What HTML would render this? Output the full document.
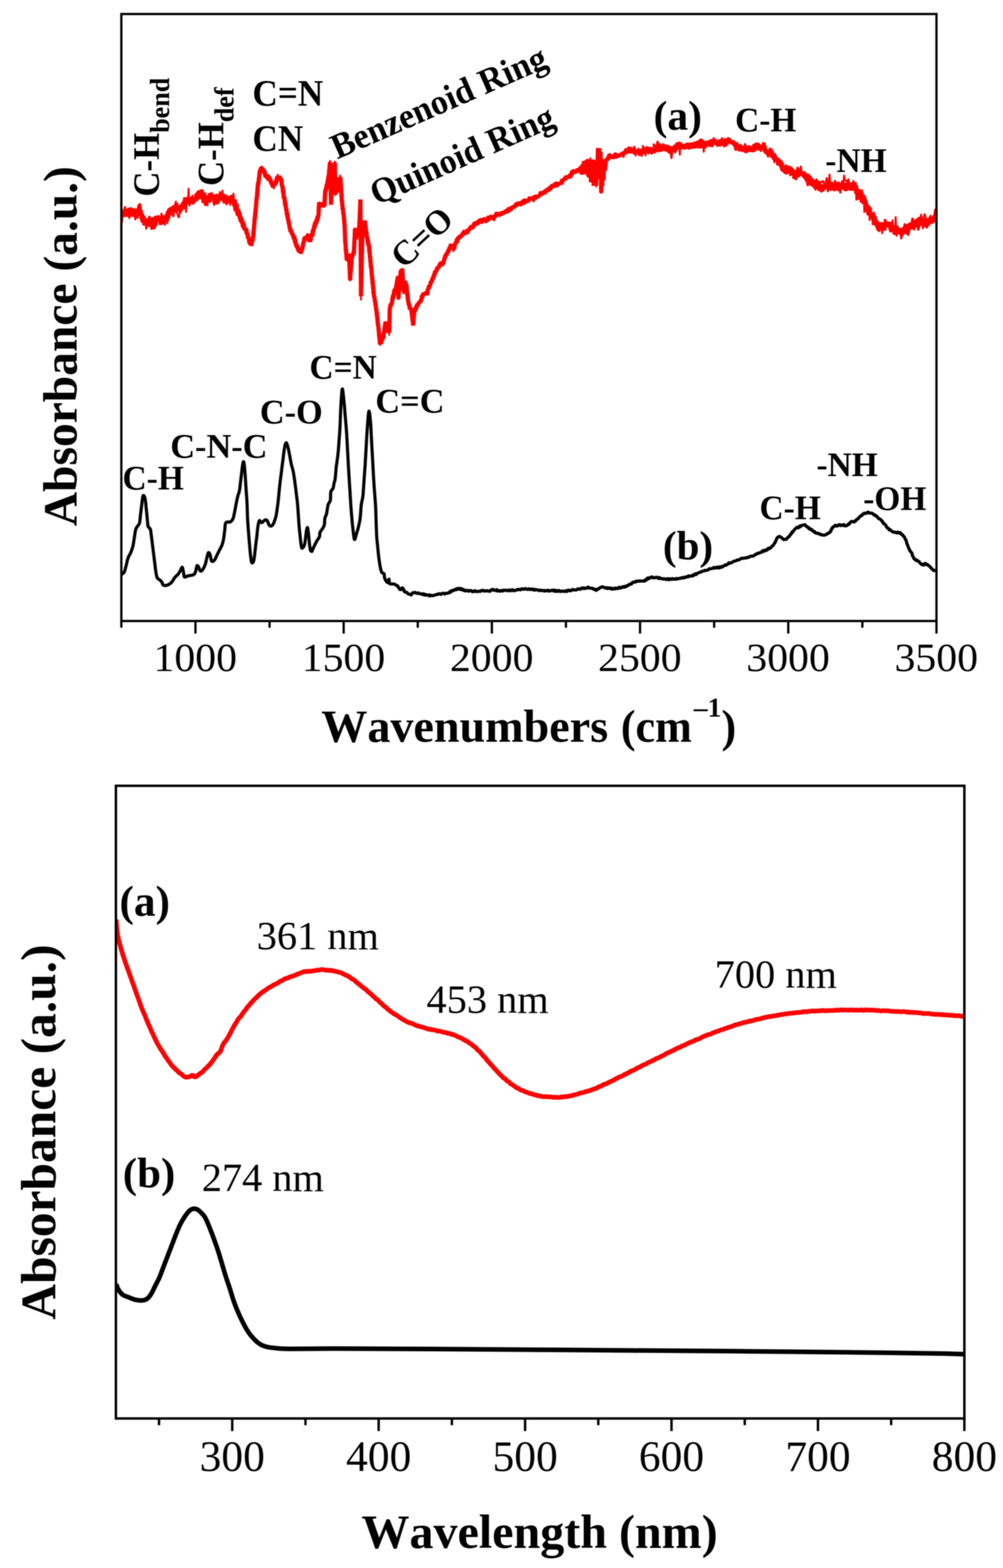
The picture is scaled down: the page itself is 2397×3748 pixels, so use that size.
<!DOCTYPE html>
<html lang="en">
<head>
<meta charset="utf-8">
<title>FTIR and UV-Vis absorbance spectra</title>
<style>
html,body{margin:0;padding:0;background:#fff;}
body{width:2397px;height:3748px;overflow:hidden;}
svg{display:block;filter:blur(0.9px);}
text{font-family:'Liberation Serif', 'Times New Roman', serif;fill:#000;font-kerning:none;}
.b{font-weight:bold;}
.ax{stroke:#000;fill:none;}
.red{stroke:#ff0000;fill:none;stroke-linejoin:bevel;stroke-linecap:butt;}
.blk{stroke:#000;fill:none;stroke-linejoin:round;stroke-linecap:butt;}
</style>
</head>
<body>
<svg width="2397" height="3748" viewBox="0 0 2397 3748">
<rect x="0" y="0" width="2397" height="3748" fill="#ffffff"/>

<g id="ftir">
<clipPath id="c1"><rect x="290.0" y="33.5" width="1951.0" height="1450.9"/></clipPath>
<g clip-path="url(#c1)">
<path class="red" stroke-width="10" d="M289.9,514.3 L291.0,514.8 L292.1,504.0 L293.1,515.5 L294.2,502.9 L295.3,515.5 L296.4,516.3 L297.5,510.5 L298.6,500.7 L299.7,510.0 L300.8,507.2 L301.9,517.9 L303.1,499.6 L304.2,513.4 L305.4,515.1 L306.6,508.2 L307.7,510.0 L308.9,496.9 L310.0,513.4 L311.2,503.1 L312.3,514.2 L313.4,513.8 L314.5,498.7 L315.6,512.2 L316.7,515.8 L317.8,498.2 L319.0,504.5 L320.3,512.7 L321.6,499.8 L322.9,514.9 L324.2,501.5 L325.5,513.3 L326.8,499.8 L328.1,507.8 L328.9,516.0 L329.8,500.6 L330.6,500.1 L331.5,503.5 L332.4,498.0 L333.2,490.5 L333.7,494.2 L334.1,495.4 L334.5,513.3 L334.9,509.6 L335.3,515.8 L335.7,502.3 L336.1,516.0 L336.5,502.8 L336.9,512.2 L337.3,515.2 L337.7,510.2 L338.1,522.2 L338.5,516.8 L338.9,518.6 L339.3,526.1 L339.7,511.1 L340.6,531.1 L341.5,524.9 L342.3,521.4 L343.2,531.2 L344.1,521.5 L344.9,538.1 L345.8,531.0 L346.7,528.0 L347.5,537.9 L348.8,532.0 L350.1,525.9 L351.4,537.2 L352.7,522.2 L354.0,537.8 L355.3,525.5 L356.6,534.0 L357.9,541.6 L359.2,533.4 L360.5,535.1 L361.8,528.0 L363.1,522.0 L364.4,523.1 L365.7,526.0 L367.0,536.2 L368.3,532.9 L369.0,533.8 L369.7,541.1 L370.4,524.6 L371.1,525.9 L371.9,534.0 L372.6,519.4 L373.3,517.5 L374.0,523.3 L374.7,516.7 L375.4,520.4 L376.1,516.3 L377.2,524.3 L378.3,525.0 L379.4,517.5 L380.6,526.7 L381.7,525.1 L382.8,519.5 L383.9,537.5 L385.2,523.8 L386.5,522.6 L387.8,520.3 L389.1,530.5 L390.4,534.2 L391.7,531.3 L393.0,522.3 L394.3,520.4 L394.9,515.0 L395.6,528.1 L396.2,526.2 L396.9,521.7 L397.5,526.1 L398.2,520.1 L398.8,528.6 L399.5,522.6 L400.1,510.8 L400.8,523.1 L401.4,504.1 L402.1,512.9 L402.9,509.2 L403.8,504.5 L404.7,499.8 L405.5,513.7 L406.4,496.9 L407.3,507.0 L408.1,514.1 L409.0,496.8 L409.9,497.2 L410.7,504.9 L411.6,502.1 L412.5,504.1 L413.4,507.5 L414.4,494.1 L415.4,496.6 L416.4,496.2 L417.3,490.8 L418.3,506.6 L419.3,502.9 L420.3,499.9 L421.2,485.3 L422.2,502.7 L423.2,501.9 L424.2,497.4 L425.1,504.4 L426.1,499.7 L427.1,496.3 L428.1,494.7 L428.8,496.4 L429.5,491.4 L430.2,496.5 L430.9,504.1 L431.6,501.6 L432.3,503.3 L433.0,499.1 L433.7,488.6 L434.4,493.1 L435.1,489.8 L435.8,496.3 L436.8,490.1 L437.7,484.0 L438.7,491.0 L439.6,496.2 L440.6,479.2 L441.5,491.4 L442.5,472.0 L443.4,475.6 L444.3,474.1 L445.3,483.6 L446.2,486.8 L447.5,482.4 L448.8,473.5 L450.1,484.7 L451.4,473.2 L452.7,471.2 L454.0,484.8 L455.3,478.9 L456.6,480.5 L457.9,480.1 L459.2,486.8 L460.5,476.6 L461.8,484.4 L463.0,480.5 L464.1,482.7 L465.3,473.1 L466.4,478.0 L467.6,473.8 L468.7,467.5 L469.9,464.7 L471.1,472.3 L472.2,460.2 L473.3,476.5 L474.4,460.3 L475.5,457.5 L476.7,458.7 L477.8,475.1 L478.9,462.7 L480.0,457.7 L481.1,455.9 L482.2,456.8 L483.3,470.7 L484.5,470.1 L485.6,472.0 L486.7,473.3 L487.8,460.2 L488.4,471.9 L488.9,468.2 L489.5,479.2 L490.1,481.0 L490.7,484.2 L491.3,469.1 L491.8,487.2 L492.4,489.2 L493.0,490.9 L493.9,472.8 L494.9,473.9 L495.8,471.0 L496.8,468.1 L497.7,483.3 L498.7,481.3 L499.6,476.3 L500.5,478.8 L501.5,474.4 L502.4,466.9 L503.4,462.7 L504.5,463.7 L505.7,478.3 L506.8,467.7 L508.0,470.7 L509.1,473.5 L510.3,465.9 L511.5,471.4 L512.6,473.1 L513.8,483.0 L515.1,475.9 L516.4,474.9 L517.7,488.0 L519.0,478.0 L520.3,484.5 L521.6,479.2 L522.7,466.4 L523.9,473.5 L525.0,472.9 L526.2,478.6 L527.3,468.8 L528.5,475.1 L529.6,470.6 L530.8,464.2 L531.9,477.6 L532.7,463.8 L533.5,480.5 L534.3,469.1 L535.1,465.7 L535.8,469.8 L536.6,481.2 L537.4,485.7 L538.2,465.9 L539.0,477.2 L539.7,478.6 L540.9,484.5 L542.0,471.9 L543.2,477.9 L544.4,474.8 L545.5,484.4 L546.7,472.6 L547.8,486.3 L549.0,472.7 L550.1,470.1 L551.2,479.8 L552.4,475.5 L553.5,467.5 L554.6,478.0 L555.7,467.7 L556.8,483.0 L557.9,482.1 L558.3,485.5 L558.7,483.9 L559.0,479.1 L559.4,480.7 L559.8,481.2 L560.1,492.0 L560.5,476.4 L560.9,494.5 L561.3,479.2 L561.6,484.7 L562.0,487.8 L562.4,502.2 L562.7,495.7 L563.1,494.7 L564.0,505.3 L564.8,493.9 L565.7,499.1 L566.6,501.1 L567.4,505.7 L568.3,506.3 L568.7,505.4 L569.0,501.2 L569.4,502.3 L569.7,500.9 L570.0,514.3 L570.4,512.6 L570.7,515.5 L571.1,506.4 L571.4,511.6 L571.8,517.9 L572.1,515.3 L572.5,508.5 L572.8,515.7 L573.2,524.1 L573.5,515.2 L574.0,516.0 L574.5,519.4 L575.1,526.8 L575.6,530.1 L576.1,520.6 L576.6,521.7 L577.1,524.3 L577.7,526.7 L578.2,530.8 L578.7,526.7 L579.2,530.4 L579.7,529.6 L580.3,541.9 L580.8,539.5 L581.3,531.9 L581.9,544.8 L582.5,534.3 L583.1,539.6 L583.7,549.0 L584.3,547.9 L584.9,548.5 L585.5,546.2 L586.1,544.5 L586.7,551.2 L587.3,546.0 L587.9,548.5 L588.5,552.0 L589.1,548.8 L589.4,553.9 L589.8,559.2 L590.1,559.0 L590.5,557.8 L590.8,560.6 L591.2,560.0 L591.5,557.7 L591.9,564.2 L592.2,563.4 L592.6,567.9 L592.9,570.6 L593.2,566.1 L593.6,568.6 L593.9,571.3 L594.3,569.3 L594.8,568.8 L595.2,575.8 L595.7,579.2 L596.2,579.6 L596.7,580.0 L597.1,582.8 L597.6,582.0 L598.1,582.8 L598.6,581.8 L599.0,581.7 L599.5,586.6 L600.0,582.1 L600.4,584.6 L600.7,587.5 L601.1,585.4 L601.4,583.0 L601.8,577.4 L602.2,577.9 L602.5,576.9 L602.9,577.1 L603.2,573.1 L603.6,574.4 L604.0,575.6 L604.3,565.7 L604.7,569.7 L604.8,569.8 L604.9,564.3 L605.0,564.1 L605.2,568.2 L605.3,556.8 L605.4,561.3 L605.5,555.9 L605.6,561.6 L605.8,562.3 L605.9,555.9 L606.0,549.6 L606.1,553.1 L606.3,551.0 L606.4,551.3 L606.5,548.0 L606.6,548.4 L606.7,549.4 L606.9,545.0 L607.0,542.8 L607.1,547.2 L607.2,537.6 L607.4,541.4 L607.5,536.7 L607.6,539.2 L607.7,530.9 L607.8,539.0 L608.0,530.8 L608.1,526.2 L608.2,527.2 L608.3,527.3 L608.4,521.7 L608.6,524.8 L608.7,523.5 L608.8,525.2 L608.9,520.6 L609.1,518.8 L609.2,517.5 L609.3,522.3 L609.4,523.6 L609.5,517.4 L609.7,512.3 L609.8,517.0 L609.9,510.8 L610.0,507.1 L610.2,505.0 L610.3,510.8 L610.4,510.0 L610.5,506.8 L610.6,503.8 L610.8,503.6 L610.9,498.7 L611.0,505.6 L611.1,497.7 L611.2,499.6 L611.4,500.6 L611.5,499.6 L611.6,494.8 L611.7,491.9 L611.9,493.6 L612.0,487.2 L612.1,493.2 L612.2,486.1 L612.3,489.8 L612.5,481.6 L612.6,481.7 L612.7,479.3 L612.8,480.1 L613.0,476.4 L613.1,473.4 L613.2,480.0 L613.3,473.9 L613.4,472.3 L613.6,471.7 L613.7,472.4 L613.8,470.8 L613.9,471.9 L614.1,471.1 L614.2,466.8 L614.3,471.8 L614.4,469.7 L614.5,459.7 L614.7,466.7 L614.8,466.2 L614.9,463.6 L615.0,455.3 L615.1,461.5 L615.3,458.1 L615.4,450.1 L615.5,448.8 L615.6,457.4 L615.8,452.5 L615.9,446.4 L616.0,443.1 L616.1,441.9 L616.2,441.7 L616.4,446.4 L616.5,440.5 L616.7,437.2 L616.9,444.1 L617.1,441.6 L617.2,433.5 L617.4,440.0 L617.6,435.6 L617.8,436.1 L618.0,433.9 L618.1,435.4 L618.3,433.3 L618.5,432.8 L618.7,424.9 L618.8,429.0 L619.0,426.0 L619.2,427.1 L619.4,422.5 L619.6,426.1 L619.7,420.7 L619.9,415.8 L620.1,413.7 L620.3,410.8 L620.7,413.0 L621.2,407.1 L621.7,410.4 L622.1,405.7 L622.6,408.3 L623.1,407.2 L623.6,406.5 L624.0,408.9 L624.5,398.5 L625.0,406.3 L625.5,401.2 L626.2,403.3 L626.9,405.5 L627.7,408.5 L628.4,404.6 L629.2,406.2 L629.9,413.3 L630.6,405.1 L631.2,412.4 L631.8,413.7 L632.4,408.5 L633.0,415.9 L633.5,417.9 L634.1,421.8 L634.7,416.6 L635.3,424.8 L635.8,420.7 L637.0,421.0 L638.1,425.9 L639.2,417.3 L640.3,425.1 L641.4,424.7 L642.5,422.2 L643.6,428.3 L644.2,424.2 L644.7,426.4 L645.2,428.4 L645.7,432.4 L646.2,428.0 L646.8,431.8 L647.3,433.1 L647.8,435.7 L648.3,439.7 L648.8,435.3 L649.4,442.1 L649.9,438.9 L650.4,441.2 L650.9,440.1 L651.4,443.9 L652.4,447.9 L653.4,443.8 L654.4,444.4 L655.3,438.9 L656.3,438.0 L657.3,437.1 L658.2,439.3 L659.2,438.7 L659.6,438.9 L660.0,429.8 L660.4,435.5 L660.8,435.8 L661.2,431.0 L661.6,424.6 L662.0,425.9 L662.4,421.6 L662.8,422.2 L663.2,428.5 L663.6,424.2 L664.0,423.6 L664.4,423.8 L665.7,425.7 L667.0,423.3 L668.3,424.1 L669.6,424.9 L669.9,426.9 L670.3,427.2 L670.6,429.0 L670.9,425.2 L671.2,430.7 L671.6,429.5 L671.9,433.6 L672.2,428.7 L672.5,431.3 L672.9,431.6 L673.2,440.9 L673.5,444.1 L673.8,442.7 L674.2,441.0 L674.5,446.8 L674.8,447.7 L675.0,446.6 L675.1,444.8 L675.3,446.6 L675.5,449.1 L675.6,449.4 L675.8,451.8 L676.0,455.2 L676.2,459.4 L676.3,451.7 L676.5,458.1 L676.7,454.0 L676.8,455.8 L677.0,463.8 L677.2,462.4 L677.3,466.9 L677.5,463.2 L677.7,460.1 L677.8,465.1 L678.0,468.5 L678.2,473.2 L678.4,474.9 L678.7,471.0 L678.9,471.5 L679.1,469.5 L679.4,476.1 L679.6,472.8 L679.8,473.8 L680.1,474.1 L680.3,475.6 L680.5,484.0 L680.8,480.0 L681.0,489.4 L681.3,481.6 L681.5,490.4 L681.7,483.9 L682.0,483.8 L682.2,492.1 L682.4,488.6 L682.7,494.9 L682.9,490.7 L683.1,490.6 L683.4,499.2 L683.6,500.0 L683.8,502.8 L684.1,502.9 L684.3,497.9 L684.6,504.6 L684.8,506.7 L685.0,505.4 L685.3,511.4 L685.5,505.9 L685.7,514.4 L686.0,513.4 L686.2,507.7 L686.4,509.1 L686.7,516.9 L686.9,519.7 L687.2,513.5 L687.4,516.9 L687.6,522.2 L687.9,517.7 L688.1,525.9 L688.3,523.5 L688.6,520.5 L688.9,524.8 L689.1,528.2 L689.4,528.2 L689.7,531.9 L690.0,528.0 L690.3,535.9 L690.6,533.0 L690.9,537.0 L691.2,538.2 L691.5,537.3 L691.7,538.3 L692.0,543.5 L692.3,546.5 L692.6,546.4 L692.9,545.7 L693.2,544.4 L693.5,543.6 L693.8,553.7 L694.5,552.0 L695.3,554.1 L696.0,550.2 L696.7,553.8 L697.5,559.0 L698.2,559.2 L699.0,558.5 L699.4,557.3 L699.8,560.1 L700.2,565.7 L700.6,561.7 L701.0,565.8 L701.4,566.1 L701.8,570.0 L702.2,570.1 L702.6,565.9 L703.0,564.1 L703.4,567.5 L703.8,570.0 L704.2,572.9 L704.6,576.4 L705.0,578.4 L705.4,571.4 L705.8,580.3 L706.2,581.4 L706.6,583.2 L707.0,581.5 L707.4,579.9 L707.8,586.8 L708.2,587.6 L708.6,587.6 L709.0,591.0 L709.4,586.7 L709.9,585.3 L710.5,590.9 L711.1,594.3 L711.7,589.5 L712.2,595.9 L712.8,598.7 L713.4,593.4 L714.0,598.6 L714.5,600.9 L715.5,599.8 L716.5,598.4 L717.5,599.6 L718.4,605.1 L718.9,604.4 L719.4,600.1 L719.9,595.4 L720.3,600.9 L720.8,599.1 L721.3,592.4 L721.7,594.3 L722.2,595.9 L722.7,594.6 L723.2,589.9 L723.6,588.3 L724.0,588.1 L724.3,582.9 L724.6,581.4 L724.9,579.8 L725.3,583.3 L725.6,578.5 L725.9,579.0 L726.2,576.1 L726.6,575.9 L726.9,571.1 L727.2,568.8 L727.5,576.7 L728.5,569.8 L729.5,566.4 L730.5,570.6 L731.4,571.3 L732.4,564.4 L733.4,567.6 L734.4,564.2 L735.3,564.8 L735.9,561.1 L736.5,562.4 L737.1,573.0 L737.6,573.3 L738.2,571.1 L738.8,573.4 L739.4,571.9 L739.9,577.7 L740.5,575.0 L741.0,578.5 L741.5,575.2 L741.9,574.2 L742.4,574.3 L742.9,566.2 L743.4,562.9 L743.8,563.2 L744.3,561.8 L744.8,560.2 L745.2,559.2 L745.7,563.4 L746.0,565.6 L746.4,560.8 L746.7,564.0 L747.0,562.1 L747.3,552.5 L747.7,556.1 L748.0,552.6 L748.3,548.4 L748.6,555.0 L749.0,546.7 L749.3,548.2 L749.6,547.4 L749.9,549.3 L750.3,545.5 L750.6,541.8 L750.9,541.2 L751.4,537.5 L751.9,543.7 L752.3,542.5 L752.8,533.7 L753.3,530.5 L753.7,531.1 L754.2,531.1 L754.7,535.5 L755.2,534.6 L755.6,533.0 L756.1,524.6 L756.5,530.7 L756.9,529.0 L757.3,527.4 L757.7,529.7 L758.1,519.9 L758.5,519.5 L758.9,524.0 L759.3,524.5 L759.7,520.8 L760.1,515.9 L760.5,517.4 L760.9,517.7 L761.3,510.2 L761.4,510.9 L761.4,508.9 L761.5,506.1 L761.5,507.9 L761.6,503.4 L761.7,502.6 L761.7,500.1 L761.8,504.0 L761.8,496.4 L761.9,501.8 L761.9,495.6 L762.0,492.9 L762.1,500.0 L762.1,491.8 L762.2,497.2 L762.2,495.2 L762.3,494.0 L762.4,485.9 L762.4,487.8 L762.5,483.5 L762.5,490.5 L762.6,488.7 L763.4,487.5 L764.2,486.6 L765.0,486.4 L765.8,491.9 L766.7,489.4 L767.5,492.0 L768.3,488.5 L769.1,490.3 L770.4,488.4 L771.7,494.2 L773.0,491.9 L774.3,487.3 L775.6,493.4 L775.6,486.1 L775.7,486.0 L775.7,482.2 L775.8,481.9 L775.9,486.0 L775.9,479.8 L776.0,476.9 L776.0,479.0 L776.1,476.4 L776.1,480.9 L776.2,472.5 L776.2,479.6 L776.3,469.7 L776.3,476.4 L776.4,473.1 L776.5,467.6 L776.5,468.9 L776.6,465.7 L776.6,464.1 L776.7,462.2 L776.7,462.3 L776.8,466.9 L776.8,465.6 L776.9,463.6 L777.2,454.6 L777.6,455.1 L777.9,459.6 L778.3,450.5 L778.6,455.6 L779.0,450.3 L779.3,455.6 L779.7,445.3 L780.0,451.5 L780.3,445.9 L780.7,442.7 L781.0,440.2 L781.4,446.7 L781.7,442.4 L782.1,437.7 L782.3,438.4 L782.6,441.3 L782.8,433.2 L783.1,435.4 L783.3,430.2 L783.5,429.5 L783.8,433.9 L784.0,432.2 L784.3,425.9 L784.5,423.4 L784.8,422.1 L785.0,425.7 L785.2,423.2 L785.5,419.6 L785.7,417.5 L786.0,419.9 L786.1,419.3 L786.2,418.8 L786.3,415.4 L786.4,410.5 L786.5,407.9 L786.6,412.9 L786.7,408.5 L786.8,410.3 L786.9,402.9 L787.1,408.8 L787.2,403.2 L787.3,406.8 L787.4,405.7 L787.5,400.9 L787.6,395.1 L787.7,402.2 L787.8,396.8 L787.9,399.4 L788.0,392.7 L788.1,390.9 L788.2,395.9 L788.4,390.4 L788.5,387.4 L788.6,388.2 L788.6,391.7 L788.6,387.6 L788.7,393.9 L788.7,394.2 L788.7,395.9 L788.8,393.2 L788.8,399.8 L788.9,401.8 L788.9,403.8 L788.9,400.3 L789.0,405.5 L789.0,404.0 L789.0,409.0 L789.1,403.8 L789.1,412.8 L789.1,414.9 L789.2,411.9 L789.2,413.4 L789.2,414.8 L789.3,416.2 L789.3,412.6 L789.3,422.8 L789.4,417.1 L789.4,417.7 L789.4,417.9 L789.5,420.3 L789.5,426.6 L789.6,420.2 L789.6,422.0 L789.6,428.9 L789.7,425.4 L789.7,424.9 L789.7,431.6 L789.8,432.7 L789.8,433.5 L789.8,436.5 L789.9,432.2 L789.9,440.7 L789.9,440.5 L790.0,435.5 L790.0,437.5 L790.0,442.3 L790.1,443.6 L790.1,442.8 L790.2,442.7 L790.2,446.6 L790.2,445.4 L790.3,451.0 L790.3,455.0 L790.3,449.9 L790.4,455.4 L790.4,458.5 L790.4,454.6 L790.5,462.2 L790.5,464.7 L790.5,461.0 L790.6,462.8 L790.6,468.2 L790.6,466.5 L790.7,466.5 L790.7,472.9 L790.7,472.6 L790.8,469.8 L790.8,470.0 L790.9,472.0 L790.9,474.0 L790.9,480.2 L791.0,479.7 L791.0,482.1 L791.0,482.6 L791.1,484.3 L791.1,478.2 L791.1,483.9 L791.2,489.5 L791.2,488.0 L791.3,480.4 L791.4,480.8 L791.4,481.5 L791.5,477.3 L791.6,477.2 L791.7,471.2 L791.7,472.9 L791.8,471.9 L791.9,466.4 L791.9,466.5 L792.0,473.3 L792.1,470.5 L792.1,471.0 L792.2,467.0 L792.3,467.5 L792.4,467.0 L792.4,465.9 L792.5,456.7 L792.6,461.1 L792.6,456.2 L792.7,458.7 L792.8,453.5 L792.8,454.7 L792.9,456.9 L793.0,452.8 L793.0,448.0 L793.1,449.2 L793.2,447.1 L793.3,450.5 L793.3,442.8 L793.4,441.5 L793.5,443.3 L793.5,436.9 L793.6,439.9 L793.7,441.8 L793.7,436.2 L793.8,432.5 L793.9,432.9 L794.0,432.5 L794.0,427.9 L794.1,426.7 L794.2,425.8 L794.2,426.4 L794.3,425.9 L794.4,423.2 L794.4,421.3 L794.5,418.3 L794.6,421.0 L794.6,422.7 L794.7,419.5 L794.8,418.1 L794.9,417.8 L794.9,412.6 L795.0,416.1 L795.1,412.6 L795.4,412.2 L795.6,411.6 L795.9,409.0 L796.2,405.9 L796.5,403.7 L796.8,401.9 L797.1,403.0 L797.4,400.2 L797.7,400.8 L798.0,394.1 L798.2,396.0 L798.5,399.5 L798.8,392.4 L799.1,394.3 L799.4,392.7 L799.7,389.8 L800.0,395.3 L800.3,387.9 L800.3,393.5 L800.3,388.9 L800.3,389.3 L800.3,397.9 L800.4,395.1 L800.4,392.6 L800.4,396.6 L800.4,398.1 L800.5,401.9 L800.5,397.0 L800.5,399.4 L800.5,407.5 L800.6,406.7 L800.6,402.6 L800.6,405.5 L800.6,407.0 L800.6,411.3 L800.7,412.1 L800.7,415.6 L800.7,416.6 L800.7,415.5 L800.8,419.2 L800.8,421.0 L800.8,422.8 L800.8,421.9 L800.8,426.0 L800.9,426.6 L800.9,429.7 L800.9,423.6 L800.9,431.8 L801.0,424.7 L801.0,432.7 L801.0,432.0 L801.0,432.1 L801.0,437.4 L801.1,435.4 L801.1,435.6 L801.1,440.7 L801.1,443.2 L801.2,442.4 L801.2,441.6 L801.2,443.7 L801.2,445.1 L801.2,449.0 L801.3,446.4 L801.3,448.4 L801.3,451.1 L801.3,450.6 L801.4,451.1 L801.4,456.6 L801.4,458.3 L801.4,456.2 L801.4,456.8 L801.5,455.5 L801.5,457.8 L801.5,457.7 L801.5,463.1 L801.6,464.6 L801.6,458.8 L801.7,465.3 L801.8,458.3 L801.9,461.6 L802.0,460.0 L802.1,459.6 L802.2,451.1 L802.3,451.8 L802.3,454.9 L802.4,445.2 L802.5,444.2 L802.6,447.6 L802.7,446.2 L802.8,449.4 L802.9,447.2 L802.9,444.2 L803.0,447.7 L803.1,441.8 L803.2,440.3 L803.3,440.4 L803.4,436.2 L803.5,434.4 L803.5,435.2 L803.6,431.6 L803.7,435.8 L803.8,431.9 L803.9,429.1 L804.0,424.1 L804.1,425.6 L804.2,424.7 L804.4,427.7 L804.6,429.4 L804.8,433.3 L805.0,435.1 L805.2,431.7 L805.4,432.3 L805.6,435.0 L805.8,440.0 L806.0,435.5 L806.2,438.7 L806.4,442.9 L806.6,438.4 L806.8,441.1 L807.0,448.5 L807.2,448.4 L807.4,446.7 L807.6,444.3 L807.8,452.5 L808.0,451.6 L808.2,453.8 L808.4,456.3 L808.6,456.3 L808.8,453.3 L809.0,452.2 L809.2,454.7 L809.4,458.1 L809.5,456.8 L809.7,452.6 L809.8,451.2 L810.0,454.1 L810.1,452.6 L810.2,449.0 L810.4,453.6 L810.5,449.0 L810.7,442.1 L810.8,444.2 L811.0,446.4 L811.1,440.8 L811.3,443.3 L811.4,435.8 L811.6,437.5 L811.7,441.3 L811.9,437.5 L812.0,436.8 L812.2,430.9 L812.3,432.2 L812.5,431.3 L812.6,427.4 L812.8,429.7 L812.9,427.4 L813.1,430.5 L813.2,425.4 L813.3,425.0 L813.4,423.5 L813.5,425.0 L813.6,431.7 L813.7,426.8 L813.8,428.5 L813.9,430.8 L813.9,435.8 L814.0,440.3 L814.1,440.1 L814.2,442.9 L814.3,437.0 L814.4,437.5 L814.5,445.5 L814.5,442.4 L814.6,447.4 L814.7,445.4 L814.8,445.0 L814.9,447.3 L815.0,447.1 L815.1,455.9 L815.2,454.3 L815.2,453.5 L815.3,455.8 L815.4,456.6 L815.5,455.0 L815.6,464.2 L815.7,462.8 L815.8,467.8 L815.8,464.4 L816.0,467.1 L816.1,464.7 L816.2,463.9 L816.3,473.1 L816.4,473.5 L816.5,470.0 L816.6,477.0 L816.7,477.8 L816.8,474.6 L816.9,478.9 L817.0,483.3 L817.1,480.1 L817.3,485.4 L817.4,479.9 L817.5,482.4 L817.6,486.7 L817.7,483.4 L817.8,485.6 L817.9,492.1 L818.0,489.8 L818.1,494.0 L818.2,490.2 L818.3,490.8 L818.4,493.8 L818.6,493.5 L818.8,501.8 L818.9,496.6 L819.1,500.1 L819.3,497.0 L819.4,501.9 L819.6,502.1 L819.7,503.7 L819.9,502.1 L820.1,504.2 L820.2,512.2 L820.4,509.0 L820.6,509.2 L820.7,509.8 L820.9,511.8 L821.0,512.6 L821.2,511.9 L821.4,518.9 L821.5,517.2 L821.7,516.6 L821.9,522.9 L822.0,519.0 L822.2,522.3 L822.3,529.3 L822.5,524.4 L822.6,529.0 L822.7,533.5 L822.8,534.2 L822.9,529.1 L823.0,531.9 L823.2,536.2 L823.3,534.4 L823.4,541.2 L823.5,535.7 L823.6,543.9 L823.7,541.3 L823.7,540.1 L823.8,543.7 L823.8,542.1 L823.9,548.9 L823.9,546.2 L823.9,553.3 L824.0,551.6 L824.0,550.8 L824.1,550.9 L824.1,555.4 L824.2,553.0 L824.2,560.2 L824.2,554.5 L824.3,559.3 L824.3,560.7 L824.4,559.6 L824.4,565.6 L824.5,563.5 L824.5,567.4 L824.5,567.9 L824.6,566.9 L824.6,568.9 L824.7,567.5 L824.7,569.6 L824.8,577.1 L824.8,573.7 L824.8,578.3 L824.9,574.6 L824.9,580.2 L825.1,579.7 L825.2,582.0 L825.3,581.0 L825.4,579.8 L825.5,583.0 L825.7,583.2 L825.8,583.8 L825.9,590.8 L826.0,588.3 L826.2,591.0 L826.3,597.2 L826.4,597.1 L826.5,599.2 L826.6,600.1 L826.8,594.6 L826.9,597.0 L827.0,596.1 L827.1,603.4 L827.2,604.5 L827.4,603.0 L827.5,604.8 L827.6,608.7 L827.7,610.6 L827.9,608.0 L828.0,615.1 L828.1,612.1 L828.2,615.8 L828.3,612.8 L828.5,613.4 L828.6,621.9 L828.7,621.4 L828.8,622.5 L829.3,615.2 L829.8,614.0 L830.2,614.0 L830.7,613.2 L831.2,613.1 L831.7,612.7 L832.1,608.5 L832.6,609.9 L833.1,611.8 L833.6,606.5 L834.0,611.5 L834.1,610.4 L834.1,613.1 L834.2,610.3 L834.3,613.0 L834.3,616.3 L834.4,614.3 L834.4,612.1 L834.5,620.8 L834.5,621.7 L834.6,618.6 L834.6,617.7 L834.7,626.6 L834.8,625.7 L834.8,621.8 L834.9,624.9 L834.9,624.9 L835.0,632.4 L835.0,628.3 L835.1,636.0 L835.2,635.8 L835.2,631.0 L835.3,637.9 L835.3,636.5 L835.4,641.1 L835.4,643.2 L835.5,639.6 L835.6,639.2 L835.6,648.5 L835.7,644.9 L835.7,650.7 L835.8,649.7 L835.8,651.3 L835.9,653.3 L835.9,652.8 L836.0,652.5 L836.1,650.2 L836.1,657.4 L836.2,656.3 L836.2,658.3 L836.3,663.4 L836.3,657.4 L836.4,664.4 L836.5,659.1 L836.5,666.7 L836.6,669.2 L836.6,665.8 L836.7,667.3 L836.8,670.1 L836.9,665.7 L837.0,663.4 L837.1,659.3 L837.2,656.1 L837.3,657.4 L837.4,656.7 L837.5,653.6 L837.6,653.4 L837.8,650.6 L837.9,654.6 L838.0,653.0 L838.1,647.7 L838.2,646.5 L838.3,647.8 L838.4,645.8 L838.5,648.7 L838.6,641.7 L838.7,639.5 L838.8,643.2 L838.9,634.8 L839.0,637.5 L839.1,634.3 L839.2,637.5 L839.3,633.9 L839.4,634.7 L839.5,628.2 L839.6,631.7 L839.7,630.0 L839.8,627.6 L839.9,629.3 L840.0,628.5 L840.1,620.6 L840.2,620.9 L840.3,620.2 L840.4,617.4 L840.5,614.4 L841.0,614.9 L841.5,612.6 L841.9,615.6 L842.4,611.8 L842.9,607.5 L843.4,608.3 L843.8,608.4 L844.3,606.2 L844.8,603.3 L845.2,601.4 L845.7,599.8 L845.8,607.6 L845.8,604.3 L845.9,597.1 L846.0,601.4 L846.0,602.3 L846.1,597.0 L846.1,591.4 L846.2,593.3 L846.3,591.6 L846.3,588.2 L846.4,590.2 L846.5,584.1 L846.5,591.2 L846.6,587.3 L846.6,585.8 L846.7,587.2 L846.8,583.2 L846.8,578.2 L846.9,577.1 L847.0,575.2 L847.0,573.2 L847.1,579.0 L847.1,578.6 L847.2,572.4 L847.3,570.2 L847.3,573.0 L847.4,573.7 L847.4,573.2 L847.5,565.0 L847.6,569.4 L847.6,568.6 L847.7,566.6 L847.8,561.5 L847.8,558.6 L847.9,562.7 L847.9,556.4 L848.0,555.2 L848.1,555.2 L848.1,552.5 L848.2,555.7 L848.2,549.3 L848.3,546.5 L848.7,552.8 L849.1,554.5 L849.5,557.4 L849.9,557.5 L850.3,560.5 L850.7,562.0 L851.1,558.9 L851.5,559.9 L851.9,557.7 L852.3,559.9 L852.7,563.4 L853.1,560.4 L853.5,567.5 L853.8,561.8 L854.0,563.5 L854.3,567.3 L854.5,558.1 L854.8,556.4 L855.1,558.8 L855.3,555.2 L855.6,558.8 L855.8,550.6 L856.1,556.5 L856.4,555.0 L856.6,552.7 L856.9,547.7 L857.1,545.5 L857.4,548.0 L857.7,545.7 L857.9,544.0 L858.2,542.3 L858.4,541.6 L858.7,542.1 L858.8,542.0 L858.8,541.1 L858.9,532.8 L858.9,532.8 L859.0,532.9 L859.0,532.7 L859.1,529.5 L859.1,526.9 L859.2,524.9 L859.3,526.0 L859.3,526.2 L859.4,529.8 L859.4,528.2 L859.5,526.5 L859.5,526.1 L859.6,524.6 L859.6,520.1 L859.7,520.5 L859.8,512.1 L859.8,516.0 L859.9,513.8 L859.9,509.3 L860.0,510.2 L860.0,512.5 L860.1,507.0 L860.1,507.4 L860.2,503.1 L860.2,502.4 L860.3,506.0 L860.4,497.0 L860.4,497.2 L860.5,500.4 L860.5,497.1 L860.6,492.4 L860.6,496.2 L860.7,492.3 L860.7,492.8 L860.8,489.9 L860.9,489.6 L860.9,488.5 L861.0,485.6 L861.0,481.7 L861.1,481.0 L861.1,486.1 L861.2,481.8 L861.2,476.7 L861.3,482.2 L861.3,478.1 L861.3,478.2 L861.3,483.6 L861.3,482.6 L861.3,486.3 L861.3,488.4 L861.4,486.3 L861.4,490.4 L861.4,487.2 L861.4,491.8 L861.4,493.4 L861.4,490.4 L861.4,494.9 L861.4,493.5 L861.4,498.3 L861.4,503.8 L861.4,502.2 L861.4,504.9 L861.4,506.5 L861.4,502.0 L861.5,511.1 L861.5,509.8 L861.5,505.3 L861.5,512.9 L861.5,510.1 L861.5,509.1 L861.5,517.7 L861.5,515.6 L861.5,519.0 L861.5,514.7 L861.5,521.9 L861.5,516.9 L861.5,520.0 L861.6,522.7 L861.6,520.9 L861.6,527.6 L861.6,525.4 L861.6,527.4 L861.6,532.3 L861.6,531.0 L861.6,536.5 L861.6,535.1 L861.6,538.5 L861.6,536.7 L861.6,541.0 L861.6,541.7 L861.6,537.1 L861.7,544.1 L861.7,542.2 L861.7,547.8 L861.7,548.8 L861.7,551.3 L861.7,546.2 L861.7,549.7 L861.7,554.1 L861.7,557.3 L861.7,556.6 L861.7,551.9 L861.7,558.3 L861.7,555.2 L861.8,560.6 L861.8,563.8 L861.8,558.4 L861.8,566.6 L861.8,565.2 L861.8,562.2 L861.8,563.1 L861.8,566.8 L861.8,571.7 L861.8,570.8 L861.8,567.9 L861.8,568.3 L861.8,570.2 L861.9,577.7 L861.9,573.3 L861.9,577.8 L861.9,577.1 L861.9,582.4 L861.9,581.3 L861.9,580.9 L861.9,589.2 L861.9,587.1 L861.9,589.6 L861.9,591.7 L861.9,594.0 L861.9,586.6 L861.9,590.8 L862.0,590.3 L862.0,594.7 L862.0,599.3 L862.0,599.8 L862.0,594.4 L862.0,597.1 L862.0,604.4 L862.0,604.6 L862.0,603.4 L862.0,605.7 L862.0,604.4 L862.0,612.2 L862.0,609.6 L862.1,615.5 L862.1,614.4 L862.1,610.8 L862.1,614.4 L862.1,614.6 L862.1,622.0 L862.1,620.3 L862.1,616.3 L862.1,618.5 L862.1,621.2 L862.1,623.2 L862.1,625.5 L862.1,625.0 L862.1,625.9 L862.2,624.0 L862.2,630.5 L862.2,629.9 L862.2,628.8 L862.2,634.5 L862.2,640.9 L862.2,634.1 L862.2,636.2 L862.2,642.0 L862.2,639.6 L862.2,640.7 L862.2,643.9 L862.2,643.1 L862.3,647.2 L862.3,648.2 L862.3,653.5 L862.3,655.2 L862.3,647.5 L862.3,653.2 L862.3,656.1 L862.3,658.0 L862.3,658.1 L862.3,658.1 L862.3,659.4 L862.3,658.3 L862.3,658.8 L862.4,664.8 L862.4,667.1 L862.4,669.3 L862.4,668.6 L862.4,666.8 L862.4,672.6 L862.4,673.6 L862.4,672.6 L862.4,675.0 L862.4,673.5 L862.4,676.5 L862.4,676.3 L862.4,674.3 L862.4,678.0 L862.5,679.0 L862.5,686.1 L862.5,683.3 L862.5,684.0 L862.5,684.6 L862.5,686.3 L862.5,689.1 L862.5,688.3 L862.5,688.3 L862.5,697.2 L862.5,694.6 L862.5,695.7 L862.5,698.2 L862.6,697.1 L862.6,697.3 L862.6,697.8 L862.6,701.3 L862.6,702.3 L862.6,707.0 L862.6,706.4 L862.6,708.2 L862.7,701.1 L862.7,705.5 L862.7,701.5 L862.7,696.1 L862.8,696.1 L862.8,698.8 L862.8,700.8 L862.9,693.4 L862.9,695.4 L862.9,690.6 L863.0,692.9 L863.0,684.7 L863.0,687.6 L863.1,690.5 L863.1,684.0 L863.1,682.9 L863.1,679.3 L863.2,679.0 L863.2,678.5 L863.2,680.9 L863.3,675.0 L863.3,675.3 L863.3,672.1 L863.4,674.4 L863.4,675.4 L863.4,672.1 L863.4,666.8 L863.5,670.5 L863.5,671.4 L863.5,666.9 L863.6,661.0 L863.6,666.5 L863.6,666.0 L863.7,660.1 L863.7,657.1 L863.7,656.5 L863.8,658.0 L863.8,659.4 L863.8,655.6 L863.8,656.5 L863.9,648.5 L863.9,648.2 L863.9,650.6 L864.0,648.3 L864.0,644.8 L864.0,645.9 L864.1,641.7 L864.1,638.1 L864.1,640.2 L864.1,635.8 L864.2,639.9 L864.2,635.8 L864.2,635.8 L864.3,635.3 L864.3,630.8 L864.3,631.2 L864.4,625.8 L864.4,632.6 L864.4,628.0 L864.5,630.5 L864.5,620.7 L864.5,624.5 L864.5,624.2 L864.6,619.3 L864.6,615.9 L864.6,615.2 L864.7,613.8 L864.7,618.0 L864.7,610.6 L864.8,615.8 L864.8,610.9 L864.8,610.7 L864.8,609.9 L864.9,608.4 L864.9,608.1 L864.9,606.4 L865.0,602.7 L865.0,605.2 L865.0,599.6 L865.1,602.4 L865.1,601.6 L865.1,600.4 L865.2,594.9 L865.2,597.8 L865.2,598.4 L865.2,592.3 L865.3,589.7 L865.3,590.8 L865.3,593.5 L865.4,585.2 L865.4,583.0 L865.4,585.7 L865.5,585.7 L865.5,585.3 L865.5,580.0 L865.5,584.1 L865.6,576.1 L865.6,579.7 L865.6,572.4 L865.7,570.7 L865.7,570.5 L865.7,568.3 L865.8,570.9 L865.8,569.9 L865.8,565.0 L865.9,570.4 L865.9,564.0 L865.9,560.9 L865.9,559.9 L866.0,563.7 L866.0,564.2 L866.0,555.9 L866.1,553.2 L866.1,558.5 L866.1,552.2 L866.2,557.4 L866.2,551.9 L866.2,551.9 L866.2,548.1 L866.3,551.0 L866.3,546.8 L866.3,544.1 L866.4,547.9 L866.4,539.4 L866.4,543.6 L866.5,536.1 L866.5,540.4 L867.1,537.5 L867.6,540.8 L868.2,532.8 L868.8,536.6 L869.4,533.9 L870.0,537.3 L870.5,536.2 L871.1,532.1 L871.7,527.3 L871.9,528.6 L872.1,529.8 L872.2,532.5 L872.4,531.8 L872.6,532.6 L872.8,539.1 L873.0,539.5 L873.2,537.8 L873.4,545.5 L873.5,540.0 L873.7,544.7 L873.9,542.5 L874.1,550.4 L874.3,552.0 L874.5,548.1 L874.7,553.3 L874.8,554.9 L875.0,550.9 L875.2,552.2 L875.4,554.4 L875.6,559.7 L875.8,554.9 L876.0,561.2 L876.1,562.1 L876.3,562.5 L876.5,564.7 L876.7,568.5 L876.9,563.6 L877.1,570.7 L877.4,567.1 L877.7,572.2 L877.9,574.3 L878.2,569.5 L878.4,577.0 L878.7,579.5 L879.0,574.7 L879.2,573.7 L879.5,576.0 L879.7,585.2 L880.0,578.0 L880.3,587.2 L880.5,581.4 L880.8,587.7 L881.0,583.1 L881.3,584.8 L881.6,590.8 L881.8,586.8 L882.1,590.4 L882.2,597.0 L882.3,596.5 L882.5,599.4 L882.6,601.6 L882.7,594.6 L882.9,597.8 L883.0,604.1 L883.1,604.7 L883.2,600.3 L883.4,605.9 L883.5,604.9 L883.6,608.1 L883.8,606.2 L883.9,606.4 L884.0,616.1 L884.2,611.0 L884.3,617.0 L884.4,611.8 L884.5,616.6 L884.7,615.0 L884.8,619.2 L884.9,618.5 L885.1,624.3 L885.2,620.7 L885.3,627.2 L885.5,626.3 L885.6,624.1 L885.7,627.5 L885.8,630.0 L886.0,635.1 L886.1,631.2 L886.2,631.3 L886.4,639.2 L886.5,639.6 L886.6,639.5 L886.8,636.5 L886.9,636.9 L887.0,638.9 L887.1,638.4 L887.3,639.5 L887.4,644.9 L887.5,645.3 L887.7,647.8 L887.8,647.2 L887.9,645.2 L888.1,652.4 L888.2,653.2 L888.3,653.6 L888.4,655.0 L888.6,657.6 L888.7,661.5 L888.8,661.9 L889.0,661.7 L889.1,660.2 L889.2,660.7 L889.4,662.9 L889.5,669.1 L889.6,665.5 L889.7,667.1 L889.9,669.0 L890.0,668.3 L890.1,677.5 L890.3,669.7 L890.4,676.1 L890.5,680.0 L890.6,675.1 L890.8,679.3 L890.9,678.5 L891.0,678.5 L891.2,679.4 L891.3,679.9 L891.4,687.7 L891.6,688.4 L891.7,690.8 L891.8,684.4 L891.9,691.4 L892.1,689.3 L892.2,693.9 L892.3,694.7 L892.5,694.3 L892.7,701.8 L892.9,694.9 L893.1,702.8 L893.2,705.1 L893.4,703.3 L893.6,705.4 L893.8,710.3 L894.0,704.7 L894.2,709.4 L894.4,711.6 L894.6,709.6 L894.8,713.7 L895.0,712.0 L895.2,714.3 L895.4,716.2 L895.6,717.8 L895.8,715.8 L896.0,719.8 L896.2,720.3 L896.4,718.7 L896.6,723.5 L896.8,721.7 L896.9,728.7 L897.1,726.2 L897.3,729.7 L897.5,729.3 L897.7,730.2 L897.9,729.3 L898.1,730.0 L898.3,738.3 L898.5,736.2 L898.7,737.5 L898.9,738.7 L899.1,742.4 L899.3,738.4 L899.5,739.0 L899.7,745.9 L899.9,744.1 L900.1,747.2 L900.3,750.3 L900.4,752.3 L900.5,753.5 L900.7,747.4 L900.8,751.6 L901.0,756.8 L901.1,757.9 L901.3,752.9 L901.4,754.9 L901.6,757.4 L901.7,757.7 L901.8,761.6 L902.0,767.2 L902.1,766.0 L902.3,766.7 L902.4,764.8 L902.6,768.8 L902.7,775.5 L902.9,773.9 L903.0,772.8 L903.1,774.1 L903.3,778.0 L903.4,778.8 L903.6,774.5 L903.7,780.4 L903.9,778.7 L904.0,781.2 L904.2,779.9 L904.3,782.7 L904.4,784.1 L904.6,786.1 L904.7,784.6 L904.9,787.9 L905.0,792.1 L905.2,788.6 L905.3,790.6 L905.5,796.3 L905.6,793.4 L905.7,795.1 L905.8,795.7 L905.9,802.3 L906.1,797.0 L906.2,803.2 L906.3,806.3 L906.4,801.6 L906.6,804.7 L906.7,809.0 L906.8,808.6 L906.9,807.9 L907.1,806.5 L907.2,811.5 L907.3,812.4 L907.4,816.9 L907.6,814.6 L907.7,816.9 L907.8,820.4 L907.9,823.2 L908.1,820.5 L908.7,819.7 L909.3,820.3 L909.9,822.2 L910.4,814.7 L911.0,820.5 L911.6,816.9 L912.2,812.7 L912.8,814.0 L913.4,809.8 L914.0,806.3 L914.6,811.4 L915.2,807.1 L915.8,807.5 L916.0,806.1 L916.2,808.5 L916.4,805.7 L916.6,797.7 L916.8,801.1 L917.0,798.4 L917.2,796.9 L917.4,799.0 L917.6,794.1 L917.8,793.5 L918.0,796.0 L918.2,790.8 L918.4,789.9 L918.6,788.7 L918.8,790.0 L919.0,787.3 L919.2,786.5 L919.4,782.4 L919.6,778.1 L919.8,782.6 L920.0,780.3 L920.2,781.1 L920.4,779.6 L920.6,772.4 L920.8,771.8 L921.0,769.1 L921.5,776.6 L922.0,771.5 L922.5,772.5 L922.9,779.5 L923.4,779.0 L923.9,775.8 L924.3,782.6 L924.8,784.1 L925.3,783.5 L925.8,781.0 L926.2,787.9 L926.8,786.6 L927.3,789.2 L927.9,793.8 L928.5,793.3 L929.0,794.9 L929.6,789.8 L930.1,792.8 L930.2,793.3 L930.2,787.7 L930.2,795.1 L930.2,787.6 L930.3,786.1 L930.3,785.3 L930.3,783.4 L930.4,787.4 L930.4,783.5 L930.4,781.9 L930.5,780.0 L930.5,775.6 L930.5,776.6 L930.5,780.1 L930.6,778.2 L930.6,777.4 L930.6,770.8 L930.7,769.0 L930.7,766.4 L930.7,769.3 L930.7,766.7 L930.8,766.2 L930.8,765.1 L930.8,764.7 L930.9,761.6 L930.9,764.2 L930.9,757.7 L931.0,762.8 L931.0,758.1 L931.0,752.1 L931.0,752.9 L931.1,753.2 L931.1,750.6 L931.1,750.6 L931.2,747.2 L931.2,745.4 L931.2,748.7 L931.3,742.9 L931.3,745.6 L931.3,745.5 L931.3,742.7 L931.4,740.5 L931.4,743.7 L931.4,737.7 L931.8,739.9 L932.2,731.1 L932.6,732.8 L933.0,732.9 L933.4,726.9 L933.8,733.1 L934.2,725.3 L934.6,728.9 L935.0,724.4 L935.4,729.6 L935.8,725.2 L936.2,726.1 L936.6,722.2 L936.9,722.4 L937.2,720.8 L937.5,715.9 L937.8,713.6 L938.1,717.4 L938.4,709.8 L938.6,715.6 L938.9,708.5 L939.2,706.7 L939.5,705.8 L939.8,710.8 L940.1,711.0 L940.4,705.1 L940.7,705.9 L941.0,701.2 L941.2,705.5 L941.5,702.2 L941.8,696.2 L942.3,694.0 L942.8,698.2 L943.2,691.2 L943.7,697.0 L944.2,691.2 L944.7,689.5 L945.1,691.4 L945.6,688.0 L946.1,689.0 L946.5,684.3 L947.0,689.7 L947.2,683.4 L947.4,686.6 L947.7,679.0 L947.9,683.0 L948.1,682.9 L948.3,676.2 L948.5,671.4 L948.7,673.3 L949.0,674.5 L949.2,669.8 L949.4,671.4 L949.6,666.4 L949.8,668.3 L950.0,669.3 L950.3,665.4 L950.5,666.2 L950.7,660.1 L950.9,665.1 L950.9,660.5 L951.0,668.8 L951.0,670.9 L951.0,671.9 L951.1,669.6 L951.1,668.9 L951.1,670.6 L951.2,675.4 L951.2,674.5 L951.2,679.5 L951.3,673.6 L951.3,678.3 L951.3,682.9 L951.4,681.9 L951.4,682.6 L951.4,679.9 L951.5,681.5 L951.5,683.8 L951.5,690.4 L951.6,691.4 L951.6,687.5 L951.6,695.0 L951.7,688.7 L951.7,695.1 L951.7,699.4 L951.8,695.3 L951.8,701.6 L951.8,700.3 L951.9,696.3 L951.9,700.1 L951.9,702.4 L951.9,701.9 L952.0,707.5 L952.0,703.9 L952.0,710.3 L952.1,707.1 L952.1,706.2 L952.1,711.5 L952.2,708.6 L952.2,713.7 L952.3,714.3 L952.4,711.3 L952.5,708.7 L952.6,703.7 L952.7,706.5 L952.9,701.7 L953.0,705.2 L953.1,699.5 L953.2,702.1 L953.3,699.0 L953.4,698.0 L953.5,699.3 L953.6,693.8 L953.7,692.7 L953.8,697.9 L953.9,691.2 L954.0,694.2 L954.2,693.0 L954.3,688.2 L954.4,684.4 L954.5,683.0 L954.6,688.8 L954.7,681.3 L954.8,683.7 L954.9,682.6 L955.0,677.5 L955.1,679.1 L955.2,675.1 L955.3,676.8 L955.5,675.3 L955.6,672.8 L955.7,670.1 L955.8,670.6 L955.9,667.6 L956.0,665.7 L956.1,665.3 L956.2,669.5 L956.3,665.0 L956.4,667.0 L956.5,658.2 L956.6,665.0 L956.8,659.8 L956.9,661.1 L957.0,657.9 L957.1,657.6 L957.2,652.2 L957.3,655.3 L957.4,648.8 L958.1,648.6 L958.7,645.2 L959.4,647.0 L960.0,646.8 L960.6,643.5 L961.3,647.3 L961.4,642.1 L961.5,648.0 L961.6,646.8 L961.7,651.5 L961.8,654.9 L961.9,655.5 L962.0,651.2 L962.1,654.1 L962.2,658.4 L962.2,662.9 L962.3,656.0 L962.4,662.2 L962.5,664.0 L962.6,666.2 L962.7,663.3 L962.8,668.7 L962.9,667.0 L963.0,672.2 L963.1,665.7 L963.2,675.0 L963.3,671.9 L963.4,673.2 L963.5,671.8 L963.6,674.5 L963.7,680.1 L963.8,680.6 L963.9,677.1 L964.0,679.7 L964.1,679.0 L964.1,680.5 L964.2,682.3 L964.3,684.9 L964.4,692.1 L964.5,693.9 L964.6,693.7 L964.7,692.1 L964.8,693.3 L964.9,696.8 L965.0,699.0 L965.1,698.7 L965.2,698.9 L965.3,693.8 L965.4,696.0 L965.5,696.6 L965.7,694.7 L965.8,687.5 L965.9,691.7 L966.0,687.3 L966.1,684.5 L966.3,690.2 L966.4,686.6 L966.5,686.1 L966.6,679.8 L966.7,684.7 L966.8,684.6 L967.0,682.7 L967.1,679.8 L967.2,679.0 L967.3,677.2 L967.4,673.8 L967.6,671.5 L967.7,673.8 L967.8,672.4 L968.1,674.7 L968.4,671.3 L968.8,678.4 L969.1,676.2 L969.4,681.1 L969.7,675.4 L970.1,684.1 L970.4,683.6 L970.7,680.1 L971.0,686.2 L971.4,682.1 L971.7,682.9 L971.8,686.3 L972.0,685.7 L972.1,689.1 L972.2,693.9 L972.4,693.2 L972.5,694.8 L972.7,693.4 L972.8,698.1 L972.9,699.5 L973.1,699.9 L973.2,703.6 L973.4,704.0 L973.5,701.8 L973.6,700.5 L973.8,706.7 L973.9,709.6 L974.1,706.7 L974.2,710.2 L974.3,713.6 L974.5,714.6 L974.6,709.1 L974.7,714.4 L974.9,711.6 L975.0,713.7 L975.2,720.9 L975.3,718.8 L975.4,721.7 L975.6,721.8 L975.9,722.1 L976.2,722.3 L976.6,724.5 L976.9,729.7 L977.2,728.8 L977.5,727.1 L977.9,726.4 L978.2,729.3 L978.5,734.3 L978.8,733.4 L979.2,736.6 L979.5,739.2 L980.3,734.4 L981.0,740.3 L981.8,735.9 L982.6,743.6 L983.4,739.3 L983.5,741.6 L983.7,749.0 L983.8,745.4 L984.0,745.8 L984.1,753.0 L984.3,751.7 L984.4,755.2 L984.6,752.0 L984.7,754.0 L984.9,759.0 L985.0,756.6 L985.2,762.1 L985.3,756.8 L985.5,763.6 L985.6,759.4 L985.8,763.5 L985.9,760.1 L986.1,762.6 L986.2,770.1 L986.4,767.0 L986.5,771.3 L986.7,767.9 L986.8,770.1 L987.0,769.3 L987.1,774.4 L987.3,778.5 L987.4,774.3 L987.5,772.0 L987.6,775.4 L987.7,773.9 L987.8,770.9 L987.9,764.8 L988.0,768.3 L988.1,765.7 L988.2,769.0 L988.4,762.6 L988.5,763.9 L988.6,762.3 L988.7,758.9 L988.8,758.8 L988.9,758.8 L989.0,759.5 L989.1,754.7 L989.2,752.3 L989.3,756.1 L989.4,746.9 L989.5,752.0 L989.7,749.2 L989.8,746.7 L989.9,744.2 L990.4,745.7 L991.0,745.8 L991.5,743.4 L992.0,742.5 L992.6,735.4 L993.1,736.6 L993.7,733.8 L994.2,739.5 L994.7,737.7 L995.3,730.2 L995.8,732.8 L996.4,731.5 L997.1,726.0 L997.9,727.8 L998.7,729.8 L999.5,727.7 L1000.3,723.5 L1001.0,726.3 L1001.8,721.1 L1002.6,722.1 L1003.4,720.3 L1004.2,724.4 L1004.6,720.8 L1005.1,721.2 L1005.6,719.3 L1006.1,715.3 L1006.6,718.6 L1007.1,714.9 L1007.6,713.2 L1008.1,708.2 L1008.5,706.4 L1009.0,709.0 L1009.5,710.3 L1010.0,709.1 L1010.5,704.6 L1011.0,701.6 L1011.5,703.5 L1011.9,705.3 L1013.2,699.7 L1014.5,704.9 L1015.8,700.2 L1017.1,701.4 L1018.4,699.2 L1019.7,701.2 L1020.1,700.3 L1020.4,704.2 L1020.8,703.1 L1021.1,695.6 L1021.5,695.7 L1021.8,700.0 L1022.2,692.7 L1022.5,692.7 L1022.9,692.6 L1023.2,688.8 L1023.5,689.1 L1023.9,689.0 L1024.2,687.8 L1024.6,691.5 L1024.9,684.6 L1025.5,682.9 L1026.1,687.3 L1026.7,682.1 L1027.3,683.9 L1027.9,680.7 L1028.5,680.5 L1029.1,675.3 L1029.7,672.7 L1030.3,676.4 L1030.9,672.8 L1031.5,672.2 L1032.1,671.9 L1032.7,671.4 L1033.2,666.2 L1033.7,665.6 L1034.1,669.0 L1034.6,665.0 L1035.0,662.1 L1035.5,664.1 L1036.0,660.1 L1036.4,663.5 L1036.9,655.9 L1037.4,660.9 L1037.8,657.2 L1038.3,653.8 L1038.8,657.2 L1039.2,650.5 L1039.9,649.3 L1040.5,646.9 L1041.2,649.9 L1041.8,650.6 L1042.5,648.6 L1043.1,645.0 L1043.8,646.9 L1044.4,639.8 L1045.1,640.0 L1045.7,641.8 L1046.4,643.5 L1047.0,639.8 L1047.7,639.3 L1048.3,639.0 L1049.0,634.8 L1049.6,638.4 L1050.3,635.8 L1050.9,631.5 L1051.6,631.0 L1052.2,632.8 L1053.5,628.9 L1054.8,627.4 L1056.1,633.0 L1057.4,630.0 L1058.7,630.5 L1059.0,630.9 L1059.4,631.9 L1059.7,624.6 L1060.0,625.5 L1060.3,621.8 L1060.6,623.3 L1061.0,622.7 L1061.3,624.3 L1061.6,621.4 L1061.9,619.6 L1062.3,617.1 L1062.6,617.5 L1062.9,613.9 L1063.2,617.6 L1063.6,615.9 L1063.9,615.0 L1064.5,608.1 L1065.2,611.3 L1065.8,610.8 L1066.5,607.4 L1067.1,609.4 L1067.8,608.1 L1068.4,605.5 L1069.1,604.8 L1069.7,602.6 L1070.4,603.7 L1071.0,596.8 L1071.7,600.8 L1072.3,600.0 L1073.0,598.0 L1073.6,593.9 L1074.3,590.9 L1074.9,594.0 L1075.6,594.6 L1076.2,588.7 L1076.9,586.9 L1077.5,585.7 L1078.2,583.4 L1078.8,586.9 L1079.5,588.3 L1079.9,588.1 L1080.3,585.7 L1080.6,589.8 L1081.0,585.9 L1081.4,593.8 L1081.8,591.1 L1082.2,590.0 L1082.6,596.7 L1083.0,594.1 L1083.4,596.5 L1083.8,593.5 L1084.2,595.5 L1084.6,595.1 L1085.0,596.0 L1085.4,588.4 L1085.8,593.6 L1086.2,586.4 L1086.6,586.0 L1087.0,588.1 L1087.4,584.4 L1087.8,583.0 L1088.2,583.7 L1088.7,579.5 L1089.1,583.0 L1089.5,577.0 L1089.9,581.1 L1090.5,579.9 L1091.2,576.6 L1091.8,571.5 L1092.5,576.5 L1093.1,569.3 L1093.8,572.1 L1094.4,570.3 L1095.1,566.3 L1095.7,570.1 L1096.4,570.1 L1097.0,568.1 L1097.7,565.7 L1098.6,566.0 L1099.6,565.5 L1100.5,561.2 L1101.4,565.3 L1102.4,565.1 L1103.3,562.3 L1104.3,563.2 L1105.2,557.5 L1106.2,562.4 L1107.1,554.4 L1108.1,557.3 L1109.2,554.1 L1110.4,556.3 L1111.5,557.8 L1112.7,557.6 L1113.8,555.1 L1115.0,553.4 L1116.1,551.4 L1117.3,552.4 L1118.4,550.6 L1119.2,548.5 L1119.9,552.2 L1120.7,549.6 L1121.4,548.3 L1122.2,545.6 L1122.9,549.0 L1123.6,543.6 L1124.6,543.2 L1125.5,544.7 L1126.5,545.0 L1127.4,546.3 L1128.4,543.7 L1129.3,544.6 L1130.2,543.6 L1131.2,541.3 L1132.1,540.5 L1133.1,534.0 L1134.0,534.1 L1135.2,531.6 L1136.3,537.7 L1137.5,535.7 L1138.6,534.4 L1139.8,530.9 L1141.0,531.1 L1142.1,529.0 L1143.3,532.3 L1144.4,534.6 L1145.6,528.1 L1146.8,525.1 L1148.0,525.8 L1149.2,527.0 L1150.4,531.3 L1151.6,530.5 L1152.8,527.6 L1154.0,524.6 L1155.2,524.6 L1156.5,524.5 L1157.7,529.0 L1158.9,526.0 L1160.1,529.7 L1161.3,528.5 L1162.5,527.1 L1163.7,524.0 L1164.9,526.4 L1166.1,520.1 L1167.4,519.3 L1168.6,522.6 L1169.8,521.6 L1171.0,518.7 L1172.2,518.6 L1173.4,516.2 L1174.6,522.8 L1175.8,520.6 L1177.1,521.9 L1178.3,521.6 L1179.5,516.6 L1180.7,518.4 L1181.9,515.0 L1183.1,517.8 L1184.3,517.5 L1185.6,511.2 L1186.8,509.8 L1188.0,511.0 L1189.2,513.5 L1190.5,511.4 L1191.7,508.0 L1192.9,514.5 L1194.1,514.1 L1195.3,511.3 L1196.6,507.8 L1197.8,514.5 L1199.0,510.9 L1200.2,506.5 L1201.5,507.8 L1202.7,509.5 L1203.9,510.9 L1205.1,507.4 L1206.3,508.3 L1207.5,504.5 L1208.7,504.5 L1209.9,509.6 L1211.1,504.5 L1212.3,501.3 L1213.5,504.3 L1214.7,499.6 L1215.9,499.3 L1217.1,500.8 L1218.3,501.2 L1219.5,501.1 L1220.5,500.9 L1221.6,497.9 L1222.6,494.3 L1223.6,498.9 L1224.7,492.8 L1225.7,495.5 L1226.8,494.3 L1227.8,495.6 L1228.8,495.0 L1229.9,490.2 L1230.9,492.6 L1231.9,492.0 L1233.0,489.5 L1234.0,486.2 L1235.1,491.7 L1236.3,488.8 L1237.5,484.1 L1238.7,485.3 L1240.0,491.1 L1241.2,484.9 L1242.4,486.0 L1243.6,489.0 L1244.8,488.8 L1246.1,486.8 L1247.3,487.1 L1248.5,481.0 L1249.7,481.0 L1251.0,487.5 L1252.2,485.7 L1253.4,479.0 L1254.6,478.6 L1255.8,479.7 L1257.0,484.5 L1258.2,478.1 L1259.4,481.1 L1260.6,482.5 L1261.8,479.4 L1263.0,481.2 L1264.2,475.5 L1265.4,474.2 L1266.6,472.6 L1267.8,478.0 L1269.0,472.2 L1270.2,478.6 L1271.4,475.9 L1272.6,471.3 L1273.9,475.8 L1275.1,470.1 L1276.3,472.3 L1277.5,468.4 L1278.7,473.2 L1279.9,473.4 L1281.1,473.3 L1282.3,465.7 L1283.5,472.1 L1284.8,469.4 L1286.0,471.1 L1287.2,467.8 L1288.4,468.0 L1289.6,467.1 L1290.7,467.7 L1291.8,460.9 L1292.9,460.3 L1294.1,463.7 L1295.2,461.3 L1296.3,461.7 L1297.4,458.2 L1298.5,463.2 L1299.6,456.6 L1300.7,462.1 L1301.9,461.1 L1303.0,457.4 L1304.1,454.1 L1305.2,457.7 L1306.2,453.6 L1307.3,454.7 L1308.3,451.5 L1309.4,457.5 L1310.4,453.3 L1311.4,450.9 L1312.5,448.1 L1313.5,452.3 L1314.5,452.3 L1315.6,451.3 L1316.6,444.5 L1317.7,445.6 L1318.7,444.2 L1319.7,446.9 L1320.8,441.2 L1322.1,444.3 L1323.4,446.8 L1324.7,444.6 L1326.0,438.6 L1327.3,439.1 L1328.6,439.5 L1329.9,444.0 L1331.2,443.3 L1332.5,441.9 L1333.8,440.7 L1334.8,439.0 L1335.8,439.4 L1336.8,438.4 L1337.8,439.8 L1338.8,437.6 L1339.8,437.3 L1340.8,437.5 L1341.8,436.2 L1342.8,434.3 L1343.8,427.9 L1344.8,432.1 L1345.8,432.4 L1346.8,428.2 L1347.9,431.1 L1349.1,425.0 L1350.3,430.4 L1351.5,425.8 L1352.7,427.3 L1353.8,423.4 L1355.0,423.3 L1356.2,423.3 L1357.4,422.7 L1358.6,420.5 L1359.7,422.8 L1360.5,426.1 L1361.3,422.7 L1362.1,423.9 L1362.9,421.7 L1363.7,421.0 L1364.5,420.9 L1365.3,417.7 L1366.1,412.6 L1366.9,411.1 L1367.7,411.6 L1368.5,407.7 L1369.3,408.5 L1370.1,412.8 L1371.4,412.9 L1372.7,407.8 L1374.0,410.8 L1375.3,410.4 L1376.6,410.8 L1377.9,409.6 L1379.2,407.3 L1380.5,403.8 L1381.8,409.2 L1383.1,405.1 L1384.4,407.0 L1385.7,404.4 L1386.0,406.9 L1386.4,411.5 L1386.7,406.4 L1387.0,410.5 L1387.3,412.6 L1387.5,410.3 L1387.7,412.1 L1387.8,406.6 L1388.0,409.2 L1388.2,406.2 L1388.3,407.2 L1388.5,399.1 L1388.7,398.8 L1388.9,398.1 L1389.0,404.2 L1389.1,398.5 L1389.3,401.7 L1389.4,406.5 L1389.5,409.9 L1389.7,405.1 L1389.8,408.7 L1389.9,412.2 L1390.1,413.8 L1390.2,415.8 L1390.3,416.9 L1390.5,414.1 L1390.6,412.7 L1390.7,409.4 L1390.8,413.1 L1390.9,407.9 L1391.0,406.9 L1391.1,411.0 L1391.2,407.1 L1391.3,405.3 L1391.4,404.8 L1391.5,403.4 L1391.6,403.1 L1391.7,399.1 L1391.8,396.2 L1391.9,395.0 L1392.0,393.4 L1392.2,397.4 L1392.3,397.1 L1392.4,398.2 L1392.5,402.3 L1392.6,407.1 L1392.8,405.9 L1392.9,403.8 L1393.0,408.8 L1393.1,405.3 L1393.2,405.9 L1393.4,408.7 L1393.5,410.7 L1393.6,414.1 L1393.7,413.5 L1393.8,417.1 L1393.9,410.9 L1394.0,416.1 L1394.0,410.3 L1394.1,412.8 L1394.2,405.2 L1394.2,410.1 L1394.3,404.1 L1394.4,407.7 L1394.4,406.1 L1394.5,403.9 L1394.6,399.7 L1394.6,396.4 L1394.7,396.7 L1394.8,400.9 L1394.8,393.6 L1394.9,396.2 L1395.0,394.2 L1395.0,393.4 L1395.1,388.4 L1395.2,386.9 L1395.2,385.4 L1395.3,393.6 L1395.5,390.4 L1395.6,393.8 L1395.7,394.5 L1395.8,393.1 L1395.9,393.2 L1396.0,394.1 L1396.1,402.1 L1396.2,397.9 L1396.4,405.9 L1396.5,402.7 L1396.6,406.9 L1396.7,403.8 L1396.8,410.3 L1396.9,407.6 L1397.0,410.0 L1397.1,410.0 L1397.2,405.4 L1397.3,405.1 L1397.4,408.0 L1397.5,402.6 L1397.6,402.0 L1397.7,403.5 L1397.8,397.8 L1397.9,396.1 L1398.0,394.8 L1398.1,394.6 L1398.2,393.2 L1398.4,396.6 L1398.5,396.5 L1398.7,400.9 L1398.8,395.7 L1399.0,401.8 L1399.1,404.5 L1399.3,401.1 L1399.4,400.8 L1399.6,405.3 L1399.7,404.0 L1399.9,407.8 L1400.0,411.0 L1400.2,407.4 L1400.2,406.2 L1400.3,407.7 L1400.4,404.0 L1400.5,403.1 L1400.6,403.4 L1400.7,399.6 L1400.8,397.8 L1400.9,398.6 L1400.9,398.0 L1401.0,400.3 L1401.1,395.9 L1401.2,390.9 L1401.3,390.9 L1401.4,393.7 L1401.5,391.1 L1401.5,392.3 L1401.6,392.0 L1401.7,390.2 L1401.8,383.4 L1401.9,391.5 L1401.9,389.8 L1402.0,388.6 L1402.0,389.0 L1402.1,395.3 L1402.2,391.2 L1402.2,391.1 L1402.3,394.0 L1402.3,400.6 L1402.4,398.5 L1402.5,402.1 L1402.5,398.5 L1402.6,402.8 L1402.6,403.1 L1402.7,403.6 L1402.8,408.6 L1402.8,407.6 L1402.9,407.1 L1402.9,415.3 L1403.0,412.8 L1403.0,409.2 L1403.1,406.7 L1403.2,410.1 L1403.2,407.5 L1403.3,402.0 L1403.3,403.9 L1403.4,404.4 L1403.5,401.6 L1403.5,397.9 L1403.6,398.7 L1403.6,398.2 L1403.7,397.3 L1403.7,392.1 L1403.8,395.9 L1403.9,395.7 L1403.9,392.7 L1404.0,392.3 L1404.0,387.3 L1404.1,390.2 L1404.1,383.4 L1404.2,382.5 L1404.3,386.7 L1404.3,390.4 L1404.4,385.4 L1404.4,387.8 L1404.5,387.7 L1404.5,392.2 L1404.6,391.4 L1404.6,393.3 L1404.7,399.2 L1404.7,399.4 L1404.8,403.7 L1404.8,400.8 L1404.9,404.2 L1404.9,400.3 L1405.0,408.8 L1405.0,404.5 L1405.1,407.7 L1405.1,409.3 L1405.2,414.0 L1405.2,411.8 L1405.3,417.0 L1405.4,415.1 L1405.4,412.8 L1405.5,418.6 L1405.5,414.6 L1405.6,421.7 L1405.6,416.2 L1405.7,413.1 L1405.7,417.5 L1405.8,411.3 L1405.9,410.6 L1405.9,409.1 L1406.0,410.7 L1406.0,404.6 L1406.1,406.4 L1406.1,403.7 L1406.2,407.7 L1406.3,400.0 L1406.3,403.5 L1406.4,399.6 L1406.4,399.9 L1406.5,399.2 L1406.6,398.9 L1406.6,393.0 L1406.7,392.3 L1406.7,389.8 L1406.8,395.1 L1406.9,387.6 L1406.9,386.2 L1407.0,388.0 L1407.0,387.2 L1407.1,388.0 L1407.2,382.5 L1407.2,384.9 L1407.3,385.4 L1407.4,389.7 L1407.4,390.1 L1407.5,391.2 L1407.5,396.4 L1407.6,396.1 L1407.7,399.1 L1407.7,401.4 L1407.8,397.5 L1407.9,404.3 L1407.9,401.7 L1408.0,400.4 L1408.1,408.3 L1408.1,403.3 L1408.2,403.9 L1408.3,407.2 L1408.3,408.4 L1408.4,415.0 L1408.5,415.5 L1408.5,413.3 L1408.6,415.5 L1408.7,419.2 L1408.7,420.2 L1408.8,420.4 L1408.9,420.6 L1408.9,418.9 L1409.0,418.6 L1409.0,420.2 L1409.1,418.1 L1409.1,418.1 L1409.2,417.3 L1409.2,416.2 L1409.3,408.8 L1409.3,406.6 L1409.4,411.6 L1409.5,407.7 L1409.5,403.4 L1409.6,406.0 L1409.6,401.4 L1409.7,400.0 L1409.7,399.7 L1409.8,399.7 L1409.8,399.7 L1409.9,393.9 L1409.9,398.0 L1410.0,395.9 L1410.0,393.6 L1410.1,394.0 L1410.2,393.7 L1410.2,386.4 L1410.3,388.8 L1410.3,389.2 L1410.4,388.2 L1410.4,386.6 L1410.5,381.8 L1410.5,386.6 L1410.6,384.1 L1410.6,381.0 L1410.7,383.8 L1410.7,389.1 L1410.8,384.4 L1410.8,387.2 L1410.8,392.7 L1410.9,393.5 L1410.9,389.6 L1411.0,394.8 L1411.0,393.1 L1411.0,396.8 L1411.1,399.0 L1411.1,395.4 L1411.2,397.5 L1411.2,398.8 L1411.3,400.3 L1411.3,399.7 L1411.3,401.6 L1411.4,404.9 L1411.4,406.2 L1411.5,404.8 L1411.5,410.1 L1411.6,414.2 L1411.6,412.7 L1411.6,412.3 L1411.7,416.1 L1411.7,415.1 L1411.8,414.1 L1411.8,417.6 L1411.8,415.1 L1411.9,421.8 L1411.9,419.4 L1412.0,422.7 L1412.0,428.9 L1412.1,429.0 L1412.1,430.6 L1412.1,430.1 L1412.2,431.1 L1412.2,432.7 L1412.3,435.8 L1412.3,428.9 L1412.4,432.3 L1412.4,427.7 L1412.4,426.4 L1412.5,429.8 L1412.5,426.7 L1412.6,427.2 L1412.6,426.0 L1412.7,422.4 L1412.7,418.0 L1412.7,415.1 L1412.8,417.7 L1412.8,417.7 L1412.9,412.8 L1412.9,409.8 L1413.0,407.9 L1413.0,407.9 L1413.0,410.6 L1413.1,403.8 L1413.1,404.2 L1413.2,403.3 L1413.2,405.5 L1413.3,406.4 L1413.3,397.7 L1413.4,397.2 L1413.4,402.5 L1413.4,401.6 L1413.5,394.1 L1413.5,394.5 L1413.6,394.8 L1413.6,392.0 L1413.7,391.5 L1413.7,393.3 L1413.8,392.9 L1413.8,392.6 L1413.9,393.8 L1414.0,395.5 L1414.0,395.9 L1414.1,401.1 L1414.2,402.7 L1414.2,400.6 L1414.3,405.9 L1414.3,406.7 L1414.4,404.9 L1414.5,407.4 L1414.5,406.5 L1414.6,413.7 L1414.7,412.3 L1414.7,409.9 L1414.8,412.1 L1414.8,417.6 L1414.9,416.5 L1415.0,420.4 L1415.0,417.9 L1415.1,423.7 L1415.2,424.9 L1415.2,420.6 L1415.3,425.6 L1415.3,423.7 L1415.4,428.9 L1415.5,430.9 L1415.5,432.0 L1415.6,428.8 L1415.6,426.4 L1415.7,429.4 L1415.7,427.5 L1415.8,423.1 L1415.8,422.4 L1415.9,424.3 L1415.9,419.4 L1416.0,421.9 L1416.0,417.3 L1416.1,415.9 L1416.1,415.6 L1416.2,414.9 L1416.2,415.2 L1416.3,408.7 L1416.3,412.9 L1416.3,407.8 L1416.4,407.1 L1416.4,408.6 L1416.5,407.8 L1416.5,406.0 L1416.6,406.9 L1416.6,400.3 L1416.7,400.0 L1416.7,401.7 L1416.8,397.5 L1416.8,395.6 L1416.9,395.1 L1416.9,397.8 L1416.9,396.8 L1417.0,394.5 L1417.0,395.0 L1417.1,392.2 L1417.1,387.3 L1417.2,386.1 L1417.2,388.1 L1417.3,381.7 L1417.3,384.8 L1417.3,381.9 L1417.4,382.7 L1417.4,387.4 L1417.4,385.7 L1417.5,392.9 L1417.5,393.7 L1417.5,391.6 L1417.6,390.8 L1417.6,391.4 L1417.6,395.6 L1417.6,397.0 L1417.7,397.1 L1417.7,401.1 L1417.7,401.0 L1417.8,404.2 L1417.8,400.6 L1417.8,401.9 L1417.9,406.0 L1417.9,408.4 L1417.9,408.2 L1417.9,412.6 L1418.0,410.3 L1418.0,412.3 L1418.0,414.7 L1418.1,417.7 L1418.1,419.3 L1418.1,417.3 L1418.2,419.0 L1418.2,423.9 L1418.2,425.0 L1418.2,423.8 L1418.3,421.0 L1418.3,424.8 L1418.3,427.4 L1418.4,425.8 L1418.4,425.5 L1418.4,434.3 L1418.5,435.2 L1418.5,430.7 L1418.5,434.8 L1418.5,437.4 L1418.6,436.3 L1418.6,435.9 L1418.6,442.5 L1418.7,444.1 L1418.7,440.1 L1418.7,435.9 L1418.8,436.9 L1418.8,433.1 L1418.8,438.5 L1418.9,430.0 L1418.9,430.5 L1418.9,432.8 L1419.0,426.5 L1419.0,424.9 L1419.1,423.5 L1419.1,423.1 L1419.1,424.8 L1419.2,426.0 L1419.2,419.7 L1419.2,418.6 L1419.3,422.0 L1419.3,418.1 L1419.3,416.3 L1419.4,413.4 L1419.4,412.7 L1419.4,416.7 L1419.5,408.5 L1419.5,408.0 L1419.5,410.1 L1419.6,409.9 L1419.6,408.6 L1419.6,403.8 L1419.7,406.2 L1419.7,402.1 L1419.8,398.4 L1419.8,398.6 L1419.8,399.4 L1419.9,398.4 L1419.9,392.5 L1420.0,394.3 L1420.0,401.6 L1420.1,396.4 L1420.1,403.2 L1420.2,400.9 L1420.3,401.6 L1420.3,403.1 L1420.4,406.2 L1420.5,411.6 L1420.5,406.5 L1420.6,413.1 L1420.7,410.1 L1420.7,410.0 L1420.8,415.5 L1420.9,413.5 L1420.9,413.9 L1421.0,417.3 L1421.0,422.0 L1421.1,423.9 L1421.2,423.2 L1421.2,420.1 L1421.3,427.2 L1421.4,427.3 L1421.4,428.3 L1421.5,427.3 L1421.6,421.1 L1421.7,423.7 L1421.7,422.1 L1421.8,416.4 L1421.9,415.8 L1421.9,414.5 L1422.0,412.9 L1422.1,411.6 L1422.1,408.1 L1422.2,407.6 L1422.3,412.0 L1422.4,407.1 L1422.4,407.9 L1422.5,408.9 L1422.6,406.9 L1422.6,401.4 L1422.7,405.0 L1422.8,402.6 L1422.8,402.4 L1422.9,401.4 L1422.9,403.1 L1423.0,405.1 L1423.1,402.2 L1423.1,406.8 L1423.2,406.2 L1423.2,410.8 L1423.3,406.4 L1423.3,410.5 L1423.4,410.0 L1423.4,414.7 L1423.5,412.3 L1423.5,417.5 L1423.6,418.8 L1423.6,420.3 L1423.7,415.8 L1423.8,423.6 L1423.8,423.6 L1423.9,424.6 L1423.9,425.9 L1424.0,422.7 L1424.0,430.2 L1424.1,428.8 L1424.1,429.1 L1424.2,429.3 L1424.2,433.8 L1424.3,435.4 L1424.3,437.6 L1424.4,434.1 L1424.5,436.7 L1424.5,437.5 L1424.6,437.5 L1424.6,440.3 L1424.7,439.0 L1424.7,443.5 L1424.7,437.6 L1424.8,435.0 L1424.8,433.5 L1424.8,437.3 L1424.9,431.7 L1424.9,432.3 L1424.9,430.6 L1424.9,432.4 L1425.0,432.3 L1425.0,426.0 L1425.0,427.2 L1425.1,428.1 L1425.1,423.6 L1425.1,425.7 L1425.2,423.2 L1425.2,418.7 L1425.2,421.9 L1425.2,418.4 L1425.3,413.6 L1425.3,416.1 L1425.3,416.8 L1425.4,413.2 L1425.4,411.8 L1425.4,410.1 L1425.5,412.5 L1425.5,409.7 L1425.5,404.5 L1425.5,404.1 L1425.6,402.4 L1425.6,405.4 L1425.6,401.7 L1425.7,396.1 L1425.7,401.0 L1425.7,393.1 L1425.8,396.2 L1425.8,393.8 L1425.8,394.6 L1425.9,391.0 L1425.9,387.0 L1425.9,389.0 L1425.9,389.9 L1426.0,388.7 L1426.0,384.4 L1426.1,385.0 L1426.1,390.7 L1426.2,392.8 L1426.3,389.2 L1426.3,395.3 L1426.4,397.1 L1426.5,393.7 L1426.5,394.3 L1426.6,398.1 L1426.7,401.0 L1426.7,396.7 L1426.8,398.7 L1426.9,400.2 L1426.9,404.6 L1427.0,401.7 L1427.1,405.8 L1427.1,406.8 L1427.2,409.4 L1427.3,406.8 L1427.3,414.6 L1427.4,416.3 L1427.5,414.4 L1427.5,417.7 L1427.6,411.9 L1427.6,416.4 L1427.6,412.6 L1427.7,413.1 L1427.7,412.9 L1427.7,407.7 L1427.8,410.7 L1427.8,403.9 L1427.8,401.2 L1427.9,403.6 L1427.9,405.3 L1427.9,403.9 L1428.0,403.0 L1428.0,398.2 L1428.0,400.1 L1428.1,396.1 L1428.1,391.7 L1428.1,394.3 L1428.1,394.4 L1428.2,390.3 L1428.2,390.4 L1428.2,386.4 L1428.3,385.2 L1428.3,385.0 L1428.3,384.4 L1428.4,382.5 L1428.4,378.0 L1428.4,375.8 L1428.5,376.8 L1428.5,378.2 L1428.5,377.1 L1428.6,371.8 L1428.6,370.6 L1428.6,371.2 L1428.7,367.2 L1428.7,369.6 L1428.7,370.9 L1428.8,364.6 L1428.8,366.6 L1428.8,366.7 L1428.9,365.5 L1428.9,363.8 L1428.9,362.4 L1429.0,357.7 L1429.0,360.7 L1429.0,359.7 L1429.0,354.0 L1429.1,361.9 L1429.1,359.0 L1429.1,357.2 L1429.2,358.7 L1429.2,365.9 L1429.2,366.6 L1429.3,364.0 L1429.3,368.1 L1429.3,370.6 L1429.4,374.6 L1429.4,370.7 L1429.4,375.2 L1429.5,372.3 L1429.5,373.3 L1429.5,374.3 L1429.5,377.5 L1429.6,380.4 L1429.6,379.3 L1429.6,379.5 L1429.7,381.2 L1429.7,381.5 L1429.7,383.6 L1429.8,385.9 L1429.8,388.6 L1429.8,387.3 L1429.9,390.9 L1429.9,391.8 L1429.9,397.1 L1430.0,394.6 L1430.0,399.4 L1430.0,397.0 L1430.0,396.1 L1430.1,400.4 L1430.1,398.4 L1430.1,400.0 L1430.2,400.7 L1430.2,407.0 L1430.2,410.4 L1430.3,407.4 L1430.3,408.4 L1430.3,410.3 L1430.4,411.1 L1430.4,415.0 L1430.4,414.3 L1430.5,414.0 L1430.5,421.1 L1430.5,420.4 L1430.6,417.6 L1430.6,425.1 L1430.6,425.1 L1430.6,423.1 L1430.7,426.2 L1430.7,426.8 L1430.7,421.8 L1430.8,421.2 L1430.8,419.2 L1430.8,420.2 L1430.8,420.1 L1430.9,419.1 L1430.9,419.1 L1430.9,411.2 L1430.9,411.3 L1431.0,413.4 L1431.0,411.7 L1431.0,408.9 L1431.0,408.4 L1431.1,404.5 L1431.1,408.0 L1431.1,403.8 L1431.1,401.6 L1431.2,398.8 L1431.2,397.2 L1431.2,402.1 L1431.2,400.1 L1431.3,392.8 L1431.3,393.8 L1431.3,393.7 L1431.4,392.5 L1431.4,390.1 L1431.4,392.7 L1431.4,387.0 L1431.5,386.9 L1431.5,388.5 L1431.5,384.8 L1431.5,382.1 L1431.6,379.5 L1431.6,378.5 L1431.6,378.7 L1431.6,379.0 L1431.7,373.8 L1431.7,373.5 L1431.7,372.6 L1431.7,371.3 L1431.8,374.2 L1431.8,369.9 L1431.8,366.5 L1431.8,365.6 L1431.9,368.1 L1431.9,361.9 L1431.9,364.9 L1432.0,358.7 L1432.0,359.0 L1432.0,356.9 L1432.0,361.0 L1432.1,354.3 L1432.1,355.9 L1432.1,355.6 L1432.1,358.2 L1432.2,363.2 L1432.2,364.4 L1432.2,367.3 L1432.2,368.9 L1432.3,367.2 L1432.3,371.6 L1432.3,366.7 L1432.4,374.7 L1432.4,372.4 L1432.4,372.1 L1432.4,377.3 L1432.5,379.1 L1432.5,376.3 L1432.5,375.0 L1432.5,381.9 L1432.6,382.4 L1432.6,382.7 L1432.6,387.1 L1432.6,381.3 L1432.7,382.9 L1432.7,384.9 L1432.7,385.6 L1432.8,392.4 L1432.8,393.2 L1432.8,390.7 L1432.8,392.4 L1432.9,393.8 L1432.9,398.4 L1432.9,400.1 L1432.9,403.7 L1433.0,400.0 L1433.0,405.7 L1433.0,402.5 L1433.1,403.1 L1433.1,403.0 L1433.1,404.2 L1433.1,411.2 L1433.2,412.6 L1433.2,411.7 L1433.2,408.9 L1433.2,410.2 L1433.3,411.3 L1433.3,414.2 L1433.3,418.4 L1433.3,414.5 L1433.4,419.8 L1433.4,422.7 L1433.4,419.3 L1433.5,424.1 L1433.5,428.5 L1433.5,425.3 L1433.6,422.7 L1433.6,424.5 L1433.6,420.7 L1433.7,417.1 L1433.7,416.5 L1433.7,419.6 L1433.8,417.9 L1433.8,417.2 L1433.9,413.4 L1433.9,409.0 L1433.9,408.0 L1434.0,408.4 L1434.0,409.5 L1434.0,403.0 L1434.1,407.6 L1434.1,406.0 L1434.2,402.3 L1434.2,396.8 L1434.2,401.4 L1434.3,397.1 L1434.3,397.8 L1434.3,395.7 L1434.4,395.6 L1434.4,391.8 L1434.5,395.1 L1434.5,394.0 L1434.5,392.8 L1434.6,389.4 L1434.6,386.1 L1434.6,385.1 L1434.7,382.9 L1434.7,386.3 L1434.8,384.0 L1434.8,382.5 L1434.8,381.3 L1434.9,381.2 L1434.9,377.4 L1434.9,373.1 L1435.0,375.1 L1435.0,370.1 L1435.1,371.7 L1435.1,367.1 L1435.1,371.5 L1435.2,367.5 L1435.2,364.4 L1435.2,367.9 L1435.3,362.6 L1435.3,370.2 L1435.3,370.0 L1435.3,366.6 L1435.3,372.6 L1435.4,372.4 L1435.4,376.3 L1435.4,375.1 L1435.4,375.0 L1435.4,380.1 L1435.4,374.7 L1435.5,381.2 L1435.5,377.2 L1435.5,380.2 L1435.5,380.5 L1435.5,388.0 L1435.6,386.3 L1435.6,390.1 L1435.6,387.9 L1435.6,392.9 L1435.6,393.6 L1435.7,390.7 L1435.7,395.2 L1435.7,398.1 L1435.7,395.3 L1435.7,399.9 L1435.7,398.2 L1435.8,400.1 L1435.8,405.7 L1435.8,407.3 L1435.8,409.2 L1435.8,406.2 L1435.9,408.8 L1435.9,411.5 L1435.9,412.0 L1435.9,410.5 L1435.9,414.6 L1436.0,411.9 L1436.0,417.5 L1436.0,415.2 L1436.0,413.9 L1436.0,420.1 L1436.0,416.8 L1436.1,422.4 L1436.1,418.9 L1436.1,427.6 L1436.1,425.5 L1436.1,428.5 L1436.2,425.3 L1436.2,430.7 L1436.2,430.2 L1436.2,430.7 L1436.2,436.6 L1436.2,431.8 L1436.3,436.5 L1436.3,434.8 L1436.3,442.0 L1436.3,443.6 L1436.3,438.0 L1436.4,442.4 L1436.4,443.5 L1436.4,446.5 L1436.4,447.6 L1436.4,445.8 L1436.5,451.6 L1436.5,447.1 L1436.5,447.9 L1436.5,454.4 L1436.5,450.4 L1436.5,452.3 L1436.6,456.1 L1436.6,456.2 L1436.6,456.3 L1436.6,460.9 L1436.7,456.1 L1436.7,457.2 L1436.7,451.8 L1436.7,455.7 L1436.7,449.2 L1436.8,453.4 L1436.8,450.0 L1436.8,451.7 L1436.8,449.0 L1436.9,446.3 L1436.9,444.0 L1436.9,444.8 L1436.9,440.0 L1437.0,435.7 L1437.0,441.0 L1437.0,439.1 L1437.0,437.1 L1437.0,436.6 L1437.1,431.6 L1437.1,432.1 L1437.1,433.5 L1437.1,433.3 L1437.2,431.6 L1437.2,424.4 L1437.2,427.2 L1437.2,424.9 L1437.3,422.5 L1437.3,419.4 L1437.3,417.9 L1437.3,419.2 L1437.4,418.0 L1437.4,415.0 L1437.4,414.4 L1437.4,414.5 L1437.4,414.8 L1437.5,412.1 L1437.5,407.4 L1437.5,411.6 L1437.5,406.2 L1437.6,409.4 L1437.6,408.1 L1437.6,400.2 L1437.6,402.2 L1437.7,403.8 L1437.7,398.0 L1437.7,397.9 L1437.7,394.8 L1437.7,391.3 L1437.8,391.4 L1437.8,389.5 L1437.8,389.4 L1437.9,393.4 L1437.9,394.2 L1437.9,398.5 L1437.9,398.0 L1438.0,397.0 L1438.0,403.0 L1438.0,402.0 L1438.1,402.8 L1438.1,406.3 L1438.1,405.8 L1438.2,404.4 L1438.2,407.3 L1438.2,405.9 L1438.3,412.4 L1438.3,408.2 L1438.3,415.2 L1438.4,409.5 L1438.4,410.4 L1438.4,416.2 L1438.5,415.0 L1438.5,418.9 L1438.5,417.5 L1438.6,424.6 L1438.6,424.3 L1438.6,425.5 L1438.6,428.5 L1438.7,430.1 L1438.7,428.7 L1438.7,430.2 L1438.8,426.0 L1438.8,427.5 L1438.8,431.7 L1438.9,437.1 L1438.9,433.3 L1438.9,436.6 L1439.0,433.5 L1439.0,438.0 L1439.0,443.0 L1439.1,442.1 L1439.1,445.5 L1439.1,440.7 L1439.2,441.2 L1439.2,439.9 L1439.2,443.6 L1439.3,436.5 L1439.3,441.6 L1439.3,435.0 L1439.4,438.4 L1439.4,434.6 L1439.4,432.1 L1439.5,436.1 L1439.5,430.7 L1439.5,432.0 L1439.6,425.8 L1439.6,430.3 L1439.6,430.2 L1439.7,422.1 L1439.7,425.7 L1439.7,420.8 L1439.8,418.6 L1439.8,419.0 L1439.8,420.1 L1439.9,421.1 L1439.9,419.8 L1439.9,418.2 L1440.0,413.7 L1440.0,412.4 L1440.0,406.9 L1440.0,409.9 L1440.1,407.2 L1440.1,404.4 L1440.1,407.2 L1440.2,400.8 L1440.2,398.7 L1440.2,397.5 L1440.3,396.2 L1440.3,398.3 L1440.3,398.6 L1440.4,392.6 L1440.4,394.1 L1440.4,393.6 L1440.5,392.3 L1440.5,390.1 L1440.5,389.9 L1440.6,384.6 L1440.6,383.8 L1440.6,385.4 L1440.7,385.3 L1440.8,390.5 L1440.8,387.8 L1440.9,393.4 L1440.9,390.1 L1441.0,390.2 L1441.0,394.3 L1441.1,394.9 L1441.1,395.7 L1441.2,400.2 L1441.2,397.2 L1441.3,402.0 L1441.4,404.7 L1441.4,403.1 L1441.5,404.9 L1441.5,409.5 L1441.6,408.5 L1441.6,406.6 L1441.7,407.1 L1441.7,408.6 L1441.8,411.9 L1441.8,411.4 L1441.9,417.0 L1441.9,416.6 L1442.0,417.0 L1442.1,419.9 L1442.1,424.6 L1442.2,420.5 L1442.2,421.2 L1442.3,423.7 L1442.3,425.2 L1442.4,431.0 L1442.4,428.2 L1442.5,424.8 L1442.5,421.5 L1442.6,419.3 L1442.6,418.5 L1442.7,422.7 L1442.7,419.8 L1442.8,414.6 L1442.9,416.9 L1442.9,411.0 L1443.0,412.9 L1443.0,410.0 L1443.1,406.7 L1443.1,410.1 L1443.2,408.9 L1443.2,406.3 L1443.3,402.7 L1443.3,405.6 L1443.4,402.8 L1443.4,403.0 L1443.5,397.0 L1443.5,401.7 L1443.6,393.3 L1443.6,393.4 L1443.7,393.6 L1443.7,390.9 L1443.8,388.8 L1443.8,392.3 L1443.9,393.4 L1443.9,387.0 L1444.0,385.1 L1444.1,386.8 L1444.1,384.6 L1444.2,387.2 L1444.3,390.8 L1444.4,390.3 L1444.5,389.7 L1444.6,390.5 L1444.7,395.6 L1444.8,400.1 L1444.9,400.6 L1445.0,395.4 L1445.1,399.6 L1445.2,400.5 L1445.3,399.6 L1445.4,404.6 L1445.5,404.6 L1445.5,408.3 L1445.7,403.1 L1445.8,406.7 L1446.0,404.5 L1446.1,400.6 L1446.2,396.7 L1446.4,398.0 L1446.5,393.9 L1446.7,396.9 L1446.8,395.7 L1446.9,393.4 L1447.1,395.1 L1447.2,387.0 L1447.4,391.2 L1447.5,390.8 L1447.6,384.6 L1447.8,385.2 L1447.9,381.7 L1448.1,384.3 L1448.9,384.3 L1449.8,380.3 L1450.6,382.0 L1451.5,378.3 L1452.4,380.0 L1453.2,375.4 L1454.1,380.0 L1455.0,374.6 L1455.8,370.1 L1457.1,370.6 L1458.4,375.9 L1459.7,377.0 L1461.0,375.0 L1462.3,370.9 L1463.6,377.5 L1464.9,376.3 L1466.2,370.9 L1467.5,373.6 L1468.8,376.0 L1470.0,368.8 L1471.2,368.4 L1472.4,370.7 L1473.6,375.1 L1474.7,375.8 L1475.9,368.2 L1477.1,373.7 L1478.3,371.8 L1479.5,372.1 L1480.6,369.0 L1481.8,373.0 L1483.1,369.6 L1484.4,373.1 L1485.7,369.0 L1487.0,364.5 L1488.3,367.8 L1489.6,367.0 L1490.9,364.9 L1492.2,365.0 L1493.5,366.6 L1494.8,367.5 L1493.0,362.8 L1494.2,363.2 L1495.3,365.7 L1496.5,364.7 L1497.7,362.5 L1498.9,364.5 L1500.1,357.3 L1501.3,360.6 L1502.4,357.1 L1503.6,363.3 L1504.8,362.2 L1506.0,363.1 L1507.3,360.0 L1508.6,356.8 L1509.9,366.4 L1511.2,361.1 L1512.5,359.6 L1513.8,358.9 L1515.1,360.6 L1516.4,365.1 L1517.7,366.9 L1519.0,362.2 L1520.3,366.3 L1521.6,359.1 L1522.9,363.1 L1524.2,362.1 L1525.5,361.8 L1526.8,363.1 L1528.1,368.5 L1529.4,367.9 L1530.6,359.8 L1531.9,359.8 L1533.1,366.7 L1534.3,364.5 L1535.5,364.6 L1536.7,363.7 L1537.9,364.3 L1539.0,357.9 L1540.2,354.1 L1541.4,357.9 L1542.6,352.5 L1543.8,365.6 L1544.9,358.5 L1546.2,360.6 L1547.5,364.9 L1548.8,362.4 L1550.1,353.9 L1551.4,355.4 L1552.7,352.5 L1554.0,363.2 L1555.3,362.9 L1556.6,359.7 L1557.9,358.5 L1559.1,356.3 L1560.3,358.8 L1561.5,361.4 L1562.7,363.4 L1563.9,362.0 L1565.1,362.1 L1566.3,355.7 L1567.5,355.3 L1568.7,353.6 L1569.9,363.3 L1571.1,350.7 L1572.3,349.5 L1573.5,350.4 L1574.8,359.5 L1576.1,358.1 L1577.4,351.0 L1578.7,359.2 L1580.0,360.3 L1581.3,353.9 L1582.6,351.0 L1583.9,359.4 L1585.2,353.2 L1586.5,349.2 L1587.8,360.6 L1589.1,353.4 L1590.4,353.0 L1591.7,356.1 L1593.0,351.2 L1594.3,347.9 L1595.6,353.5 L1596.9,354.1 L1598.2,349.4 L1599.5,355.5 L1600.8,362.1 L1602.1,356.5 L1603.4,362.1 L1604.7,361.8 L1605.9,354.9 L1607.1,352.1 L1608.3,361.4 L1609.5,359.3 L1610.7,353.3 L1611.9,350.7 L1613.1,359.3 L1614.3,358.9 L1615.5,348.7 L1616.7,353.9 L1617.9,353.6 L1619.1,349.8 L1620.3,345.4 L1621.6,349.7 L1622.9,354.3 L1624.2,353.6 L1625.5,352.2 L1626.8,346.3 L1628.1,347.2 L1629.4,348.2 L1630.6,349.3 L1631.9,348.1 L1633.2,355.7 L1634.5,343.9 L1635.8,357.0 L1637.1,345.8 L1638.4,355.1 L1639.7,345.9 L1641.0,350.8 L1642.3,347.3 L1643.6,341.9 L1644.9,353.0 L1646.2,352.9 L1647.5,344.7 L1648.8,352.3 L1650.1,347.8 L1651.4,355.3 L1652.7,341.1 L1654.0,345.7 L1655.3,343.1 L1656.6,348.8 L1657.9,350.8 L1659.2,351.5 L1660.5,347.0 L1661.8,344.6 L1663.1,350.8 L1664.4,340.3 L1665.7,342.6 L1667.0,349.7 L1668.2,344.6 L1669.3,352.6 L1670.5,338.6 L1671.6,343.8 L1672.8,339.2 L1673.9,335.3 L1675.1,335.8 L1676.2,335.0 L1677.4,338.3 L1678.7,339.5 L1680.0,340.9 L1681.3,337.8 L1682.6,344.2 L1683.9,341.6 L1685.2,349.3 L1686.5,337.7 L1687.8,343.5 L1689.1,344.0 L1690.4,342.8 L1691.6,350.0 L1692.8,340.0 L1693.9,349.9 L1695.1,341.9 L1696.3,341.4 L1697.5,344.7 L1698.7,343.0 L1699.8,337.9 L1701.0,334.0 L1702.2,346.2 L1703.4,337.0 L1704.7,333.5 L1706.0,342.0 L1707.3,340.5 L1708.6,337.7 L1709.9,337.8 L1711.2,345.8 L1712.5,338.2 L1713.8,339.6 L1715.1,347.8 L1716.4,339.6 L1717.7,340.9 L1719.0,338.0 L1720.3,346.0 L1721.6,346.4 L1722.9,342.8 L1724.2,341.8 L1725.5,338.9 L1726.8,347.0 L1728.1,341.7 L1729.4,346.8 L1730.6,339.4 L1731.9,344.3 L1733.2,333.1 L1734.5,335.4 L1735.7,346.1 L1736.8,341.4 L1737.9,340.8 L1739.0,337.5 L1740.1,336.6 L1741.2,332.2 L1742.3,331.5 L1743.5,339.6 L1744.6,341.3 L1745.8,335.7 L1747.0,342.4 L1748.1,335.6 L1749.3,343.7 L1750.4,337.8 L1751.6,343.8 L1752.7,341.6 L1753.8,345.9 L1754.9,340.3 L1756.0,346.4 L1757.1,349.1 L1758.1,342.0 L1759.2,344.8 L1760.3,350.6 L1761.4,348.8 L1762.5,350.0 L1763.5,353.2 L1764.6,350.7 L1765.7,346.1 L1767.0,349.8 L1768.3,356.0 L1769.6,352.7 L1770.9,356.3 L1772.2,351.1 L1773.5,353.1 L1774.8,361.8 L1776.1,359.5 L1777.4,357.0 L1778.7,348.6 L1780.0,356.5 L1781.3,347.8 L1782.6,361.8 L1783.9,362.7 L1785.2,359.3 L1786.5,352.5 L1787.8,361.6 L1789.1,351.8 L1790.4,362.2 L1791.7,357.9 L1792.9,349.7 L1794.0,362.6 L1795.2,355.8 L1796.4,361.9 L1797.6,359.8 L1798.8,357.5 L1800.0,362.7 L1801.1,351.5 L1802.3,361.1 L1803.5,351.6 L1804.7,345.7 L1805.8,349.5 L1807.0,345.1 L1808.1,345.0 L1809.3,353.3 L1810.4,345.3 L1811.6,345.7 L1812.8,347.1 L1813.9,346.3 L1815.1,355.5 L1816.4,355.3 L1817.7,354.7 L1819.0,356.8 L1820.3,348.6 L1821.6,354.2 L1822.9,346.5 L1824.2,356.7 L1825.5,355.4 L1826.1,355.7 L1826.8,349.4 L1827.4,348.8 L1828.1,363.1 L1828.7,358.6 L1829.4,360.7 L1830.0,365.7 L1830.6,355.9 L1831.3,365.6 L1831.9,362.5 L1832.6,368.0 L1833.2,363.5 L1834.5,359.3 L1835.8,370.7 L1837.1,360.5 L1838.4,367.8 L1839.7,369.3 L1841.0,360.5 L1842.3,367.6 L1843.6,363.8 L1844.3,362.7 L1844.9,364.1 L1845.6,377.0 L1846.2,369.5 L1846.9,372.3 L1847.5,372.8 L1848.2,366.1 L1848.8,378.0 L1849.5,378.4 L1850.1,381.4 L1850.8,374.3 L1851.4,372.9 L1852.6,375.4 L1853.7,381.8 L1854.9,382.0 L1856.0,379.4 L1857.2,382.7 L1858.4,378.2 L1859.5,391.8 L1860.7,384.8 L1861.8,385.5 L1862.5,390.6 L1863.1,381.8 L1863.8,390.9 L1864.4,386.4 L1865.1,395.3 L1865.7,385.1 L1866.4,389.5 L1867.0,396.8 L1867.7,395.0 L1868.3,393.9 L1869.0,398.0 L1869.6,392.7 L1868.7,396.6 L1867.8,390.5 L1868.7,405.0 L1869.7,397.4 L1870.6,408.4 L1871.6,405.2 L1872.5,406.5 L1873.5,407.5 L1874.4,399.7 L1875.3,411.1 L1876.3,403.5 L1877.2,413.8 L1878.2,413.2 L1879.5,410.9 L1880.8,412.8 L1882.1,405.9 L1883.4,409.6 L1884.7,414.2 L1886.0,400.6 L1887.3,398.7 L1888.6,403.8 L1889.5,406.9 L1890.5,401.9 L1891.4,404.5 L1892.3,417.3 L1893.3,410.2 L1894.2,406.8 L1895.2,408.3 L1896.1,416.3 L1897.1,410.3 L1898.0,416.3 L1899.0,418.6 L1900.1,416.6 L1901.3,417.6 L1902.5,423.5 L1903.7,408.3 L1904.9,423.8 L1906.0,408.9 L1907.2,404.5 L1908.4,416.8 L1909.6,411.7 L1910.8,411.2 L1911.9,405.3 L1912.9,417.3 L1913.9,409.7 L1914.9,419.1 L1915.9,410.1 L1916.9,417.2 L1917.9,419.2 L1918.9,414.4 L1919.9,417.0 L1920.9,409.9 L1921.9,422.0 L1922.9,423.9 L1923.9,414.4 L1924.9,423.1 L1925.9,427.2 L1926.8,415.3 L1927.7,430.4 L1928.6,431.5 L1929.6,415.8 L1930.5,420.8 L1931.4,418.6 L1932.4,423.0 L1933.3,420.7 L1934.2,429.9 L1935.1,426.3 L1936.1,428.5 L1937.0,432.9 L1937.9,432.3 L1939.0,441.7 L1940.1,441.5 L1941.2,430.2 L1942.3,433.5 L1943.3,430.2 L1944.4,437.9 L1945.5,433.0 L1946.6,444.9 L1947.7,446.4 L1948.7,450.6 L1949.8,433.8 L1950.9,431.2 L1952.1,447.3 L1953.3,441.0 L1954.5,452.8 L1955.6,442.4 L1956.8,441.6 L1958.0,437.4 L1959.2,456.7 L1960.4,448.3 L1961.5,447.7 L1962.7,448.3 L1963.9,455.9 L1965.0,456.7 L1966.1,448.7 L1967.2,441.9 L1968.3,445.0 L1969.5,453.5 L1970.6,441.7 L1971.7,445.4 L1973.0,442.3 L1974.3,440.1 L1975.6,442.4 L1976.9,435.4 L1978.2,441.9 L1979.5,448.3 L1980.8,432.7 L1982.1,439.8 L1983.4,451.6 L1984.7,454.6 L1985.9,435.7 L1987.0,449.2 L1988.2,449.8 L1989.4,454.8 L1990.6,447.4 L1991.8,440.8 L1992.9,444.2 L1994.1,452.8 L1995.3,453.0 L1996.5,441.8 L1997.7,451.0 L1999.0,450.4 L2000.3,449.5 L2001.6,435.1 L2002.9,443.1 L2004.2,439.7 L2005.5,446.1 L2006.8,441.3 L2008.1,437.5 L2009.4,449.7 L2010.6,442.2 L2011.9,452.5 L2013.2,441.8 L2014.5,446.5 L2015.8,451.7 L2017.1,436.6 L2018.4,450.6 L2019.7,437.4 L2021.0,456.7 L2022.3,438.3 L2023.6,453.9 L2024.7,445.5 L2025.9,440.6 L2027.0,444.3 L2028.1,445.6 L2029.2,442.9 L2030.3,436.4 L2031.4,444.6 L2032.6,440.7 L2033.7,455.6 L2034.9,444.1 L2036.0,445.0 L2037.2,440.3 L2038.4,455.8 L2039.5,441.9 L2040.7,448.5 L2041.8,453.8 L2042.5,446.3 L2043.1,455.9 L2043.8,447.6 L2044.4,445.8 L2045.1,444.8 L2045.7,453.8 L2046.4,463.2 L2047.0,449.4 L2047.7,454.8 L2048.3,463.0 L2049.0,454.0 L2049.6,452.6 L2050.6,461.4 L2051.7,460.4 L2052.7,472.7 L2053.8,473.1 L2054.8,460.4 L2055.8,468.6 L2056.9,466.8 L2057.9,459.4 L2059.0,468.9 L2060.0,479.7 L2060.5,467.9 L2060.9,475.1 L2061.4,478.2 L2061.8,464.9 L2062.3,483.6 L2062.8,466.7 L2063.2,471.2 L2063.7,481.3 L2064.1,467.8 L2064.6,476.6 L2065.0,472.6 L2065.5,481.2 L2066.0,472.9 L2066.4,477.2 L2066.9,480.2 L2067.3,478.7 L2067.8,480.3 L2068.4,483.8 L2069.0,492.1 L2069.6,485.3 L2070.2,501.2 L2070.8,493.9 L2071.4,491.5 L2072.0,492.3 L2072.6,506.1 L2073.2,490.2 L2073.8,506.0 L2074.4,493.2 L2075.0,512.1 L2075.6,501.6 L2076.4,506.3 L2077.1,512.7 L2077.9,497.7 L2078.7,498.1 L2079.5,512.7 L2080.3,511.6 L2081.0,515.6 L2081.8,507.8 L2082.6,514.1 L2083.4,509.1 L2084.0,516.1 L2084.7,514.5 L2085.3,522.2 L2086.0,517.4 L2086.6,518.2 L2087.3,527.3 L2087.9,516.7 L2088.6,532.0 L2089.2,525.6 L2089.9,519.9 L2090.5,517.5 L2091.2,526.0 L2092.1,527.4 L2093.1,533.6 L2094.0,527.8 L2094.9,530.2 L2095.9,542.1 L2096.8,530.0 L2097.8,546.3 L2098.7,545.6 L2099.7,548.9 L2100.6,549.1 L2101.6,534.5 L2102.9,545.8 L2104.2,540.8 L2105.5,531.5 L2106.8,547.8 L2108.1,541.6 L2109.4,546.3 L2110.6,542.1 L2111.9,533.1 L2113.2,551.1 L2114.5,535.8 L2115.8,536.4 L2117.1,543.0 L2118.4,532.8 L2119.7,537.4 L2121.0,543.1 L2122.3,530.2 L2123.6,542.6 L2124.9,531.0 L2126.2,539.3 L2127.5,542.7 L2128.6,544.1 L2129.7,530.9 L2130.8,534.7 L2131.9,551.7 L2132.9,540.3 L2134.0,541.7 L2135.1,541.4 L2136.2,549.0 L2137.3,550.7 L2138.4,549.1 L2139.4,544.0 L2140.5,547.8 L2141.7,546.8 L2142.9,539.8 L2144.1,556.8 L2145.2,557.7 L2146.4,554.3 L2147.6,559.5 L2148.8,548.8 L2150.0,557.5 L2151.1,545.3 L2152.3,556.8 L2153.5,556.9 L2154.7,561.4 L2155.9,558.5 L2157.0,558.8 L2158.2,545.0 L2159.4,555.5 L2160.6,548.1 L2161.8,544.4 L2163.0,545.5 L2164.1,554.5 L2165.3,555.3 L2166.5,555.1 L2167.7,550.6 L2168.9,539.2 L2170.0,538.1 L2171.2,546.3 L2172.4,537.9 L2173.6,540.1 L2174.8,534.5 L2175.9,535.2 L2177.1,546.8 L2178.3,535.7 L2179.5,548.2 L2180.6,535.8 L2181.6,545.9 L2182.7,532.9 L2183.8,531.0 L2184.9,533.8 L2186.0,525.7 L2187.1,534.9 L2188.1,533.8 L2189.2,525.9 L2190.3,543.4 L2191.4,532.1 L2192.5,523.2 L2193.6,543.3 L2194.8,526.9 L2196.0,526.6 L2197.2,520.9 L2198.4,521.7 L2199.6,534.1 L2200.7,530.6 L2201.9,529.1 L2203.1,523.7 L2204.3,524.8 L2205.5,539.7 L2206.8,527.7 L2208.1,541.3 L2209.4,539.4 L2210.6,523.2 L2211.9,539.1 L2213.2,521.5 L2214.5,536.3 L2215.8,538.3 L2217.1,535.7 L2218.4,532.4 L2219.5,536.9 L2220.5,521.5 L2221.6,528.7 L2222.6,521.7 L2223.6,523.5 L2224.7,517.8 L2225.7,528.6 L2226.8,525.3 L2227.8,529.3 L2228.8,525.6 L2229.9,524.6 L2230.9,530.3 L2231.9,526.7 L2233.0,520.2 L2234.0,513.7 L2235.1,525.5 L2236.1,512.7 L2237.1,506.1 L2238.2,510.4 L2239.2,517.7"/>
<path class="red" stroke-width="4.2" stroke-linejoin="miter" stroke-miterlimit="6" d="M289.9,512.8 L291.7,532.7 L293.5,510.9 L295.3,504.3 L297.1,499.0 L299.0,493.3 L300.8,512.5 L302.9,510.3 L304.9,498.6 L307.0,508.8 L309.1,522.9 L311.2,510.7 L313.1,495.4 L315.1,501.9 L317.0,502.8 L319.0,518.6 L321.2,510.3 L323.5,526.3 L325.8,512.2 L328.1,516.5 L329.4,522.5 L330.6,497.0 L331.9,487.2 L333.2,495.1 L334.0,490.8 L334.7,485.7 L335.4,500.0 L336.1,506.8 L336.9,524.0 L337.6,506.3 L338.3,528.0 L339.0,513.9 L339.7,532.4 L341.3,523.1 L342.9,538.5 L344.4,533.4 L346.0,516.3 L347.5,536.4 L349.6,548.1 L351.7,533.1 L353.8,523.5 L355.8,519.7 L357.9,516.4 L360.0,539.4 L362.1,549.2 L364.2,522.4 L366.2,546.6 L368.3,547.1 L369.6,525.9 L370.9,546.5 L372.2,523.4 L373.5,537.6 L374.8,536.7 L376.1,523.7 L378.1,514.5 L380.0,529.5 L381.9,522.3 L383.9,520.1 L386.0,508.8 L388.1,529.8 L390.1,514.3 L392.2,525.3 L394.3,539.3 L395.4,522.8 L396.5,510.3 L397.6,522.5 L398.7,518.9 L399.9,535.4 L401.0,507.2 L402.1,500.5 L403.6,503.0 L405.0,521.6 L406.5,502.9 L408.0,501.6 L409.5,513.5 L411.0,511.2 L412.5,513.9 L414.4,518.3 L416.4,507.3 L418.3,501.5 L420.3,480.2 L422.2,508.8 L424.2,512.3 L426.1,518.9 L428.1,520.1 L429.4,495.9 L430.6,510.2 L431.9,507.2 L433.2,501.1 L434.5,498.9 L435.8,500.5 L437.6,481.7 L439.3,496.9 L441.0,499.2 L442.8,472.9 L444.5,508.5 L446.2,484.5 L448.5,487.3 L450.7,449.0 L452.9,493.0 L455.1,482.2 L457.4,484.3 L459.6,465.8 L461.8,489.2 L463.9,477.5 L466.0,468.1 L468.1,465.5 L470.1,475.8 L472.2,480.4 L474.2,456.7 L476.1,463.5 L478.1,457.2 L480.0,462.9 L481.9,471.2 L483.9,484.8 L485.8,483.2 L487.8,467.3 L488.8,477.3 L489.9,468.5 L490.9,477.3 L491.9,491.3 L493.0,479.5 L494.7,492.5 L496.5,472.4 L498.2,463.0 L499.9,471.7 L501.6,480.8 L503.4,482.5 L505.5,470.4 L507.5,468.3 L509.6,483.5 L511.7,491.5 L513.8,475.7 L515.7,475.1 L517.7,463.4 L519.6,470.6 L521.6,467.2 L523.6,465.9 L525.7,457.4 L527.8,475.5 L529.9,464.5 L531.9,454.0 L533.2,469.2 L534.5,470.8 L535.8,480.7 L537.1,478.6 L538.4,482.8 L539.7,485.9 L541.8,489.9 L543.9,468.5 L546.0,475.1 L548.1,474.5 L550.1,491.6 L552.1,468.8 L554.0,466.3 L556.0,490.5 L557.9,461.0 L558.6,471.1 L559.2,481.9 L559.9,496.7 L560.5,491.4 L561.2,476.1 L561.8,501.7 L562.5,491.6 L563.1,500.0 L564.8,512.7 L566.6,514.9 L568.3,486.1 L569.0,495.4 L569.6,504.6 L570.3,506.1 L570.9,501.2 L571.6,521.9 L572.2,528.4 L572.9,523.6 L573.5,529.6 L574.4,507.9 L575.2,533.1 L576.1,534.3 L577.0,523.5 L577.8,522.1 L578.7,543.3 L579.6,540.2 L580.4,532.1 L581.3,532.5 L582.3,548.3 L583.2,545.1 L584.2,538.4 L585.2,541.4 L586.2,557.7 L587.1,543.6 L588.1,546.3 L589.1,560.7 L589.7,545.7 L590.4,565.9 L591.0,559.1 L591.7,562.6 L592.3,558.4 L593.0,566.9 L593.6,564.6 L594.3,556.5 L595.1,565.8 L595.9,566.0 L596.7,576.4 L597.6,575.5 L598.4,587.5 L599.2,582.1 L600.0,578.7 L600.6,585.7 L601.2,581.9 L601.8,571.0 L602.3,574.1 L602.9,566.7 L603.5,571.2 L604.1,568.6 L604.7,563.5 L604.9,564.7 L605.1,556.7 L605.3,560.7 L605.5,554.1 L605.8,566.6 L606.0,564.0 L606.2,551.4 L606.4,550.0 L606.6,538.0 L606.8,551.0 L607.1,545.2 L607.3,533.0 L607.5,534.6 L607.7,536.8 L607.9,547.9 L608.1,537.5 L608.4,537.1 L608.6,526.2 L608.8,531.7 L609.0,531.4 L609.2,528.4 L609.4,521.0 L609.7,517.5 L609.9,519.3 L610.1,518.0 L610.3,513.5 L610.5,503.0 L610.7,500.7 L611.0,497.7 L611.2,491.9 L611.4,505.2 L611.6,489.6 L611.8,491.6 L612.0,504.2 L612.3,479.7 L612.5,476.1 L612.7,477.0 L612.9,480.3 L613.1,484.9 L613.3,474.6 L613.5,479.5 L613.8,467.8 L614.0,476.7 L614.2,463.9 L614.4,457.0 L614.6,453.6 L614.8,450.8 L615.1,474.1 L615.3,450.6 L615.5,457.0 L615.7,444.5 L615.9,456.3 L616.1,437.7 L616.4,458.2 L616.7,434.7 L617.0,444.6 L617.3,428.5 L617.6,421.9 L617.9,424.3 L618.2,423.0 L618.5,434.7 L618.8,424.2 L619.1,425.4 L619.4,422.6 L619.7,425.9 L620.0,401.9 L620.3,415.4 L621.1,422.1 L622.0,412.0 L622.9,407.4 L623.7,400.0 L624.6,408.9 L625.5,396.3 L626.8,401.6 L628.1,402.7 L629.4,401.0 L630.6,418.7 L631.7,410.6 L632.7,423.2 L633.8,411.1 L634.8,420.6 L635.8,412.2 L637.8,430.2 L639.7,429.2 L641.7,432.7 L643.6,418.8 L644.5,436.5 L645.4,423.8 L646.2,424.2 L647.1,427.4 L648.0,433.4 L648.8,431.4 L649.7,445.2 L650.6,443.8 L651.4,436.9 L653.0,441.2 L654.5,451.9 L656.1,431.9 L657.7,442.0 L659.2,440.1 L660.0,443.0 L660.7,430.1 L661.4,428.4 L662.2,430.4 L662.9,424.0 L663.7,416.0 L664.4,426.7 L666.1,429.7 L667.9,421.8 L669.6,430.6 L670.2,424.0 L670.8,421.0 L671.3,435.8 L671.9,426.7 L672.5,433.8 L673.1,445.8 L673.7,446.8 L674.2,440.5 L674.8,436.2 L675.1,450.0 L675.4,443.1 L675.7,444.7 L676.0,451.6 L676.3,462.1 L676.6,464.5 L677.0,460.9 L677.3,459.2 L677.6,460.3 L677.9,461.4 L678.2,472.5 L678.6,473.0 L679.0,478.8 L679.4,483.6 L679.8,474.7 L680.2,481.2 L680.6,484.7 L681.0,485.1 L681.4,493.1 L681.8,482.7 L682.2,497.4 L682.6,486.5 L683.0,499.6 L683.4,501.1 L683.8,501.2 L684.2,503.2 L684.6,507.1 L685.0,513.9 L685.4,516.5 L685.8,510.1 L686.2,503.0 L686.6,522.8 L687.0,524.7 L687.4,518.8 L687.8,513.4 L688.2,521.0 L688.6,523.0 L689.1,522.6 L689.6,523.6 L690.1,539.2 L690.6,539.2 L691.2,543.3 L691.7,540.3 L692.2,536.7 L692.7,542.1 L693.2,547.2 L693.8,543.7 L695.1,560.3 L696.4,547.2 L697.7,560.7 L699.0,559.7 L699.7,559.3 L700.4,556.1 L701.2,565.3 L701.9,568.5 L702.7,567.6 L703.4,574.4 L704.2,581.0 L704.9,575.0 L705.6,571.2 L706.4,576.0 L707.1,587.6 L707.9,592.7 L708.6,577.0 L709.4,592.2 L710.4,585.8 L711.4,601.2 L712.5,602.8 L713.5,597.4 L714.5,603.6 L716.5,592.8 L718.4,605.7 L719.3,597.8 L720.2,591.5 L721.0,595.0 L721.9,597.1 L722.8,597.1 L723.6,588.9 L724.2,586.4 L724.7,578.5 L725.3,580.2 L725.9,577.8 L726.4,564.5 L727.0,577.2 L727.5,578.8 L729.1,566.7 L730.6,565.9 L732.2,565.4 L733.8,560.1 L735.3,558.0 L736.4,570.6 L737.4,562.7 L738.4,566.3 L739.5,572.7 L740.5,563.9 L741.4,574.9 L742.3,573.8 L743.1,566.9 L744.0,568.5 L744.8,550.4 L745.7,569.3 L746.3,552.9 L746.9,553.0 L747.4,548.0 L748.0,555.9 L748.6,552.7 L749.2,546.9 L749.8,542.8 L750.3,538.8 L750.9,548.6 L751.8,535.8 L752.6,533.8 L753.5,533.0 L754.4,536.5 L755.2,531.5 L756.1,532.0 L756.8,519.0 L757.6,515.3 L758.3,518.2 L759.1,522.8 L759.8,519.1 L760.6,516.6 L761.3,519.3 L761.4,509.9 L761.5,506.3 L761.6,511.8 L761.7,497.1 L761.8,496.6 L761.9,497.5 L762.1,490.0 L762.2,502.1 L762.3,497.4 L762.4,486.7 L762.5,484.9 L762.6,493.1 L764.2,487.7 L765.8,496.6 L767.5,484.0 L769.1,486.5 L771.3,484.7 L773.4,481.9 L775.6,493.6 L775.7,492.0 L775.8,482.0 L775.9,489.2 L776.0,476.9 L776.0,480.9 L776.1,480.6 L776.2,482.6 L776.3,466.7 L776.4,463.3 L776.5,472.9 L776.6,470.7 L776.7,472.2 L776.8,450.0 L776.9,461.0 L777.5,459.7 L778.2,461.0 L778.8,457.5 L779.5,447.5 L780.1,449.0 L780.8,443.8 L781.4,443.2 L782.1,439.4 L782.5,432.7 L782.9,436.9 L783.4,434.6 L783.8,431.2 L784.2,433.6 L784.7,419.5 L785.1,431.7 L785.5,415.0 L786.0,411.9 L786.2,417.7 L786.3,417.0 L786.5,415.8 L786.7,403.7 L786.9,415.7 L787.1,398.7 L787.3,401.1 L787.5,400.8 L787.6,401.9 L787.8,403.4 L788.0,397.3 L788.2,385.2 L788.4,390.7 L788.6,382.8 L788.6,386.4 L788.7,387.1 L788.8,389.0 L788.8,402.3 L788.9,398.2 L788.9,400.9 L789.0,410.1 L789.1,399.3 L789.1,404.6 L789.2,411.3 L789.3,409.9 L789.3,409.2 L789.4,424.1 L789.4,419.6 L789.5,423.6 L789.6,417.2 L789.6,422.7 L789.7,437.5 L789.7,429.0 L789.8,427.3 L789.9,429.0 L789.9,443.2 L790.0,440.9 L790.1,441.8 L790.1,446.4 L790.2,453.1 L790.2,446.6 L790.3,460.9 L790.4,452.7 L790.4,453.7 L790.5,455.7 L790.6,466.8 L790.6,471.3 L790.7,462.5 L790.7,471.9 L790.8,470.7 L790.9,474.3 L790.9,468.9 L791.0,471.7 L791.0,479.4 L791.1,479.7 L791.2,481.4 L791.3,485.9 L791.4,475.4 L791.5,480.6 L791.7,479.5 L791.8,480.2 L791.9,471.1 L792.0,473.9 L792.1,462.9 L792.3,464.4 L792.4,462.0 L792.5,465.8 L792.6,460.8 L792.8,448.0 L792.9,453.5 L793.0,452.5 L793.1,445.0 L793.2,450.0 L793.4,455.4 L793.5,449.9 L793.6,436.2 L793.7,442.0 L793.8,435.6 L794.0,437.1 L794.1,428.0 L794.2,420.3 L794.3,421.9 L794.5,418.1 L794.6,423.7 L794.7,415.7 L794.8,420.0 L794.9,409.2 L795.1,405.9 L795.6,411.0 L796.1,411.9 L796.6,398.9 L797.1,409.2 L797.7,407.9 L798.2,397.4 L798.7,392.3 L799.2,389.8 L799.7,389.8 L800.3,384.5 L800.3,398.0 L800.3,389.0 L800.4,398.9 L800.4,404.6 L800.5,394.4 L800.5,406.2 L800.5,402.7 L800.6,411.9 L800.6,411.0 L800.7,406.1 L800.7,417.5 L800.7,416.3 L800.8,425.5 L800.8,413.8 L800.9,418.1 L800.9,425.2 L800.9,429.7 L801.0,431.4 L801.0,437.6 L801.0,438.1 L801.1,448.5 L801.1,439.9 L801.2,447.9 L801.2,443.6 L801.2,449.9 L801.3,450.2 L801.3,438.3 L801.4,447.1 L801.4,448.6 L801.4,460.1 L801.5,454.0 L801.5,467.8 L801.6,467.1 L801.7,467.2 L801.9,456.7 L802.0,461.9 L802.2,447.5 L802.3,457.0 L802.5,450.7 L802.6,449.6 L802.8,443.3 L802.9,444.8 L803.1,441.5 L803.2,439.6 L803.4,442.0 L803.5,441.9 L803.7,424.3 L803.9,433.8 L804.0,430.1 L804.2,428.9 L804.5,432.3 L804.8,436.4 L805.2,423.5 L805.5,431.0 L805.9,431.7 L806.2,440.9 L806.6,447.8 L806.9,442.9 L807.3,446.9 L807.6,445.5 L808.0,444.5 L808.3,455.0 L808.7,455.4 L809.0,457.6 L809.4,453.2 L809.6,453.7 L809.9,449.5 L810.1,449.2 L810.4,459.7 L810.6,442.2 L810.9,448.0 L811.2,436.9 L811.4,446.2 L811.7,445.8 L811.9,429.3 L812.2,432.9 L812.5,418.3 L812.7,429.7 L813.0,423.4 L813.2,417.8 L813.4,434.4 L813.6,435.0 L813.7,430.7 L813.9,434.9 L814.0,440.7 L814.2,438.0 L814.3,441.8 L814.5,445.5 L814.6,444.8 L814.8,453.7 L814.9,452.8 L815.1,448.4 L815.2,451.2 L815.4,453.8 L815.5,462.5 L815.7,462.7 L815.8,457.4 L816.0,465.3 L816.2,467.9 L816.4,465.7 L816.6,470.8 L816.8,469.1 L817.0,480.4 L817.1,487.9 L817.3,481.6 L817.5,479.3 L817.7,481.1 L817.9,478.7 L818.1,489.0 L818.3,487.5 L818.4,492.3 L818.7,503.4 L819.0,493.2 L819.3,513.1 L819.6,501.2 L819.8,503.2 L820.1,507.7 L820.4,514.5 L820.7,506.0 L820.9,514.4 L821.2,521.4 L821.5,517.6 L821.8,529.5 L822.1,525.8 L822.3,525.2 L822.6,528.5 L822.8,525.8 L823.0,526.3 L823.2,532.9 L823.4,533.5 L823.6,546.5 L823.7,545.2 L823.8,542.7 L823.9,538.8 L823.9,550.4 L824.0,559.4 L824.1,555.3 L824.2,557.3 L824.2,547.2 L824.3,558.1 L824.4,569.1 L824.5,572.1 L824.6,573.3 L824.6,567.6 L824.7,564.5 L824.8,567.2 L824.9,583.6 L824.9,581.4 L825.2,578.8 L825.4,580.5 L825.6,584.5 L825.8,593.5 L826.0,588.8 L826.2,592.2 L826.5,589.3 L826.7,597.9 L826.9,607.9 L827.1,602.0 L827.3,603.8 L827.5,609.9 L827.7,604.4 L828.0,604.1 L828.2,611.6 L828.4,615.6 L828.6,614.0 L828.8,621.5 L829.7,624.8 L830.6,619.7 L831.4,615.8 L832.3,616.9 L833.2,606.7 L834.0,613.1 L834.1,609.0 L834.2,610.5 L834.3,613.2 L834.4,621.1 L834.5,618.4 L834.6,628.9 L834.7,620.2 L834.8,639.6 L834.9,633.7 L835.0,627.1 L835.1,635.7 L835.2,630.6 L835.3,643.2 L835.4,640.3 L835.5,647.9 L835.6,649.0 L835.7,650.5 L835.8,641.9 L835.9,650.6 L836.0,655.8 L836.1,662.4 L836.2,665.2 L836.3,660.6 L836.4,669.4 L836.5,657.9 L836.6,672.3 L836.8,658.7 L837.0,667.9 L837.2,665.1 L837.3,656.4 L837.5,649.4 L837.7,656.9 L837.9,653.5 L838.0,644.4 L838.2,654.2 L838.4,643.5 L838.6,634.5 L838.7,635.4 L838.9,645.1 L839.1,632.5 L839.3,638.3 L839.5,633.6 L839.6,631.9 L839.8,629.6 L840.0,630.9 L840.2,616.3 L840.3,628.2 L840.5,614.5 L841.4,611.5 L842.3,616.5 L843.1,613.4 L844.0,604.9 L844.8,606.0 L845.7,605.8 L845.8,594.5 L845.9,593.5 L846.0,593.4 L846.1,588.2 L846.3,595.6 L846.4,596.0 L846.5,581.8 L846.6,589.6 L846.7,580.7 L846.8,579.5 L846.9,585.4 L847.0,579.8 L847.1,582.2 L847.2,565.5 L847.3,578.5 L847.4,560.9 L847.6,567.2 L847.7,564.9 L847.8,559.7 L847.9,558.1 L848.0,547.0 L848.1,557.1 L848.2,557.1 L848.3,543.7 L849.1,549.3 L849.8,550.2 L850.5,559.4 L851.3,562.0 L852.0,557.8 L852.8,556.3 L853.5,572.5 L853.9,568.2 L854.4,558.7 L854.8,552.9 L855.2,545.9 L855.7,550.6 L856.1,551.0 L856.5,556.3 L857.0,548.1 L857.4,545.7 L857.8,551.9 L858.3,538.6 L858.7,546.9 L858.8,531.9 L858.9,538.0 L859.0,540.8 L859.1,538.5 L859.2,531.9 L859.3,531.0 L859.4,519.2 L859.5,524.0 L859.6,523.3 L859.7,520.9 L859.8,509.1 L859.9,511.0 L860.0,512.6 L860.1,508.8 L860.2,504.9 L860.3,496.5 L860.4,505.2 L860.5,490.2 L860.6,494.7 L860.7,493.8 L860.8,490.0 L860.9,494.1 L861.0,485.5 L861.1,489.0 L861.2,479.5 L861.3,478.8 L861.3,484.6 L861.3,486.5 L861.3,487.8 L861.4,487.3 L861.4,493.3 L861.4,489.7 L861.4,494.2 L861.4,499.8 L861.4,498.2 L861.4,502.4 L861.4,501.4 L861.5,512.5 L861.5,501.4 L861.5,512.1 L861.5,513.3 L861.5,517.6 L861.5,525.3 L861.5,515.7 L861.5,523.0 L861.6,518.8 L861.6,524.1 L861.6,531.7 L861.6,538.7 L861.6,529.3 L861.6,529.4 L861.6,533.2 L861.7,545.3 L861.7,549.8 L861.7,553.5 L861.7,537.5 L861.7,545.8 L861.7,550.9 L861.7,551.7 L861.7,560.6 L861.8,553.5 L861.8,556.8 L861.8,558.4 L861.8,563.7 L861.8,561.6 L861.8,563.8 L861.8,579.4 L861.8,573.5 L861.9,576.2 L861.9,576.8 L861.9,584.8 L861.9,580.0 L861.9,579.7 L861.9,596.2 L861.9,588.0 L862.0,594.5 L862.0,597.0 L862.0,592.3 L862.0,598.3 L862.0,595.9 L862.0,606.7 L862.0,602.0 L862.0,607.4 L862.1,615.1 L862.1,622.6 L862.1,620.2 L862.1,619.7 L862.1,615.4 L862.1,622.1 L862.1,619.9 L862.2,630.6 L862.2,631.0 L862.2,637.0 L862.2,632.5 L862.2,631.7 L862.2,638.5 L862.2,635.6 L862.2,648.3 L862.3,642.9 L862.3,649.8 L862.3,651.2 L862.3,660.6 L862.3,662.4 L862.3,656.7 L862.3,657.0 L862.3,655.5 L862.4,661.2 L862.4,675.1 L862.4,676.3 L862.4,663.9 L862.4,671.5 L862.4,672.2 L862.4,685.0 L862.5,680.2 L862.5,685.4 L862.5,677.9 L862.5,692.9 L862.5,693.3 L862.5,695.7 L862.5,696.9 L862.5,699.0 L862.6,702.5 L862.6,700.2 L862.6,706.1 L862.6,718.3 L862.7,705.2 L862.7,694.3 L862.8,701.7 L862.8,697.7 L862.9,699.3 L862.9,684.5 L863.0,684.6 L863.0,681.5 L863.1,691.6 L863.1,686.9 L863.2,674.7 L863.2,672.3 L863.3,682.4 L863.4,676.5 L863.4,668.1 L863.5,673.2 L863.5,660.2 L863.6,665.3 L863.6,661.3 L863.7,665.2 L863.7,653.7 L863.8,660.2 L863.8,653.0 L863.9,652.6 L864.0,640.9 L864.0,650.6 L864.1,644.9 L864.1,647.4 L864.2,644.4 L864.2,632.1 L864.3,626.0 L864.3,640.2 L864.4,623.5 L864.4,616.2 L864.5,627.0 L864.5,630.5 L864.6,617.9 L864.7,621.1 L864.7,610.1 L864.8,608.5 L864.8,608.7 L864.9,610.4 L864.9,611.4 L865.0,610.2 L865.0,595.8 L865.1,596.2 L865.1,602.3 L865.2,595.1 L865.2,595.4 L865.3,589.9 L865.4,589.9 L865.4,586.4 L865.5,580.3 L865.5,577.9 L865.6,587.1 L865.6,573.1 L865.7,575.7 L865.7,565.4 L865.8,575.9 L865.8,560.4 L865.9,561.2 L866.0,569.4 L866.0,557.8 L866.1,555.2 L866.1,561.5 L866.2,553.3 L866.2,552.7 L866.3,556.6 L866.3,554.0 L866.4,549.1 L866.4,535.0 L866.5,541.1 L867.5,546.0 L868.6,537.9 L869.6,544.1 L870.6,539.0 L871.7,534.3 L872.0,534.2 L872.3,533.0 L872.7,536.6 L873.0,540.9 L873.3,548.1 L873.6,549.8 L874.0,542.4 L874.3,547.7 L874.6,543.5 L874.9,551.9 L875.3,553.1 L875.6,564.4 L875.9,556.3 L876.2,558.0 L876.6,558.8 L876.9,564.1 L877.3,562.7 L877.7,576.6 L878.2,568.6 L878.6,568.5 L879.0,570.8 L879.5,581.8 L879.9,585.2 L880.3,587.8 L880.8,587.7 L881.2,590.7 L881.6,595.2 L882.1,596.6 L882.3,599.7 L882.5,602.1 L882.8,610.9 L883.0,608.8 L883.2,596.8 L883.4,601.8 L883.7,603.5 L883.9,610.4 L884.1,608.0 L884.3,602.3 L884.6,624.4 L884.8,614.8 L885.0,613.5 L885.2,616.0 L885.5,619.0 L885.7,623.6 L885.9,628.4 L886.1,637.6 L886.4,624.9 L886.6,640.0 L886.8,639.4 L887.0,637.6 L887.3,651.3 L887.5,644.9 L887.7,653.1 L888.0,654.0 L888.2,647.1 L888.4,653.2 L888.6,663.4 L888.9,666.3 L889.1,662.0 L889.3,656.4 L889.5,660.7 L889.8,668.5 L890.0,675.1 L890.2,672.9 L890.4,683.2 L890.7,677.1 L890.9,672.6 L891.1,677.5 L891.3,676.9 L891.6,691.0 L891.8,695.7 L892.0,689.4 L892.2,692.1 L892.5,699.3 L892.8,691.9 L893.1,700.8 L893.5,701.8 L893.8,703.2 L894.2,708.1 L894.5,711.2 L894.8,709.5 L895.2,719.1 L895.5,724.0 L895.9,714.8 L896.2,723.0 L896.5,726.2 L896.9,721.5 L897.2,732.7 L897.5,736.2 L897.9,732.3 L898.2,731.4 L898.6,732.4 L898.9,725.4 L899.2,752.4 L899.6,736.6 L899.9,746.1 L900.3,753.6 L900.5,749.4 L900.8,757.4 L901.0,754.8 L901.3,753.0 L901.6,759.6 L901.8,769.5 L902.1,770.9 L902.3,773.5 L902.6,769.3 L902.9,778.6 L903.1,769.4 L903.4,768.8 L903.6,772.5 L903.9,772.9 L904.2,788.7 L904.4,781.5 L904.7,790.7 L904.9,783.9 L905.2,790.5 L905.5,798.1 L905.7,788.6 L905.9,810.5 L906.1,803.2 L906.3,810.6 L906.5,813.6 L906.8,810.4 L907.0,803.8 L907.2,805.9 L907.4,813.1 L907.6,823.3 L907.8,813.9 L908.1,826.4 L909.2,813.1 L910.3,821.0 L911.4,808.5 L912.5,813.2 L913.6,815.5 L914.7,810.1 L915.8,805.4 L916.2,802.4 L916.5,799.2 L916.9,800.9 L917.2,792.2 L917.6,792.8 L917.9,798.7 L918.3,793.7 L918.6,782.5 L919.0,793.7 L919.3,781.6 L919.7,786.8 L920.0,778.7 L920.3,771.3 L920.7,783.3 L921.0,767.7 L921.9,772.6 L922.8,777.8 L923.6,785.1 L924.5,781.5 L925.4,779.5 L926.2,787.8 L927.2,793.7 L928.2,789.1 L929.2,789.1 L930.1,793.0 L930.2,788.7 L930.2,802.4 L930.3,795.2 L930.3,786.9 L930.4,786.7 L930.4,774.0 L930.5,779.8 L930.5,782.3 L930.6,767.0 L930.6,774.7 L930.7,763.2 L930.8,759.6 L930.8,771.7 L930.9,759.8 L930.9,754.0 L931.0,763.5 L931.0,757.8 L931.1,756.4 L931.1,748.2 L931.2,755.8 L931.2,749.3 L931.3,751.7 L931.3,736.0 L931.4,744.4 L931.4,740.6 L932.2,741.1 L932.9,736.7 L933.7,732.9 L934.4,723.5 L935.1,722.3 L935.9,730.2 L936.6,725.2 L937.1,713.0 L937.7,709.5 L938.2,721.1 L938.7,719.5 L939.2,702.8 L939.7,704.3 L940.3,704.6 L940.8,705.3 L941.3,699.2 L941.8,700.4 L942.7,692.9 L943.5,697.3 L944.4,695.7 L945.3,691.6 L946.1,683.7 L947.0,684.7 L947.4,689.5 L947.8,682.0 L948.2,679.7 L948.6,682.5 L949.0,666.2 L949.4,669.6 L949.7,674.1 L950.1,659.1 L950.5,664.8 L950.9,664.6 L951.0,670.7 L951.0,665.5 L951.1,667.3 L951.1,673.0 L951.2,671.2 L951.2,673.8 L951.3,670.7 L951.4,683.7 L951.4,682.6 L951.5,686.1 L951.5,686.5 L951.6,686.6 L951.6,696.1 L951.7,698.8 L951.8,702.0 L951.8,694.5 L951.9,701.2 L951.9,706.1 L952.0,705.4 L952.0,701.6 L952.1,708.3 L952.2,716.9 L952.2,709.8 L952.4,716.6 L952.6,711.8 L952.8,699.9 L953.0,706.3 L953.2,708.1 L953.4,711.7 L953.6,705.7 L953.7,702.7 L953.9,693.2 L954.1,689.6 L954.3,691.7 L954.5,688.9 L954.7,690.5 L954.9,677.7 L955.1,682.6 L955.3,670.0 L955.5,670.4 L955.7,679.3 L955.9,668.4 L956.1,662.2 L956.2,661.3 L956.4,662.7 L956.6,666.2 L956.8,653.7 L957.0,662.3 L957.2,649.4 L957.4,645.8 L958.7,644.3 L960.0,643.6 L961.3,641.4 L961.5,644.6 L961.6,648.7 L961.8,657.4 L962.0,650.3 L962.1,663.0 L962.3,664.2 L962.5,666.8 L962.7,663.8 L962.8,670.1 L963.0,665.5 L963.2,677.6 L963.3,665.6 L963.5,676.1 L963.7,676.1 L963.8,676.2 L964.0,681.4 L964.2,677.1 L964.3,688.2 L964.5,692.5 L964.7,685.9 L964.9,691.4 L965.0,703.4 L965.2,691.4 L965.4,702.3 L965.6,686.3 L965.8,697.0 L966.1,686.4 L966.3,684.0 L966.5,680.2 L966.7,674.9 L966.9,678.4 L967.1,683.9 L967.4,680.7 L967.6,678.4 L967.8,673.1 L968.3,672.9 L968.9,679.4 L969.5,683.6 L970.0,674.9 L970.6,685.1 L971.1,676.6 L971.7,690.7 L971.9,684.0 L972.2,685.6 L972.4,690.3 L972.7,687.2 L972.9,702.6 L973.1,698.5 L973.4,694.7 L973.6,708.1 L973.9,711.1 L974.1,706.2 L974.4,712.4 L974.6,717.8 L974.9,706.0 L975.1,711.6 L975.3,723.6 L975.6,725.7 L976.1,718.7 L976.7,721.2 L977.3,728.3 L977.8,737.5 L978.4,727.4 L978.9,733.3 L979.5,732.9 L980.8,734.1 L982.1,739.6 L983.4,747.8 L983.6,738.8 L983.9,748.5 L984.2,744.1 L984.4,755.4 L984.7,758.2 L984.9,761.5 L985.2,759.4 L985.5,761.6 L985.7,758.6 L986.0,766.7 L986.2,764.3 L986.5,764.9 L986.8,775.2 L987.0,769.2 L987.3,773.7 L987.5,775.6 L987.6,777.1 L987.8,775.2 L988.0,764.5 L988.2,763.1 L988.4,770.4 L988.6,755.4 L988.8,758.1 L988.9,763.6 L989.1,753.9 L989.3,747.9 L989.5,736.9 L989.7,741.5 L989.9,741.0 L990.8,738.8 L991.7,743.1 L992.7,731.7 L993.6,736.6 L994.5,738.9 L995.4,730.7 L996.4,730.1 L997.7,728.5 L999.0,732.3 L1000.3,731.9 L1001.6,726.9 L1002.9,721.3 L1004.2,724.8 L1005.0,716.8 L1005.9,716.8 L1006.8,711.5 L1007.6,711.3 L1008.5,714.3 L1009.4,706.0 L1010.2,702.0 L1011.1,706.2 L1011.9,704.3 L1013.9,704.9 L1015.8,696.6 L1017.8,704.5 L1019.7,692.0 L1020.4,691.6 L1021.0,706.5 L1021.7,702.7 L1022.3,703.2 L1023.0,687.6 L1023.6,690.9 L1024.3,681.6 L1024.9,686.3 L1025.9,683.9 L1026.9,676.3 L1027.9,677.2 L1028.8,673.1 L1029.8,669.6 L1030.8,666.4 L1031.8,666.2 L1032.7,664.6 L1033.5,669.0 L1034.4,664.8 L1035.2,653.5 L1036.0,668.7 L1036.8,663.0 L1037.6,659.2 L1038.4,655.8 L1039.2,660.2 L1040.3,647.3 L1041.4,643.7 L1042.5,643.6 L1043.5,637.0 L1044.6,639.9 L1045.7,644.4 L1046.8,644.5 L1047.9,640.8 L1049.0,629.5 L1050.0,630.9 L1051.1,639.0 L1052.2,635.0 L1054.4,634.5 L1056.5,633.1 L1058.7,635.6 L1059.3,636.0 L1059.9,625.6 L1060.4,618.7 L1061.0,626.8 L1061.6,626.4 L1062.2,612.4 L1062.7,617.9 L1063.3,613.3 L1063.9,609.3 L1065.0,603.3 L1066.1,611.6 L1067.2,612.2 L1068.3,604.8 L1069.5,608.3 L1070.6,602.3 L1071.7,601.1 L1072.8,596.0 L1073.9,592.5 L1075.0,585.8 L1076.1,588.2 L1077.3,596.4 L1078.4,587.9 L1079.5,586.8 L1080.1,589.3 L1080.8,596.0 L1081.4,584.9 L1082.1,596.2 L1082.7,595.8 L1083.4,601.9 L1084.1,593.1 L1084.8,599.8 L1085.5,585.1 L1086.3,592.0 L1087.0,584.4 L1087.7,586.7 L1088.4,576.7 L1089.1,578.3 L1089.9,572.5 L1091.0,580.0 L1092.1,568.6 L1093.2,568.0 L1094.3,567.9 L1095.4,580.6 L1096.5,562.6 L1097.7,569.6 L1099.4,563.4 L1101.1,570.1 L1102.9,561.4 L1104.6,555.9 L1106.3,553.8 L1108.1,550.0 L1110.1,557.3 L1112.2,552.1 L1114.3,548.4 L1116.4,557.6 L1118.4,557.6 L1119.7,558.0 L1121.0,543.9 L1122.3,552.8 L1123.6,546.1 L1125.4,537.4 L1127.1,547.8 L1128.8,546.4 L1130.6,538.8 L1132.3,542.0 L1134.0,539.7 L1136.1,538.4 L1138.2,530.8 L1140.3,534.2 L1142.3,537.5 L1144.4,534.9 L1146.8,524.3 L1149.0,527.0 L1151.3,529.4 L1153.6,522.6 L1155.8,530.0 L1158.1,519.3 L1160.4,532.1 L1162.7,531.4 L1164.9,523.9 L1167.0,528.6 L1169.0,527.8 L1171.0,515.2 L1173.0,515.1 L1175.0,516.8 L1177.1,516.2 L1179.1,515.5 L1181.1,528.2 L1183.1,518.6 L1185.2,511.2 L1187.3,510.4 L1189.4,508.0 L1191.4,516.2 L1193.5,514.8 L1195.6,510.5 L1197.7,513.5 L1199.7,509.3 L1201.8,513.4 L1203.9,508.6 L1205.8,505.6 L1207.8,501.6 L1209.7,510.7 L1211.7,500.7 L1213.6,496.5 L1215.6,507.5 L1217.5,505.5 L1219.5,503.3 L1221.4,495.7 L1223.4,504.1 L1225.3,491.4 L1227.3,496.9 L1229.2,494.5 L1231.2,484.7 L1233.1,495.8 L1235.1,487.3 L1237.1,484.9 L1239.2,490.8 L1241.3,490.6 L1243.4,482.2 L1245.5,491.5 L1247.5,488.3 L1249.6,481.8 L1251.7,484.9 L1253.8,479.0 L1255.8,475.5 L1257.8,482.1 L1259.7,485.7 L1261.7,481.1 L1263.6,480.3 L1265.6,469.4 L1267.5,476.2 L1269.5,471.0 L1271.4,474.3 L1273.7,478.2 L1276.0,482.8 L1278.2,466.0 L1280.5,474.0 L1282.8,467.6 L1285.1,473.4 L1287.3,471.2 L1289.6,462.0 L1291.6,467.5 L1293.5,465.1 L1295.5,461.4 L1297.4,467.5 L1299.4,454.5 L1301.3,459.2 L1303.2,456.8 L1305.2,450.0 L1307.1,460.7 L1309.1,457.1 L1311.0,454.2 L1313.0,449.8 L1314.9,450.7 L1316.9,449.8 L1318.8,440.0 L1320.8,450.7 L1322.9,441.6 L1325.1,439.2 L1327.3,448.1 L1329.4,435.1 L1331.6,435.9 L1333.8,445.4 L1335.4,440.9 L1337.0,436.4 L1338.6,438.5 L1340.3,432.7 L1341.9,427.9 L1343.5,437.0 L1345.1,440.9 L1346.8,432.1 L1348.9,423.3 L1351.1,420.3 L1353.2,426.1 L1355.4,419.2 L1357.6,426.2 L1359.7,415.6 L1361.2,423.3 L1362.7,423.1 L1364.2,423.0 L1365.7,417.2 L1367.2,418.9 L1368.6,417.2 L1370.1,404.4 L1372.3,412.9 L1374.5,410.6 L1376.6,412.9 L1378.8,403.3 L1381.0,405.1 L1383.1,401.3 L1385.7,400.5 L1386.2,410.6 L1386.8,403.6 L1387.3,411.6 L1387.6,411.5 L1387.9,403.6 L1388.2,405.1 L1388.5,396.9 L1388.9,404.8 L1389.1,402.4 L1389.3,404.3 L1389.5,405.6 L1389.8,408.6 L1390.0,405.9 L1390.2,412.3 L1390.5,411.4 L1390.7,406.5 L1390.9,416.9 L1391.1,417.7 L1391.3,402.9 L1391.5,409.8 L1391.7,405.3 L1391.8,405.3 L1392.0,389.4 L1392.2,402.1 L1392.4,401.0 L1392.6,403.0 L1392.8,400.8 L1393.0,409.0 L1393.2,404.0 L1393.4,406.0 L1393.6,416.0 L1393.8,412.9 L1393.9,410.9 L1394.1,415.9 L1394.2,407.5 L1394.3,406.3 L1394.4,405.8 L1394.5,407.6 L1394.7,394.2 L1394.8,403.1 L1394.9,396.4 L1395.0,389.0 L1395.1,391.1 L1395.2,384.0 L1395.4,392.1 L1395.6,388.1 L1395.8,399.0 L1396.0,403.4 L1396.2,406.5 L1396.4,403.5 L1396.6,405.5 L1396.8,409.4 L1397.0,413.1 L1397.2,403.7 L1397.4,396.4 L1397.6,405.1 L1397.7,395.7 L1397.9,400.2 L1398.1,402.9 L1398.2,399.5 L1398.5,403.3 L1398.8,404.3 L1399.1,400.8 L1399.3,401.7 L1399.6,407.0 L1399.9,413.3 L1400.2,409.5 L1400.3,402.0 L1400.5,400.1 L1400.6,397.6 L1400.8,399.1 L1400.9,396.6 L1401.1,402.2 L1401.2,390.9 L1401.4,397.3 L1401.5,384.6 L1401.7,381.5 L1401.8,381.6 L1401.9,382.9 L1402.0,386.4 L1402.1,393.7 L1402.2,390.6 L1402.3,397.2 L1402.5,403.3 L1402.6,396.8 L1402.7,406.2 L1402.8,411.0 L1402.9,404.5 L1403.0,412.8 L1403.1,410.2 L1403.2,402.7 L1403.3,410.9 L1403.4,407.6 L1403.5,403.2 L1403.6,402.2 L1403.7,397.2 L1403.8,388.8 L1403.9,385.7 L1404.0,390.0 L1404.1,384.0 L1404.2,379.4 L1404.3,393.4 L1404.4,387.0 L1404.5,389.6 L1404.6,399.0 L1404.7,401.7 L1404.7,397.4 L1404.8,397.7 L1404.9,405.8 L1405.0,400.3 L1405.1,412.4 L1405.2,411.6 L1405.3,413.7 L1405.4,415.5 L1405.5,418.1 L1405.6,425.0 L1405.7,410.2 L1405.8,409.7 L1405.9,411.0 L1406.0,415.6 L1406.1,403.0 L1406.2,406.4 L1406.3,399.5 L1406.4,398.4 L1406.5,404.6 L1406.6,397.2 L1406.7,397.9 L1406.8,390.6 L1406.9,388.8 L1407.0,385.0 L1407.1,385.5 L1407.2,388.5 L1407.3,397.3 L1407.4,401.7 L1407.5,398.3 L1407.7,400.1 L1407.8,394.3 L1407.9,405.1 L1408.0,397.7 L1408.1,406.6 L1408.2,403.5 L1408.3,403.7 L1408.5,405.3 L1408.6,420.3 L1408.7,416.8 L1408.8,420.7 L1408.9,422.6 L1409.0,418.2 L1409.1,409.9 L1409.2,416.0 L1409.3,401.5 L1409.4,414.5 L1409.5,405.1 L1409.6,404.1 L1409.7,400.2 L1409.8,396.4 L1409.9,390.6 L1410.0,396.5 L1410.1,393.8 L1410.2,383.4 L1410.3,383.1 L1410.4,386.8 L1410.5,388.4 L1410.6,376.2 L1410.7,384.5 L1410.7,390.0 L1410.8,389.2 L1410.9,392.6 L1411.0,387.1 L1411.0,392.1 L1411.1,391.2 L1411.2,393.3 L1411.2,407.3 L1411.3,408.1 L1411.4,407.4 L1411.5,402.0 L1411.5,412.9 L1411.6,416.8 L1411.7,416.2 L1411.8,413.2 L1411.8,424.7 L1411.9,419.3 L1412.0,421.8 L1412.0,425.9 L1412.1,423.5 L1412.2,422.5 L1412.3,431.2 L1412.3,435.8 L1412.4,433.8 L1412.5,426.1 L1412.6,423.1 L1412.7,426.5 L1412.7,422.0 L1412.8,416.0 L1412.9,404.1 L1413.0,414.4 L1413.0,404.0 L1413.1,402.9 L1413.2,406.2 L1413.3,408.1 L1413.3,403.7 L1413.4,403.0 L1413.5,395.3 L1413.6,400.9 L1413.7,391.9 L1413.8,393.8 L1413.9,395.9 L1414.0,395.7 L1414.1,394.4 L1414.2,396.9 L1414.3,404.6 L1414.5,411.1 L1414.6,405.4 L1414.7,409.7 L1414.8,421.3 L1414.9,416.8 L1415.0,416.9 L1415.1,418.3 L1415.3,424.5 L1415.4,421.9 L1415.5,433.6 L1415.6,424.5 L1415.7,427.2 L1415.8,428.9 L1415.8,428.3 L1415.9,424.8 L1416.0,427.3 L1416.1,415.3 L1416.2,420.9 L1416.3,412.5 L1416.3,414.6 L1416.4,408.1 L1416.5,410.3 L1416.6,409.2 L1416.7,405.3 L1416.7,399.4 L1416.8,391.8 L1416.9,390.5 L1417.0,403.3 L1417.1,389.5 L1417.2,397.6 L1417.2,381.2 L1417.3,385.1 L1417.4,385.1 L1417.4,389.4 L1417.5,395.6 L1417.5,397.4 L1417.6,396.8 L1417.6,392.2 L1417.7,403.2 L1417.8,401.6 L1417.8,398.7 L1417.9,403.2 L1417.9,415.3 L1418.0,406.3 L1418.0,417.3 L1418.1,420.2 L1418.1,412.9 L1418.2,414.9 L1418.2,426.9 L1418.3,425.2 L1418.3,422.4 L1418.4,434.0 L1418.5,427.7 L1418.5,433.8 L1418.6,436.1 L1418.6,428.4 L1418.7,442.9 L1418.7,432.5 L1418.8,437.0 L1418.9,430.5 L1418.9,428.6 L1419.0,424.0 L1419.0,424.2 L1419.1,432.0 L1419.2,420.7 L1419.2,421.7 L1419.3,424.9 L1419.3,410.0 L1419.4,417.2 L1419.5,408.8 L1419.5,413.4 L1419.6,411.1 L1419.6,400.6 L1419.7,401.7 L1419.8,394.7 L1419.8,386.9 L1419.9,392.7 L1420.0,401.1 L1420.1,397.9 L1420.2,407.5 L1420.3,409.1 L1420.5,403.8 L1420.6,405.0 L1420.7,417.3 L1420.8,408.7 L1420.9,415.1 L1421.0,412.7 L1421.1,420.0 L1421.3,425.5 L1421.4,430.5 L1421.5,422.5 L1421.6,416.3 L1421.7,415.9 L1421.9,414.3 L1422.0,420.0 L1422.1,412.3 L1422.2,412.8 L1422.4,401.4 L1422.5,403.8 L1422.6,400.0 L1422.7,402.8 L1422.8,399.7 L1422.9,400.4 L1423.0,398.8 L1423.1,415.1 L1423.2,405.0 L1423.3,407.6 L1423.4,410.2 L1423.5,419.8 L1423.6,422.9 L1423.7,422.2 L1423.8,418.9 L1423.9,426.2 L1424.0,419.2 L1424.1,426.1 L1424.2,436.9 L1424.3,434.6 L1424.4,436.1 L1424.5,438.0 L1424.6,439.7 L1424.7,447.9 L1424.7,442.5 L1424.8,433.5 L1424.8,439.0 L1424.9,433.7 L1424.9,437.5 L1425.0,433.8 L1425.0,420.7 L1425.1,427.2 L1425.2,417.6 L1425.2,416.8 L1425.3,412.4 L1425.3,414.9 L1425.4,418.1 L1425.4,412.6 L1425.5,413.5 L1425.5,399.1 L1425.6,405.3 L1425.6,395.6 L1425.7,393.2 L1425.7,393.1 L1425.8,391.0 L1425.8,394.0 L1425.9,389.8 L1425.9,385.7 L1426.0,379.8 L1426.1,391.7 L1426.2,393.9 L1426.4,394.7 L1426.5,397.8 L1426.6,400.7 L1426.7,396.4 L1426.8,401.6 L1426.9,406.7 L1427.1,403.4 L1427.2,413.6 L1427.3,414.5 L1427.4,414.8 L1427.5,416.1 L1427.6,409.2 L1427.7,413.3 L1427.7,408.4 L1427.8,409.4 L1427.8,410.1 L1427.9,399.1 L1427.9,396.5 L1428.0,395.7 L1428.0,400.6 L1428.1,396.0 L1428.2,385.6 L1428.2,386.7 L1428.3,381.2 L1428.3,376.9 L1428.4,388.4 L1428.4,374.9 L1428.5,375.4 L1428.6,380.1 L1428.6,370.4 L1428.7,363.6 L1428.7,377.1 L1428.8,365.1 L1428.8,360.6 L1428.9,365.5 L1429.0,361.8 L1429.0,353.6 L1429.1,361.5 L1429.1,364.5 L1429.2,362.8 L1429.2,362.4 L1429.3,373.2 L1429.3,369.7 L1429.4,368.3 L1429.5,370.7 L1429.5,375.1 L1429.6,378.0 L1429.6,380.4 L1429.7,381.2 L1429.7,385.0 L1429.8,390.5 L1429.8,394.8 L1429.9,392.5 L1430.0,400.9 L1430.0,399.6 L1430.1,400.9 L1430.1,396.4 L1430.2,416.3 L1430.2,405.7 L1430.3,411.0 L1430.3,418.1 L1430.4,420.6 L1430.5,421.7 L1430.5,416.6 L1430.6,426.5 L1430.6,418.8 L1430.7,423.8 L1430.7,425.4 L1430.8,427.0 L1430.8,419.0 L1430.9,417.6 L1430.9,410.6 L1431.0,408.0 L1431.0,408.9 L1431.0,400.6 L1431.1,398.5 L1431.1,400.7 L1431.2,397.4 L1431.2,391.6 L1431.3,393.8 L1431.3,391.9 L1431.4,397.2 L1431.4,385.6 L1431.5,383.6 L1431.5,387.6 L1431.5,384.9 L1431.6,373.7 L1431.6,381.1 L1431.7,371.1 L1431.7,377.5 L1431.8,372.9 L1431.8,375.1 L1431.9,367.1 L1431.9,365.4 L1432.0,364.9 L1432.0,359.1 L1432.1,363.2 L1432.1,365.1 L1432.2,362.1 L1432.2,357.3 L1432.2,362.7 L1432.3,363.3 L1432.3,368.7 L1432.4,374.0 L1432.4,378.4 L1432.5,381.1 L1432.5,375.9 L1432.6,375.1 L1432.6,389.5 L1432.7,383.1 L1432.7,386.1 L1432.8,393.8 L1432.8,403.5 L1432.9,389.0 L1432.9,395.2 L1433.0,396.0 L1433.0,399.5 L1433.1,402.0 L1433.1,402.8 L1433.1,406.5 L1433.2,406.5 L1433.2,407.8 L1433.3,414.8 L1433.3,412.9 L1433.4,415.5 L1433.4,418.8 L1433.5,423.4 L1433.6,423.4 L1433.6,423.6 L1433.7,413.7 L1433.8,411.3 L1433.8,412.3 L1433.9,418.1 L1434.0,406.9 L1434.0,408.8 L1434.1,399.0 L1434.2,404.5 L1434.2,400.4 L1434.3,391.0 L1434.4,395.5 L1434.4,396.8 L1434.5,394.2 L1434.6,387.7 L1434.6,388.8 L1434.7,385.3 L1434.8,385.8 L1434.8,383.1 L1434.9,382.7 L1435.0,372.2 L1435.0,368.6 L1435.1,371.6 L1435.2,362.1 L1435.2,363.1 L1435.3,364.3 L1435.3,363.7 L1435.3,377.5 L1435.4,379.5 L1435.4,380.9 L1435.4,384.1 L1435.5,381.0 L1435.5,381.0 L1435.5,387.5 L1435.6,388.6 L1435.6,389.2 L1435.6,392.2 L1435.7,391.9 L1435.7,393.1 L1435.7,392.3 L1435.8,397.9 L1435.8,395.6 L1435.8,411.5 L1435.9,406.6 L1435.9,406.5 L1435.9,409.3 L1436.0,421.7 L1436.0,416.6 L1436.0,414.7 L1436.1,430.7 L1436.1,429.3 L1436.1,419.9 L1436.2,423.0 L1436.2,434.1 L1436.2,438.6 L1436.3,438.4 L1436.3,435.1 L1436.3,442.6 L1436.4,447.5 L1436.4,442.3 L1436.4,443.1 L1436.5,446.4 L1436.5,449.1 L1436.5,448.9 L1436.6,456.4 L1436.6,463.0 L1436.6,454.2 L1436.7,458.8 L1436.7,458.1 L1436.8,445.0 L1436.8,444.2 L1436.9,438.7 L1436.9,444.4 L1436.9,435.8 L1437.0,440.2 L1437.0,441.9 L1437.1,427.2 L1437.1,424.2 L1437.1,426.2 L1437.2,423.3 L1437.2,426.5 L1437.3,410.4 L1437.3,419.1 L1437.4,416.6 L1437.4,417.0 L1437.4,412.8 L1437.5,402.2 L1437.5,409.4 L1437.6,412.7 L1437.6,399.8 L1437.7,406.2 L1437.7,398.8 L1437.7,393.1 L1437.8,392.8 L1437.8,385.3 L1437.9,400.6 L1437.9,392.8 L1438.0,399.7 L1438.0,397.1 L1438.1,408.9 L1438.2,401.6 L1438.2,402.5 L1438.3,409.0 L1438.3,415.1 L1438.4,420.8 L1438.4,410.7 L1438.5,421.3 L1438.6,420.3 L1438.6,423.9 L1438.7,425.7 L1438.7,433.9 L1438.8,437.3 L1438.8,434.8 L1438.9,428.7 L1439.0,435.4 L1439.0,444.9 L1439.1,442.2 L1439.1,438.0 L1439.2,445.9 L1439.2,439.2 L1439.3,433.6 L1439.4,437.3 L1439.4,437.3 L1439.5,429.4 L1439.5,430.8 L1439.6,418.3 L1439.7,429.8 L1439.7,416.3 L1439.8,418.0 L1439.8,417.7 L1439.9,413.9 L1439.9,407.0 L1440.0,417.1 L1440.1,410.2 L1440.1,403.2 L1440.2,397.6 L1440.2,403.6 L1440.3,396.4 L1440.4,390.3 L1440.4,388.4 L1440.5,386.7 L1440.5,393.7 L1440.6,393.1 L1440.6,379.4 L1440.7,387.3 L1440.8,386.8 L1440.9,396.4 L1441.0,390.8 L1441.1,399.8 L1441.2,405.4 L1441.3,406.9 L1441.4,409.6 L1441.5,411.8 L1441.6,407.1 L1441.7,414.1 L1441.8,407.0 L1441.9,413.9 L1442.0,420.8 L1442.1,424.9 L1442.2,427.5 L1442.3,418.8 L1442.4,423.1 L1442.5,425.4 L1442.6,417.8 L1442.7,421.6 L1442.8,414.2 L1442.8,414.4 L1442.9,407.5 L1443.0,412.3 L1443.1,409.9 L1443.2,409.2 L1443.3,402.0 L1443.4,405.7 L1443.5,402.4 L1443.6,395.8 L1443.7,396.2 L1443.8,386.5 L1443.9,384.8 L1444.0,387.3 L1444.1,391.4 L1444.2,393.8 L1444.4,384.4 L1444.6,393.9 L1444.7,399.1 L1444.9,392.6 L1445.1,397.0 L1445.2,390.3 L1445.4,402.3 L1445.5,401.9 L1445.8,401.8 L1446.1,407.4 L1446.3,396.3 L1446.6,392.4 L1446.8,395.3 L1447.1,389.6 L1447.3,387.8 L1447.6,394.5 L1447.8,392.0 L1448.1,387.1 L1449.6,385.2 L1451.2,375.5 L1452.7,381.6 L1454.3,382.7 L1455.8,381.6 L1458.0,376.2 L1460.2,375.2 L1462.3,370.7 L1464.5,371.8 L1466.7,379.1 L1468.8,377.4 L1471.0,374.1 L1473.2,377.4 L1475.3,368.2 L1477.5,367.5 L1479.7,374.3 L1481.8,372.3 L1484.0,374.1 L1486.1,364.6 L1488.3,367.6 L1490.5,376.8 L1492.6,358.8 L1494.8,359.8 L1493.0,360.0 L1495.2,354.4 L1497.3,367.8 L1499.5,358.7 L1501.6,350.9 L1503.8,354.6 L1506.0,353.1 L1508.1,351.8 L1510.3,361.9 L1512.5,364.0 L1514.6,350.2 L1516.8,351.5 L1519.0,373.5 L1521.1,356.8 L1523.3,364.0 L1525.5,353.6 L1527.6,372.7 L1529.8,362.9 L1531.9,367.3 L1534.1,374.2 L1536.3,347.2 L1538.4,356.9 L1540.6,357.9 L1542.8,373.3 L1544.9,350.2 L1547.1,353.4 L1549.3,367.9 L1551.4,365.2 L1553.6,351.6 L1555.8,360.1 L1557.9,369.0 L1560.1,359.2 L1562.4,343.8 L1564.6,347.0 L1566.8,351.6 L1569.1,347.8 L1571.3,336.9 L1573.5,344.1 L1575.7,348.7 L1578.0,343.0 L1580.2,360.6 L1582.4,348.3 L1584.6,343.1 L1586.9,357.8 L1589.1,344.9 L1591.3,356.9 L1593.5,362.9 L1595.8,346.0 L1598.0,366.1 L1600.2,364.2 L1602.4,364.4 L1604.7,379.7 L1606.9,365.4 L1609.1,357.3 L1611.4,345.9 L1613.6,366.5 L1615.8,342.9 L1618.0,341.2 L1620.3,354.6 L1622.5,338.5 L1624.7,371.5 L1626.9,339.8 L1629.2,348.1 L1631.4,347.8 L1633.6,349.3 L1635.8,347.2 L1638.1,349.7 L1640.3,343.1 L1642.5,348.2 L1644.7,349.4 L1647.0,356.4 L1649.2,354.2 L1651.4,348.9 L1653.7,343.4 L1655.9,353.9 L1658.1,347.5 L1660.3,338.5 L1662.6,354.7 L1664.8,337.9 L1667.0,338.4 L1669.1,354.8 L1671.2,340.0 L1673.2,354.7 L1675.3,331.4 L1677.4,353.8 L1679.6,336.4 L1681.7,364.6 L1683.9,344.3 L1686.1,354.8 L1688.2,346.1 L1690.4,343.5 L1692.6,335.9 L1694.7,339.1 L1696.9,344.5 L1699.0,350.8 L1701.2,346.1 L1703.4,351.3 L1705.6,328.3 L1707.8,340.6 L1710.1,332.2 L1712.3,338.9 L1714.5,350.8 L1716.7,336.1 L1719.0,334.2 L1721.2,340.9 L1723.4,334.0 L1725.6,328.9 L1727.9,339.1 L1730.1,351.8 L1732.3,329.9 L1734.5,350.3 L1736.5,346.4 L1738.4,332.1 L1740.4,342.7 L1742.3,331.7 L1744.4,330.8 L1746.5,338.2 L1748.6,336.4 L1750.6,346.6 L1752.7,338.0 L1754.6,336.1 L1756.4,357.9 L1758.3,357.3 L1760.1,359.8 L1762.0,339.9 L1763.9,349.8 L1765.7,361.0 L1767.9,359.9 L1770.0,344.3 L1772.2,352.7 L1774.4,360.9 L1776.5,355.9 L1778.7,351.0 L1780.9,342.6 L1783.0,361.3 L1785.2,362.5 L1787.4,360.5 L1789.5,349.6 L1791.7,347.8 L1793.9,360.0 L1796.0,353.0 L1798.2,355.4 L1800.3,344.2 L1802.5,360.4 L1804.7,360.1 L1806.8,341.5 L1808.8,349.1 L1810.9,360.1 L1813.0,347.2 L1815.1,346.2 L1817.1,361.0 L1819.2,361.2 L1821.3,354.7 L1823.4,339.9 L1825.5,350.0 L1826.6,361.5 L1827.7,341.0 L1828.8,349.4 L1829.9,357.7 L1831.0,361.8 L1832.1,361.3 L1833.2,362.7 L1835.3,376.3 L1837.4,367.5 L1839.5,353.2 L1841.6,375.9 L1843.6,354.7 L1844.7,359.7 L1845.9,359.6 L1847.0,375.7 L1848.1,380.7 L1849.2,368.4 L1850.3,390.0 L1851.4,367.2 L1853.5,370.4 L1855.6,385.8 L1857.7,395.5 L1859.7,376.9 L1861.8,393.0 L1862.9,395.9 L1864.0,399.1 L1865.2,387.7 L1866.3,381.3 L1867.4,407.8 L1868.5,404.5 L1869.6,409.5 L1867.8,407.2 L1869.5,392.7 L1871.3,388.5 L1873.0,412.1 L1874.7,410.3 L1876.5,399.0 L1878.2,394.0 L1880.3,397.7 L1882.3,414.2 L1884.4,396.1 L1886.5,412.5 L1888.6,420.6 L1890.3,411.2 L1892.0,419.1 L1893.8,403.2 L1895.5,426.9 L1897.2,425.4 L1899.0,421.6 L1901.1,429.0 L1903.3,429.2 L1905.5,399.6 L1907.6,401.3 L1909.8,423.2 L1911.9,408.2 L1913.8,396.3 L1915.7,411.6 L1917.5,419.8 L1919.4,410.1 L1921.2,424.1 L1923.1,414.7 L1924.9,423.1 L1926.6,422.9 L1928.2,435.7 L1929.8,443.7 L1931.4,442.8 L1933.1,429.0 L1934.7,433.6 L1936.3,424.0 L1937.9,420.7 L1939.8,439.2 L1941.6,425.6 L1943.5,442.6 L1945.3,438.4 L1947.2,432.6 L1949.1,455.6 L1950.9,426.6 L1953.1,443.7 L1955.2,434.9 L1957.4,432.5 L1959.6,440.0 L1961.7,436.7 L1963.9,432.6 L1965.8,435.7 L1967.8,431.6 L1969.7,450.5 L1971.7,453.1 L1973.9,431.8 L1976.0,424.1 L1978.2,459.4 L1980.3,434.4 L1982.5,415.6 L1984.7,446.5 L1986.8,445.9 L1989.0,434.6 L1991.2,452.2 L1993.3,441.8 L1995.5,430.3 L1997.7,447.6 L1999.8,450.1 L2002.0,456.4 L2004.2,440.7 L2006.3,455.6 L2008.5,462.0 L2010.6,438.7 L2012.8,431.3 L2015.0,443.6 L2017.1,417.8 L2019.3,430.2 L2021.5,433.3 L2023.6,430.5 L2025.6,438.1 L2027.5,426.8 L2029.5,444.1 L2031.4,437.3 L2033.5,453.6 L2035.6,436.4 L2037.7,439.8 L2039.7,430.9 L2041.8,451.3 L2042.9,452.0 L2044.0,439.1 L2045.2,435.1 L2046.3,479.3 L2047.4,442.3 L2048.5,444.4 L2049.6,476.6 L2051.3,476.6 L2053.1,460.7 L2054.8,452.5 L2056.5,484.0 L2058.3,467.7 L2060.0,452.5 L2060.8,487.8 L2061.6,460.3 L2062.3,467.8 L2063.1,472.2 L2063.9,471.2 L2064.7,487.2 L2065.5,508.5 L2066.2,498.9 L2067.0,484.7 L2067.8,501.9 L2068.8,500.6 L2069.7,504.5 L2070.7,479.7 L2071.7,480.6 L2072.7,498.9 L2073.6,515.0 L2074.6,511.1 L2075.6,515.0 L2076.9,503.2 L2078.2,527.9 L2079.5,510.3 L2080.8,514.8 L2082.1,517.6 L2083.4,523.4 L2084.5,516.7 L2085.6,538.1 L2086.7,515.8 L2087.8,516.2 L2088.9,506.4 L2090.1,538.3 L2091.2,513.2 L2092.9,527.6 L2094.6,539.1 L2096.4,537.6 L2098.1,548.0 L2099.8,544.2 L2101.6,554.3 L2103.7,540.3 L2105.9,536.9 L2108.1,559.1 L2110.2,545.9 L2112.4,538.7 L2114.5,524.1 L2116.7,526.6 L2118.9,535.7 L2121.0,530.5 L2123.2,533.6 L2125.4,548.1 L2127.5,554.5 L2129.4,541.0 L2131.2,555.3 L2133.1,524.6 L2135.0,560.0 L2136.8,557.9 L2138.7,561.3 L2140.5,516.9 L2142.7,565.5 L2144.8,543.0 L2147.0,559.3 L2149.2,556.2 L2151.3,553.8 L2153.5,571.6 L2155.7,563.9 L2157.8,545.4 L2160.0,543.0 L2162.2,534.1 L2164.3,553.1 L2166.5,559.7 L2168.7,557.7 L2170.8,563.1 L2173.0,553.4 L2175.2,543.7 L2177.3,545.3 L2179.5,523.6 L2181.3,521.0 L2183.2,537.4 L2185.0,550.8 L2186.9,529.5 L2188.8,542.5 L2190.6,531.4 L2192.5,543.1 L2194.6,550.9 L2196.8,542.6 L2199.0,538.2 L2201.1,511.4 L2203.3,524.2 L2205.5,547.7 L2207.6,517.8 L2209.8,510.5 L2211.9,518.2 L2214.1,545.2 L2216.3,543.2 L2218.4,535.7 L2220.2,522.2 L2221.9,533.4 L2223.6,513.8 L2225.4,534.4 L2227.1,524.5 L2228.8,534.7 L2230.6,528.4 L2232.3,520.8 L2234.0,502.9 L2235.8,499.2 L2237.5,509.9 L2239.2,533.5"/>
<path class="blk" stroke-width="7.5" d="M290.4,1372.7 L292.1,1371.9 L294.6,1370.4 L295.7,1369.0 L296.9,1367.5 L297.8,1365.2 L298.3,1363.8 L298.8,1362.3 L299.2,1360.7 L299.6,1359.1 L300.1,1357.4 L300.5,1355.7 L300.9,1354.0 L301.3,1352.4 L301.7,1350.9 L302.1,1349.4 L302.5,1347.7 L302.9,1346.0 L303.3,1344.4 L303.6,1342.8 L303.9,1341.2 L304.3,1339.7 L304.7,1338.2 L305.0,1336.7 L305.5,1335.2 L306.0,1333.8 L307.1,1331.0 L308.4,1328.5 L309.8,1326.0 L311.2,1323.5 L312.5,1320.8 L313.0,1319.4 L313.6,1318.0 L314.2,1316.5 L314.7,1315.1 L315.2,1313.6 L315.7,1312.1 L316.2,1310.5 L316.7,1308.9 L317.2,1307.0 L317.7,1305.2 L318.2,1302.6 L318.8,1299.7 L319.0,1298.2 L319.3,1296.7 L319.5,1295.1 L319.8,1293.5 L320.0,1291.9 L320.2,1290.4 L320.5,1288.8 L320.7,1287.3 L321.1,1284.4 L321.6,1281.8 L321.8,1279.9 L322.1,1278.1 L322.4,1276.4 L322.6,1274.6 L322.9,1273.1 L323.1,1271.5 L323.6,1268.7 L324.2,1266.2 L324.7,1264.6 L325.3,1263.1 L326.6,1260.8 L328.1,1258.4 L329.8,1256.3 L331.7,1254.2 L332.5,1252.4 L333.2,1250.6 L333.8,1248.4 L334.2,1245.7 L334.4,1244.2 L334.5,1242.7 L334.7,1241.1 L334.9,1239.5 L335.0,1237.8 L335.2,1236.2 L335.3,1234.6 L335.5,1233.0 L335.7,1231.4 L335.8,1229.9 L336.2,1226.9 L336.6,1223.9 L337.0,1221.0 L337.3,1218.0 L337.7,1215.0 L338.1,1212.1 L338.4,1209.1 L338.6,1207.5 L338.8,1206.0 L339.0,1204.3 L339.2,1202.7 L339.4,1201.0 L339.6,1199.3 L339.7,1197.7 L339.9,1196.0 L340.1,1194.5 L340.3,1193.0 L340.7,1190.4 L341.0,1188.3 L341.7,1186.4 L342.3,1184.5 L343.6,1184.4 L344.7,1186.0 L345.3,1187.4 L345.9,1188.9 L346.5,1191.2 L347.0,1193.5 L347.4,1195.7 L347.7,1198.3 L348.0,1201.1 L348.2,1202.6 L348.4,1204.1 L348.5,1205.7 L348.7,1207.3 L348.8,1208.9 L349.0,1210.5 L349.1,1212.1 L349.3,1213.7 L349.5,1215.3 L349.6,1216.9 L349.9,1219.7 L350.2,1222.7 L350.4,1224.2 L350.5,1225.7 L350.7,1227.3 L350.8,1228.8 L351.0,1230.4 L351.1,1231.9 L351.3,1233.4 L351.4,1234.9 L351.7,1237.7 L352.0,1240.4 L352.2,1242.9 L352.4,1244.8 L352.6,1246.8 L352.7,1248.5 L352.8,1250.3 L353.0,1251.8 L353.1,1253.4 L353.5,1256.1 L354.0,1258.4 L355.6,1260.9 L357.6,1262.3 L358.4,1263.6 L359.2,1264.9 L359.8,1267.0 L360.2,1269.3 L360.6,1271.8 L361.0,1274.7 L361.1,1276.4 L361.3,1278.1 L361.6,1279.9 L361.8,1281.8 L362.2,1284.4 L362.5,1287.1 L362.7,1288.6 L362.9,1290.1 L363.1,1291.7 L363.3,1293.3 L363.5,1294.9 L363.7,1296.5 L363.9,1298.2 L364.1,1299.8 L364.3,1301.5 L364.5,1303.2 L364.7,1304.9 L364.9,1306.5 L365.1,1308.2 L365.3,1309.8 L365.5,1311.4 L365.7,1313.0 L365.9,1314.6 L366.1,1316.1 L366.3,1317.7 L366.5,1319.3 L366.7,1320.9 L366.9,1322.5 L367.1,1324.1 L367.3,1325.7 L367.5,1327.3 L367.7,1328.9 L367.9,1330.5 L368.1,1332.1 L368.3,1333.6 L368.5,1335.2 L368.7,1336.7 L368.9,1338.3 L369.1,1339.8 L369.2,1341.2 L369.6,1344.2 L369.8,1345.8 L370.0,1347.3 L370.2,1348.9 L370.4,1350.6 L370.6,1352.1 L370.8,1353.7 L371.0,1355.3 L371.2,1356.8 L371.3,1358.3 L371.5,1359.9 L371.9,1362.7 L372.3,1365.4 L372.6,1367.9 L373.0,1370.1 L373.4,1372.2 L373.7,1374.2 L374.1,1375.8 L374.4,1377.4 L375.2,1379.8 L376.1,1381.8 L377.3,1383.0 L378.6,1384.2 L379.9,1384.9 L381.3,1385.7 L382.6,1386.9 L384.0,1388.1 L385.2,1389.5 L386.5,1390.9 L387.7,1393.6 L388.2,1395.1 L388.8,1396.6 L390.4,1398.7 L393.0,1399.5 L394.6,1399.5 L396.2,1399.5 L397.8,1399.1 L399.5,1398.7 L402.0,1397.7 L403.4,1396.9 L404.8,1396.2 L406.1,1395.3 L407.4,1394.3 L408.6,1393.3 L409.9,1392.2 L411.6,1390.1 L413.2,1387.7 L414.7,1385.2 L416.1,1382.7 L417.7,1380.5 L419.7,1378.3 L421.7,1376.4 L423.7,1374.6 L425.5,1372.7 L426.4,1371.5 L427.4,1370.2 L428.2,1368.9 L429.1,1367.6 L429.9,1366.3 L430.6,1364.9 L431.5,1363.1 L432.3,1361.2 L433.1,1359.3 L433.9,1357.4 L435.3,1355.8 L436.2,1357.3 L436.6,1358.8 L437.0,1360.4 L437.4,1362.3 L437.7,1364.1 L438.1,1365.8 L438.4,1367.5 L438.7,1369.2 L439.0,1370.8 L439.2,1372.5 L439.4,1374.3 L439.7,1375.8 L440.0,1377.3 L441.0,1379.2 L443.1,1379.4 L445.7,1378.0 L447.2,1377.3 L448.8,1376.6 L450.4,1376.3 L451.9,1376.1 L453.7,1375.8 L455.5,1375.6 L457.2,1375.3 L459.0,1374.9 L461.8,1374.0 L464.2,1372.5 L465.7,1370.5 L466.3,1369.0 L467.0,1367.5 L467.9,1364.7 L468.3,1362.9 L468.7,1361.0 L469.0,1359.1 L469.4,1357.2 L469.8,1355.6 L470.2,1354.0 L470.9,1351.9 L472.9,1352.4 L473.8,1354.1 L474.8,1355.8 L475.4,1357.4 L476.1,1358.9 L476.7,1360.8 L477.3,1362.6 L478.7,1364.9 L481.1,1365.0 L482.5,1363.7 L483.9,1362.3 L485.2,1360.4 L486.5,1358.0 L487.2,1356.6 L487.9,1355.2 L488.6,1353.8 L489.2,1352.3 L489.8,1350.8 L490.4,1349.4 L490.9,1347.9 L491.3,1346.4 L491.7,1344.8 L492.1,1343.2 L492.5,1341.6 L492.9,1339.9 L493.2,1338.3 L493.5,1336.8 L493.9,1335.3 L494.3,1333.8 L494.7,1332.2 L495.1,1330.7 L495.5,1329.1 L495.8,1327.5 L496.2,1326.0 L496.6,1324.5 L497.4,1322.2 L498.2,1320.8 L500.1,1321.6 L501.1,1323.8 L502.1,1326.0 L502.8,1328.7 L503.2,1330.5 L503.5,1332.3 L503.9,1334.2 L504.2,1336.1 L504.6,1337.8 L505.0,1339.4 L506.0,1341.6 L507.5,1341.8 L509.1,1342.0 L510.8,1340.5 L512.5,1339.0 L513.8,1337.0 L515.1,1334.5 L515.7,1333.1 L516.4,1331.7 L517.0,1330.2 L517.7,1328.7 L518.3,1327.4 L519.0,1326.0 L520.3,1323.3 L521.6,1320.7 L523.0,1318.0 L524.2,1315.4 L525.5,1313.0 L526.2,1311.7 L526.9,1310.3 L528.2,1308.0 L529.5,1305.5 L530.1,1304.0 L530.6,1302.6 L531.5,1299.9 L531.9,1298.4 L532.4,1297.0 L532.8,1295.4 L533.1,1293.9 L533.5,1292.2 L533.9,1290.5 L534.2,1288.8 L534.5,1287.0 L535.0,1284.3 L535.4,1281.3 L535.6,1279.8 L535.7,1278.3 L535.9,1276.7 L536.1,1275.1 L536.3,1273.6 L536.4,1272.0 L536.6,1270.5 L536.8,1269.0 L537.1,1266.2 L537.3,1264.6 L537.5,1263.0 L537.6,1261.4 L537.7,1259.8 L537.8,1258.2 L538.0,1256.6 L538.3,1253.7 L538.9,1251.2 L539.7,1249.4 L541.9,1248.0 L544.7,1247.8 L547.6,1248.0 L550.1,1247.5 L551.4,1246.7 L552.7,1245.8 L553.7,1244.7 L554.8,1243.5 L555.7,1241.9 L556.6,1240.3 L557.6,1237.8 L558.4,1234.9 L558.7,1233.3 L559.1,1231.7 L559.4,1230.0 L559.8,1228.3 L560.2,1226.5 L560.5,1224.7 L561.1,1222.0 L561.6,1219.0 L561.9,1217.5 L562.2,1216.0 L562.5,1214.4 L562.7,1212.9 L563.0,1211.3 L563.3,1209.8 L563.6,1208.3 L563.9,1206.8 L564.4,1203.9 L564.7,1202.3 L565.1,1200.7 L565.4,1199.1 L565.7,1197.5 L566.0,1195.9 L566.4,1194.3 L566.7,1192.8 L567.0,1191.3 L567.7,1188.4 L568.3,1185.7 L569.1,1183.1 L569.9,1181.0 L570.6,1179.0 L571.4,1176.4 L571.8,1174.6 L572.2,1172.7 L572.6,1170.3 L573.0,1167.7 L573.4,1164.7 L573.6,1163.1 L573.8,1161.6 L574.0,1159.9 L574.2,1158.3 L574.4,1156.6 L574.5,1154.9 L574.7,1153.2 L574.9,1151.5 L575.1,1149.8 L575.3,1148.1 L575.5,1146.4 L575.7,1144.8 L575.9,1143.2 L576.1,1141.6 L576.3,1139.9 L576.5,1138.3 L576.7,1136.6 L576.9,1134.9 L577.1,1133.2 L577.3,1131.4 L577.5,1129.7 L577.7,1127.9 L577.9,1126.2 L578.1,1124.4 L578.3,1122.8 L578.5,1121.1 L578.7,1119.5 L578.9,1117.9 L579.3,1115.0 L579.7,1112.5 L580.0,1110.4 L580.5,1108.2 L580.9,1106.0 L581.4,1103.8 L582.6,1103.9 L583.0,1105.4 L583.3,1107.6 L583.7,1110.5 L583.9,1112.2 L584.1,1113.8 L584.3,1115.7 L584.5,1117.6 L584.6,1119.6 L584.8,1121.7 L585.0,1123.8 L585.2,1126.0 L585.4,1128.4 L585.6,1131.0 L585.8,1133.8 L586.0,1136.7 L586.1,1138.2 L586.2,1139.7 L586.3,1141.3 L586.4,1142.8 L586.5,1144.4 L586.6,1146.0 L586.7,1147.6 L586.8,1149.2 L586.9,1150.8 L587.0,1152.4 L587.1,1154.0 L587.2,1155.6 L587.3,1157.2 L587.4,1158.8 L587.5,1160.3 L587.6,1161.9 L587.7,1163.4 L587.8,1164.9 L587.9,1166.4 L588.0,1167.9 L588.1,1169.4 L588.2,1171.0 L588.3,1172.5 L588.4,1174.0 L588.5,1175.5 L588.6,1177.0 L588.7,1178.5 L588.9,1180.0 L589.0,1181.6 L589.1,1183.1 L589.2,1184.6 L589.3,1186.1 L589.4,1187.6 L589.5,1189.1 L589.6,1190.6 L589.7,1192.1 L589.9,1195.1 L590.1,1198.0 L590.2,1201.0 L590.4,1203.9 L590.5,1205.5 L590.5,1207.0 L590.6,1208.6 L590.7,1210.1 L590.7,1211.6 L590.8,1213.2 L590.8,1214.7 L590.9,1216.2 L590.9,1217.7 L591.0,1219.2 L591.0,1220.7 L591.0,1222.2 L591.1,1223.7 L591.1,1225.2 L591.2,1228.2 L591.3,1231.2 L591.4,1232.7 L591.4,1234.2 L591.5,1235.7 L591.5,1237.2 L591.6,1238.7 L591.7,1240.3 L591.8,1241.8 L591.9,1243.3 L592.0,1244.8 L592.0,1246.4 L592.1,1247.9 L592.2,1249.5 L592.4,1251.0 L592.5,1252.6 L592.6,1254.1 L592.7,1255.7 L592.8,1257.2 L592.9,1258.8 L593.0,1260.3 L593.1,1261.8 L593.3,1263.4 L593.4,1264.9 L593.5,1266.4 L593.6,1267.9 L593.8,1270.9 L594.1,1273.8 L594.3,1276.6 L594.4,1278.3 L594.5,1280.0 L594.7,1281.6 L594.8,1283.3 L594.9,1284.9 L595.1,1286.5 L595.2,1288.1 L595.3,1289.7 L595.5,1291.3 L595.6,1292.9 L595.7,1294.4 L595.8,1295.9 L596.0,1297.5 L596.1,1299.0 L596.4,1302.0 L596.6,1304.9 L596.9,1307.8 L597.0,1309.4 L597.2,1311.0 L597.3,1312.6 L597.5,1314.2 L597.6,1315.8 L597.7,1317.4 L597.9,1318.9 L598.0,1320.5 L598.2,1322.0 L598.3,1323.5 L598.6,1326.4 L598.9,1329.1 L599.2,1331.5 L599.5,1333.8 L599.8,1335.9 L600.1,1338.1 L600.4,1339.8 L600.7,1341.5 L601.3,1344.0 L602.1,1345.5 L604.0,1345.2 L605.0,1343.4 L606.0,1341.6 L606.6,1339.3 L607.1,1336.5 L607.4,1334.9 L607.6,1333.3 L607.8,1331.6 L608.1,1329.8 L608.3,1327.9 L608.6,1326.0 L608.9,1323.4 L609.2,1320.6 L609.5,1317.7 L609.7,1316.1 L609.9,1314.6 L610.0,1313.1 L610.2,1311.5 L610.4,1310.0 L610.5,1308.4 L610.7,1306.9 L610.8,1305.4 L611.2,1302.6 L611.4,1301.1 L611.5,1299.5 L611.9,1296.5 L612.3,1293.6 L612.7,1290.8 L613.0,1287.9 L613.4,1284.9 L613.6,1283.4 L613.8,1281.8 L614.1,1279.0 L614.2,1277.5 L614.4,1275.9 L614.5,1274.4 L614.7,1272.8 L614.8,1271.3 L615.0,1269.7 L615.1,1268.2 L615.3,1266.7 L615.6,1263.7 L616.0,1260.9 L616.4,1258.4 L616.7,1256.6 L617.0,1254.7 L617.4,1252.9 L617.8,1251.1 L618.2,1249.6 L618.5,1248.0 L619.4,1245.6 L620.3,1244.2 L621.4,1245.2 L622.6,1246.3 L624.0,1247.8 L625.5,1249.4 L628.0,1247.8 L629.4,1246.3 L630.7,1244.9 L632.0,1243.9 L633.2,1242.9 L636.0,1242.4 L637.2,1243.3 L638.4,1244.2 L639.7,1246.6 L640.4,1248.3 L641.0,1250.0 L641.7,1251.7 L642.3,1253.4 L643.6,1255.8 L644.9,1256.7 L646.2,1257.6 L648.8,1257.1 L650.6,1255.9 L652.3,1253.8 L653.2,1252.2 L654.0,1250.6 L655.1,1248.0 L655.7,1246.3 L656.3,1244.7 L656.8,1242.9 L657.4,1241.2 L657.9,1239.5 L658.4,1237.8 L659.2,1235.1 L659.9,1232.7 L660.2,1231.1 L660.5,1229.2 L660.8,1227.3 L661.1,1225.3 L661.4,1223.1 L661.8,1220.6 L662.2,1217.8 L662.6,1214.9 L662.8,1213.4 L663.0,1211.9 L663.2,1210.3 L663.4,1208.7 L663.6,1207.1 L663.9,1205.4 L664.1,1203.7 L664.3,1202.1 L664.5,1200.4 L664.7,1198.7 L665.0,1196.0 L665.3,1193.2 L665.6,1190.3 L665.7,1188.7 L665.9,1187.2 L666.0,1185.7 L666.2,1184.1 L666.3,1182.5 L666.5,1181.0 L666.6,1179.4 L666.8,1177.8 L666.9,1176.2 L667.1,1174.6 L667.2,1173.1 L667.4,1171.5 L667.5,1170.0 L667.7,1168.4 L667.8,1166.9 L668.0,1165.4 L668.3,1162.5 L668.6,1159.7 L668.8,1158.0 L669.0,1156.3 L669.2,1154.7 L669.4,1153.0 L669.5,1151.4 L669.7,1149.8 L669.9,1148.3 L670.1,1146.7 L670.3,1145.2 L670.5,1143.7 L670.7,1142.2 L670.9,1140.7 L671.1,1139.2 L671.3,1137.7 L671.5,1136.2 L671.7,1134.7 L671.9,1133.2 L672.1,1131.7 L672.3,1130.1 L672.5,1128.6 L672.7,1127.0 L672.9,1125.4 L673.1,1123.9 L673.2,1122.3 L673.4,1120.7 L673.6,1119.1 L673.8,1117.6 L674.0,1116.0 L674.2,1114.4 L674.4,1112.8 L674.6,1111.3 L674.8,1109.7 L675.0,1108.1 L675.2,1106.6 L675.4,1105.0 L675.6,1103.5 L675.8,1101.9 L676.0,1100.4 L676.2,1098.9 L676.4,1097.4 L676.6,1095.9 L676.8,1094.4 L676.9,1092.8 L677.1,1091.2 L677.3,1089.6 L677.5,1088.1 L677.7,1086.5 L677.9,1084.9 L678.1,1083.4 L678.3,1081.8 L678.5,1080.3 L678.7,1078.8 L679.1,1076.0 L679.5,1073.3 L679.9,1070.9 L680.3,1068.8 L680.7,1066.6 L681.2,1064.5 L681.7,1062.8 L682.2,1061.2 L683.2,1059.2 L684.2,1058.4 L685.1,1059.4 L686.1,1061.9 L686.6,1063.5 L687.1,1065.2 L687.6,1067.0 L688.1,1068.8 L688.7,1071.4 L689.4,1074.2 L689.7,1075.7 L690.0,1077.3 L690.3,1078.9 L690.6,1080.5 L691.0,1082.1 L691.3,1083.7 L691.6,1085.4 L691.9,1087.0 L692.5,1089.8 L693.0,1092.8 L693.3,1094.2 L693.5,1095.7 L693.8,1097.2 L694.1,1098.8 L694.4,1100.3 L694.6,1101.8 L694.9,1103.3 L695.2,1104.8 L695.5,1106.3 L695.8,1107.8 L696.2,1109.3 L696.5,1110.7 L697.3,1113.6 L698.0,1116.4 L698.8,1119.3 L699.2,1120.8 L699.6,1122.3 L700.0,1123.8 L700.4,1125.3 L700.7,1127.0 L701.0,1128.6 L701.5,1131.2 L702.0,1133.9 L702.4,1136.7 L702.9,1139.5 L703.3,1142.4 L703.7,1145.3 L703.9,1146.8 L704.1,1148.3 L704.3,1149.9 L704.5,1151.4 L704.7,1153.0 L704.9,1154.5 L705.3,1157.5 L705.5,1159.0 L705.7,1160.6 L705.9,1162.2 L706.1,1163.8 L706.4,1165.4 L706.6,1167.0 L706.8,1168.7 L707.0,1170.3 L707.2,1171.9 L707.4,1173.6 L707.6,1175.2 L707.8,1176.8 L707.9,1178.3 L708.1,1179.9 L708.3,1181.4 L708.5,1182.9 L708.8,1185.7 L709.0,1187.3 L709.2,1188.8 L709.6,1191.5 L709.9,1194.0 L710.2,1196.3 L710.5,1198.9 L710.8,1201.7 L710.9,1203.4 L711.1,1205.0 L711.3,1207.1 L711.4,1209.1 L711.6,1211.5 L711.8,1214.1 L712.0,1216.9 L712.1,1218.4 L712.2,1219.9 L712.4,1221.5 L712.5,1223.1 L712.6,1224.8 L712.7,1226.4 L712.8,1228.1 L712.9,1229.7 L713.0,1231.4 L713.1,1233.1 L713.2,1234.8 L713.4,1236.5 L713.5,1238.2 L713.6,1239.8 L713.7,1241.5 L713.8,1243.1 L713.9,1244.7 L714.0,1246.3 L714.1,1247.8 L714.2,1249.3 L714.4,1252.1 L714.6,1254.8 L714.8,1257.1 L715.0,1259.2 L715.1,1261.3 L715.3,1263.0 L715.5,1264.8 L715.6,1266.3 L715.8,1267.8 L716.0,1270.5 L716.3,1273.0 L716.6,1275.4 L716.9,1277.9 L717.1,1280.5 L717.3,1282.1 L717.5,1283.7 L717.6,1285.4 L717.8,1287.0 L718.0,1288.6 L718.1,1290.2 L718.3,1291.8 L718.5,1293.3 L718.8,1296.3 L719.1,1299.0 L719.5,1301.3 L719.8,1303.5 L720.2,1305.8 L720.5,1307.4 L720.8,1308.9 L721.8,1310.4 L723.4,1309.6 L724.4,1308.4 L725.4,1307.1 L726.2,1305.5 L727.0,1303.9 L727.8,1301.3 L728.2,1299.8 L728.5,1298.3 L728.7,1296.6 L729.0,1294.9 L729.3,1292.9 L729.6,1290.9 L730.0,1288.2 L730.2,1286.7 L730.4,1285.2 L730.5,1283.6 L730.7,1281.9 L730.9,1280.3 L731.1,1278.6 L731.3,1277.0 L731.5,1275.4 L731.8,1272.6 L732.2,1270.1 L732.6,1267.7 L733.1,1265.3 L733.5,1263.5 L733.9,1261.7 L734.8,1261.0 L735.2,1262.2 L735.7,1264.4 L736.1,1267.3 L736.3,1269.0 L736.5,1270.7 L736.8,1272.5 L737.0,1274.3 L737.2,1276.1 L737.4,1277.9 L737.7,1280.5 L738.0,1283.3 L738.1,1284.9 L738.3,1286.4 L738.4,1288.0 L738.6,1289.6 L738.7,1291.1 L738.8,1292.7 L739.0,1294.3 L739.1,1295.9 L739.4,1298.8 L739.7,1301.5 L740.0,1303.9 L740.3,1306.1 L740.6,1308.3 L741.0,1310.1 L741.3,1311.9 L741.9,1314.8 L742.6,1316.9 L745.2,1318.2 L746.3,1316.2 L746.9,1314.7 L747.5,1313.2 L748.2,1311.5 L748.9,1309.8 L749.7,1308.2 L750.4,1306.5 L751.6,1303.9 L752.9,1301.3 L753.6,1299.9 L754.2,1298.6 L755.6,1296.0 L756.9,1293.5 L757.8,1292.1 L758.6,1290.7 L759.5,1289.4 L760.5,1288.1 L762.1,1285.7 L763.4,1283.1 L763.7,1281.3 L764.1,1279.6 L764.1,1277.8 L764.1,1276.0 L764.4,1274.4 L764.7,1272.7 L765.4,1271.4 L766.1,1270.0 L767.1,1268.8 L768.0,1267.6 L768.9,1266.3 L769.9,1264.9 L771.3,1262.6 L772.7,1260.2 L774.0,1257.6 L774.6,1256.1 L775.1,1254.5 L775.5,1251.7 L775.6,1250.1 L775.7,1248.4 L775.8,1246.8 L775.8,1245.1 L775.9,1243.4 L776.0,1241.8 L776.4,1239.0 L777.2,1236.3 L778.1,1234.2 L779.2,1231.9 L779.7,1230.2 L780.3,1228.6 L780.8,1225.9 L781.1,1224.4 L781.3,1222.8 L781.6,1221.0 L781.9,1219.3 L782.1,1217.5 L782.4,1215.8 L782.7,1214.0 L782.9,1212.3 L783.2,1210.7 L783.5,1209.1 L784.2,1206.5 L784.8,1204.9 L785.5,1203.3 L786.9,1201.2 L788.3,1199.2 L788.8,1197.6 L789.4,1196.1 L789.7,1193.6 L789.8,1192.1 L789.9,1190.5 L789.9,1188.9 L790.0,1187.2 L790.0,1185.6 L790.0,1183.9 L790.1,1182.2 L790.1,1180.6 L790.3,1177.7 L790.6,1175.3 L791.4,1173.6 L792.2,1172.0 L794.2,1170.0 L795.0,1168.8 L795.8,1167.5 L796.3,1166.1 L796.7,1164.6 L797.0,1162.9 L797.3,1161.2 L797.6,1159.5 L797.9,1157.7 L798.1,1156.1 L798.4,1154.5 L799.1,1152.2 L799.7,1150.3 L800.4,1148.0 L800.7,1146.1 L801.0,1144.2 L801.3,1142.0 L801.5,1139.6 L801.8,1136.9 L802.0,1134.0 L802.1,1132.5 L802.3,1131.0 L802.4,1129.4 L802.5,1127.9 L802.6,1126.3 L802.8,1124.7 L802.9,1123.2 L803.0,1121.6 L803.2,1120.1 L803.3,1118.5 L803.6,1115.6 L804.0,1112.7 L804.4,1109.9 L804.8,1107.1 L805.2,1104.3 L805.6,1101.5 L806.0,1098.6 L806.4,1095.8 L806.8,1092.9 L807.2,1090.0 L807.5,1087.0 L807.8,1084.0 L808.1,1081.1 L808.4,1078.1 L808.5,1076.6 L808.7,1075.1 L808.8,1073.6 L808.9,1072.1 L809.0,1070.5 L809.2,1069.0 L809.3,1067.4 L809.4,1065.8 L809.5,1064.2 L809.6,1062.6 L809.8,1061.0 L809.9,1059.3 L810.0,1057.6 L810.1,1055.8 L810.3,1053.1 L810.5,1050.3 L810.7,1047.5 L811.0,1044.6 L811.2,1041.7 L811.4,1038.7 L811.5,1037.2 L811.6,1035.7 L811.7,1034.1 L811.8,1032.6 L811.9,1031.1 L812.0,1029.5 L812.1,1027.9 L812.2,1026.4 L812.3,1024.8 L812.4,1023.2 L812.5,1021.7 L812.6,1020.1 L812.6,1018.5 L812.7,1016.9 L812.9,1014.1 L813.0,1011.2 L813.1,1008.4 L813.2,1005.4 L813.3,1002.5 L813.4,999.5 L813.5,996.5 L813.6,993.5 L813.7,992.0 L813.7,990.5 L813.8,989.0 L813.9,987.5 L814.0,984.5 L814.1,981.6 L814.2,978.6 L814.4,975.6 L814.5,972.7 L814.6,971.1 L814.7,969.5 L814.8,967.7 L814.9,965.9 L815.0,964.1 L815.2,962.2 L815.3,960.3 L815.4,958.3 L815.5,956.4 L815.6,954.5 L815.7,952.5 L815.9,950.6 L816.0,948.7 L816.1,946.8 L816.2,945.0 L816.4,943.3 L816.5,941.6 L816.6,939.9 L816.9,937.0 L817.1,934.4 L817.4,932.3 L817.7,930.8 L817.9,929.9 L818.3,929.8 L818.8,931.0 L819.2,933.4 L819.4,935.1 L819.7,936.7 L819.9,938.6 L820.1,940.6 L820.3,942.7 L820.6,944.8 L820.8,947.0 L821.0,949.1 L821.2,951.2 L821.4,953.3 L821.6,955.2 L821.8,957.1 L822.1,959.8 L822.4,962.6 L822.6,965.5 L822.9,968.4 L823.2,971.4 L823.3,972.9 L823.4,974.4 L823.5,976.0 L823.7,977.5 L823.8,979.1 L823.9,980.7 L824.0,982.3 L824.2,983.8 L824.3,985.4 L824.4,987.0 L824.5,988.7 L824.7,990.3 L824.8,991.9 L824.9,993.5 L825.2,996.3 L825.4,999.1 L825.7,1002.0 L825.9,1004.9 L826.2,1007.8 L826.4,1010.7 L826.7,1013.6 L826.9,1016.6 L827.0,1018.1 L827.2,1019.6 L827.3,1021.1 L827.4,1022.7 L827.5,1024.2 L827.6,1025.7 L827.8,1027.3 L827.9,1028.8 L828.0,1030.4 L828.1,1031.9 L828.2,1033.5 L828.3,1035.1 L828.5,1037.8 L828.7,1040.7 L828.8,1043.5 L829.0,1046.4 L829.2,1049.3 L829.3,1052.2 L829.5,1055.2 L829.7,1058.1 L829.8,1061.1 L830.0,1064.1 L830.1,1067.0 L830.3,1070.0 L830.4,1073.0 L830.6,1075.9 L830.7,1078.9 L830.9,1081.8 L831.1,1084.7 L831.2,1087.7 L831.4,1090.7 L831.6,1093.6 L831.7,1096.6 L831.9,1099.6 L832.0,1102.6 L832.2,1105.5 L832.4,1108.5 L832.5,1111.4 L832.7,1114.3 L832.9,1117.2 L833.0,1120.1 L833.2,1123.0 L833.3,1125.8 L833.5,1128.6 L833.6,1130.1 L833.7,1131.7 L833.8,1133.2 L833.9,1134.8 L834.0,1136.3 L834.1,1137.8 L834.2,1139.3 L834.2,1140.8 L834.4,1143.8 L834.6,1146.7 L834.8,1149.7 L835.0,1152.6 L835.2,1155.5 L835.4,1158.4 L835.5,1161.3 L835.7,1164.2 L835.9,1167.2 L836.1,1170.1 L836.3,1173.1 L836.4,1174.6 L836.5,1176.2 L836.6,1177.7 L836.7,1179.2 L836.8,1180.8 L836.8,1182.3 L836.9,1183.9 L837.0,1185.4 L837.1,1186.9 L837.2,1188.5 L837.3,1190.0 L837.4,1191.6 L837.5,1193.1 L837.6,1194.6 L837.7,1196.1 L837.8,1197.6 L838.0,1200.6 L838.1,1203.5 L838.3,1206.3 L838.5,1209.0 L838.7,1211.7 L838.8,1213.5 L839.0,1215.2 L839.1,1217.0 L839.2,1218.7 L839.4,1220.3 L839.5,1222.0 L839.6,1223.6 L839.7,1225.2 L839.9,1226.7 L840.0,1228.2 L840.1,1229.8 L840.3,1231.3 L840.5,1234.2 L840.8,1237.1 L841.0,1240.0 L841.3,1242.9 L841.4,1244.4 L841.6,1246.0 L841.7,1247.5 L841.9,1249.1 L842.0,1250.6 L842.1,1252.1 L842.4,1255.0 L842.7,1257.9 L843.0,1260.8 L843.3,1263.5 L843.6,1266.2 L843.9,1268.8 L844.1,1270.6 L844.3,1272.4 L844.6,1274.2 L844.8,1276.1 L845.0,1278.0 L845.2,1279.9 L845.5,1281.6 L845.7,1283.3 L846.2,1286.3 L846.7,1288.5 L847.3,1289.6 L848.1,1289.3 L848.9,1287.1 L849.4,1285.5 L849.8,1283.8 L850.3,1282.0 L850.7,1280.1 L851.2,1278.4 L851.7,1276.6 L852.5,1273.9 L853.0,1272.5 L853.4,1271.0 L853.9,1269.5 L854.3,1268.0 L854.8,1266.5 L855.2,1264.9 L855.7,1263.3 L856.1,1261.7 L856.5,1260.1 L856.9,1258.4 L857.5,1255.7 L858.1,1253.0 L858.7,1250.3 L859.3,1247.4 L859.5,1245.9 L859.8,1244.4 L860.1,1242.8 L860.3,1241.2 L860.5,1239.4 L860.8,1237.7 L861.1,1234.9 L861.2,1233.4 L861.4,1231.9 L861.5,1230.3 L861.6,1228.7 L861.7,1227.1 L861.8,1225.4 L862.0,1223.8 L862.1,1222.1 L862.2,1220.4 L862.3,1218.7 L862.4,1217.1 L862.5,1215.4 L862.7,1213.8 L862.8,1212.2 L862.9,1210.7 L863.1,1209.2 L863.4,1206.5 L863.6,1204.8 L863.9,1203.1 L864.4,1200.3 L865.0,1197.7 L865.6,1195.2 L866.2,1192.5 L866.5,1190.9 L866.8,1189.4 L867.0,1187.6 L867.3,1185.7 L867.5,1183.2 L867.8,1180.6 L868.0,1177.7 L868.2,1174.7 L868.3,1173.2 L868.4,1171.7 L868.5,1170.1 L868.7,1168.5 L868.8,1166.9 L868.9,1165.3 L869.0,1163.7 L869.1,1162.0 L869.2,1160.4 L869.3,1158.8 L869.4,1157.2 L869.5,1155.6 L869.6,1154.0 L869.7,1152.4 L869.8,1150.9 L869.9,1149.4 L870.0,1147.8 L870.1,1146.3 L870.3,1143.4 L870.5,1140.4 L870.7,1137.5 L871.0,1134.6 L871.2,1131.7 L871.4,1128.7 L871.5,1127.2 L871.6,1125.7 L871.7,1124.2 L871.8,1122.6 L871.9,1121.1 L872.0,1119.5 L872.1,1117.9 L872.3,1116.3 L872.4,1114.6 L872.5,1113.0 L872.6,1110.3 L872.8,1107.5 L873.0,1104.7 L873.2,1101.8 L873.3,1098.8 L873.5,1095.9 L873.7,1092.9 L873.8,1091.4 L873.9,1089.9 L873.9,1088.4 L874.0,1086.9 L874.1,1085.4 L874.2,1083.8 L874.3,1082.3 L874.4,1080.8 L874.5,1079.3 L874.5,1077.8 L874.6,1076.3 L874.7,1074.8 L874.9,1071.8 L875.1,1068.8 L875.2,1065.9 L875.4,1062.9 L875.6,1060.0 L875.7,1057.0 L875.9,1054.0 L876.0,1051.0 L876.2,1048.1 L876.4,1045.1 L876.5,1042.2 L876.7,1039.2 L876.9,1036.3 L877.1,1033.3 L877.3,1030.4 L877.5,1027.5 L877.7,1024.7 L877.8,1023.1 L877.9,1021.5 L878.0,1019.7 L878.2,1018.0 L878.3,1016.2 L878.4,1014.4 L878.5,1012.5 L878.7,1010.6 L878.8,1008.8 L879.0,1006.9 L879.1,1005.0 L879.2,1003.1 L879.4,1001.3 L879.5,999.5 L879.7,997.8 L879.8,996.1 L880.0,994.5 L880.1,992.9 L880.4,990.0 L880.7,987.5 L881.0,985.5 L881.3,984.0 L881.6,983.1 L882.0,982.9 L882.4,984.0 L882.9,986.0 L883.4,988.9 L883.6,990.7 L883.8,992.4 L884.0,994.4 L884.3,996.4 L884.5,998.5 L884.7,1000.6 L884.9,1002.8 L885.1,1004.9 L885.3,1007.0 L885.5,1009.1 L885.7,1011.4 L885.8,1013.9 L886.0,1016.6 L886.2,1019.3 L886.4,1022.2 L886.5,1025.1 L886.6,1026.6 L886.7,1028.1 L886.8,1029.6 L886.8,1031.2 L886.9,1032.7 L887.0,1034.3 L887.1,1035.8 L887.1,1037.4 L887.2,1039.0 L887.3,1040.5 L887.4,1042.1 L887.4,1043.7 L887.5,1045.2 L887.6,1046.8 L887.7,1048.3 L887.7,1049.9 L887.8,1051.4 L887.9,1052.9 L888.1,1055.8 L888.2,1058.8 L888.4,1061.7 L888.5,1064.6 L888.7,1067.5 L888.9,1070.5 L889.0,1073.4 L889.2,1076.3 L889.4,1079.2 L889.5,1082.1 L889.7,1085.1 L889.8,1088.0 L890.0,1090.9 L890.2,1093.8 L890.3,1096.8 L890.5,1099.7 L890.6,1102.6 L890.8,1105.5 L891.0,1108.5 L891.1,1110.0 L891.1,1111.5 L891.2,1113.0 L891.3,1114.5 L891.4,1116.0 L891.5,1117.6 L891.5,1119.1 L891.6,1120.6 L891.7,1122.1 L891.8,1123.6 L891.9,1125.1 L891.9,1126.6 L892.1,1129.6 L892.3,1132.6 L892.4,1135.5 L892.6,1138.4 L892.8,1141.2 L892.9,1144.0 L893.1,1146.7 L893.2,1149.4 L893.4,1151.1 L893.5,1152.8 L893.6,1154.5 L893.7,1156.1 L893.8,1157.8 L893.9,1159.4 L894.0,1161.0 L894.1,1162.6 L894.3,1164.2 L894.4,1165.8 L894.5,1167.3 L894.6,1168.8 L894.7,1170.3 L894.8,1171.8 L895.0,1174.7 L895.2,1177.6 L895.5,1180.4 L895.7,1183.1 L895.8,1185.7 L896.0,1187.3 L896.1,1188.8 L896.3,1191.4 L896.5,1193.7 L896.7,1195.8 L896.9,1198.0 L897.0,1200.4 L897.2,1203.4 L897.3,1205.3 L897.4,1207.1 L897.6,1209.4 L897.7,1211.7 L897.8,1213.9 L897.9,1216.3 L898.0,1219.0 L898.1,1221.8 L898.2,1224.8 L898.2,1226.4 L898.3,1227.9 L898.3,1229.6 L898.4,1231.2 L898.4,1232.8 L898.5,1234.5 L898.5,1236.2 L898.6,1237.9 L898.6,1239.6 L898.7,1241.3 L898.7,1243.1 L898.8,1244.8 L898.9,1246.5 L898.9,1248.3 L899.0,1250.0 L899.0,1251.7 L899.1,1253.4 L899.1,1255.1 L899.2,1256.8 L899.2,1258.4 L899.3,1260.1 L899.3,1261.7 L899.4,1263.2 L899.5,1264.8 L899.6,1267.8 L899.7,1270.6 L899.8,1273.3 L899.9,1275.7 L900.0,1277.9 L900.1,1280.2 L900.3,1282.6 L900.4,1284.5 L900.5,1286.4 L900.6,1288.0 L900.8,1289.6 L901.0,1292.2 L901.3,1294.6 L901.5,1296.7 L901.8,1298.9 L902.1,1301.2 L902.3,1303.9 L902.6,1306.8 L902.9,1309.7 L903.1,1312.6 L903.4,1315.4 L903.7,1318.3 L904.0,1321.2 L904.3,1324.1 L904.6,1327.0 L904.9,1329.9 L905.3,1332.8 L905.5,1334.4 L905.7,1335.9 L905.9,1337.5 L906.1,1339.0 L906.4,1340.6 L906.6,1342.1 L906.8,1343.7 L907.0,1345.2 L907.5,1348.1 L907.9,1350.9 L908.4,1353.5 L908.8,1355.8 L909.2,1357.6 L909.6,1359.4 L910.0,1361.0 L910.3,1362.5 L911.1,1365.0 L911.9,1367.1 L912.7,1368.8 L914.1,1369.6 L915.5,1370.3 L917.9,1371.4 L918.5,1374.3 L918.5,1376.2 L918.5,1378.1 L918.9,1379.9 L919.2,1381.8 L919.9,1383.3 L920.5,1384.8 L921.4,1386.5 L922.3,1388.1 L923.2,1389.5 L924.2,1390.9 L925.7,1392.2 L927.3,1390.3 L928.0,1388.3 L928.6,1386.3 L929.6,1384.4 L930.0,1386.9 L930.0,1389.1 L930.1,1391.3 L930.5,1393.1 L930.9,1394.8 L932.9,1395.8 L935.7,1395.8 L937.2,1396.0 L938.7,1396.1 L941.2,1395.8 L943.9,1396.7 L946.6,1399.5 L949.1,1399.5 L950.2,1400.3 L951.3,1401.9 L952.3,1404.2 L953.3,1405.5 L954.2,1406.8 L955.2,1408.2 L956.9,1409.5 L958.3,1409.1 L959.6,1408.2 L960.9,1405.3 L962.1,1405.5 L963.7,1406.8 L964.5,1410.7 L965.3,1412.4 L966.3,1411.6 L967.3,1414.9 L969.7,1415.6 L972.4,1416.0 L975.1,1419.3 L976.4,1420.0 L977.8,1420.3 L980.5,1420.9 L982.9,1422.2 L983.8,1419.6 L984.7,1418.7 L985.7,1417.3 L986.8,1416.7 L989.6,1417.1 L991.3,1416.0 L993.0,1416.4 L995.8,1418.3 L997.9,1418.1 L1000.0,1417.1 L1002.4,1419.1 L1003.9,1419.5 L1005.4,1419.4 L1007.1,1419.4 L1008.8,1420.4 L1010.5,1419.3 L1012.3,1421.6 L1013.9,1419.9 L1015.6,1422.6 L1017.1,1422.1 L1018.6,1421.4 L1020.1,1421.4 L1021.6,1422.9 L1023.1,1422.7 L1024.7,1423.6 L1026.2,1422.0 L1027.8,1424.5 L1029.5,1423.1 L1031.2,1423.2 L1033.7,1423.9 L1036.5,1423.2 L1039.2,1422.2 L1042.1,1421.2 L1045.0,1421.2 L1047.8,1419.3 L1050.6,1419.5 L1053.5,1420.9 L1056.4,1418.4 L1059.4,1418.0 L1062.3,1419.9 L1065.1,1418.1 L1067.8,1418.2 L1070.1,1417.8 L1071.8,1417.6 L1073.5,1415.7 L1074.9,1416.3 L1076.2,1413.2 L1077.5,1415.0 L1078.8,1412.6 L1080.3,1412.8 L1081.8,1411.1 L1083.3,1411.9 L1084.7,1410.2 L1086.2,1410.2 L1087.8,1408.7 L1089.4,1409.7 L1091.0,1409.0 L1092.6,1406.8 L1094.2,1408.1 L1095.8,1408.5 L1097.4,1406.2 L1099.0,1406.3 L1100.5,1408.7 L1102.1,1409.3 L1103.6,1407.3 L1105.2,1409.8 L1106.8,1410.9 L1108.3,1409.5 L1109.9,1411.7 L1111.4,1410.7 L1113.0,1412.6 L1114.5,1412.0 L1116.0,1412.1 L1117.5,1411.2 L1119.0,1412.9 L1120.5,1413.2 L1122.1,1412.0 L1123.6,1411.4 L1125.2,1411.6 L1126.9,1412.1 L1128.6,1414.3 L1130.1,1413.6 L1131.6,1414.1 L1133.2,1413.6 L1134.8,1411.7 L1136.4,1412.4 L1138.1,1414.1 L1139.7,1413.7 L1141.4,1414.1 L1143.1,1413.5 L1144.8,1413.1 L1146.4,1413.3 L1148.1,1413.7 L1149.7,1412.3 L1151.4,1411.1 L1153.1,1412.0 L1154.8,1411.2 L1156.6,1412.1 L1158.3,1413.1 L1159.9,1412.2 L1161.6,1412.2 L1163.2,1411.8 L1164.7,1412.6 L1167.5,1412.9 L1169.2,1412.8 L1170.9,1413.5 L1173.6,1409.9 L1176.2,1409.5 L1177.7,1408.7 L1179.2,1411.0 L1182.1,1410.4 L1183.6,1410.8 L1185.2,1411.6 L1186.8,1409.5 L1188.4,1412.6 L1190.0,1411.3 L1191.6,1412.5 L1193.2,1412.0 L1194.8,1413.2 L1196.3,1411.8 L1197.9,1411.7 L1199.4,1411.5 L1200.9,1412.8 L1202.4,1411.7 L1203.9,1410.6 L1205.4,1411.0 L1207.0,1411.4 L1208.7,1410.7 L1210.4,1411.2 L1211.9,1411.9 L1213.4,1411.3 L1215.0,1411.8 L1216.6,1410.3 L1218.2,1412.1 L1219.9,1412.3 L1221.6,1411.1 L1223.2,1409.7 L1224.9,1409.8 L1226.6,1411.8 L1228.2,1412.1 L1229.9,1411.6 L1232.7,1410.6 L1235.5,1410.3 L1238.4,1408.5 L1241.3,1409.4 L1244.1,1410.0 L1246.8,1407.2 L1249.4,1408.1 L1251.0,1408.7 L1252.7,1408.0 L1254.3,1407.0 L1255.9,1406.7 L1257.4,1408.1 L1258.9,1408.7 L1261.9,1408.7 L1263.4,1407.4 L1264.9,1408.5 L1266.5,1408.9 L1268.0,1407.8 L1269.5,1409.2 L1271.0,1408.4 L1272.5,1408.2 L1274.0,1407.9 L1275.6,1410.4 L1277.2,1410.8 L1278.8,1408.9 L1280.5,1409.2 L1283.1,1410.2 L1285.8,1410.1 L1288.6,1411.9 L1291.4,1410.4 L1294.3,1411.7 L1297.2,1411.7 L1300.0,1411.2 L1301.6,1412.8 L1303.2,1411.6 L1304.9,1411.8 L1306.5,1412.2 L1308.1,1411.4 L1309.7,1410.8 L1311.4,1413.1 L1313.0,1412.4 L1314.6,1411.8 L1316.2,1411.6 L1317.9,1412.0 L1319.5,1411.1 L1321.1,1410.5 L1322.8,1411.9 L1324.4,1413.1 L1326.1,1410.7 L1327.8,1413.4 L1329.5,1411.7 L1331.1,1413.7 L1332.8,1413.0 L1334.3,1411.6 L1335.9,1411.5 L1337.5,1413.6 L1339.0,1413.9 L1340.6,1413.4 L1342.3,1412.8 L1343.9,1412.7 L1345.5,1413.5 L1347.0,1413.6 L1348.5,1413.7 L1351.5,1412.0 L1353.0,1413.5 L1354.5,1413.8 L1356.1,1412.5 L1357.6,1410.6 L1359.1,1410.9 L1360.6,1412.0 L1362.1,1411.0 L1363.6,1412.2 L1365.2,1411.1 L1366.8,1410.9 L1368.4,1409.0 L1370.1,1409.8 L1372.7,1410.0 L1375.5,1410.2 L1378.4,1409.8 L1381.3,1407.4 L1384.2,1407.8 L1387.0,1408.8 L1389.6,1405.8 L1391.3,1405.5 L1393.0,1405.5 L1394.7,1406.9 L1396.3,1405.4 L1397.9,1406.2 L1399.4,1406.3 L1402.4,1405.8 L1405.2,1403.3 L1406.9,1405.2 L1408.5,1405.5 L1410.1,1405.3 L1411.6,1405.9 L1414.5,1406.2 L1416.9,1406.2 L1418.3,1408.4 L1419.7,1408.8 L1421.2,1408.4 L1422.7,1409.9 L1425.0,1411.1 L1426.4,1408.5 L1427.7,1408.2 L1429.2,1408.5 L1430.7,1407.0 L1432.2,1406.5 L1433.6,1404.8 L1436.4,1403.9 L1439.3,1402.5 L1442.1,1403.5 L1444.9,1404.2 L1446.5,1405.6 L1448.1,1405.9 L1450.9,1404.9 L1452.5,1406.8 L1454.0,1405.3 L1455.6,1406.3 L1457.2,1405.4 L1458.8,1406.8 L1460.5,1405.9 L1462.0,1408.3 L1463.6,1406.6 L1465.2,1407.9 L1466.8,1406.7 L1468.3,1406.2 L1469.9,1407.5 L1471.4,1405.6 L1473.0,1406.1 L1474.5,1406.2 L1476.1,1407.1 L1477.7,1405.9 L1479.2,1403.7 L1480.8,1404.7 L1482.4,1405.9 L1484.0,1405.4 L1485.6,1403.6 L1487.2,1402.6 L1488.9,1402.8 L1490.4,1403.9 L1491.9,1401.8 L1494.8,1403.1 L1496.4,1400.6 L1498.0,1401.2 L1499.4,1400.5 L1500.9,1398.4 L1502.3,1398.5 L1503.7,1398.0 L1505.1,1396.2 L1506.5,1396.2 L1507.9,1395.7 L1509.2,1395.9 L1510.5,1393.1 L1511.9,1392.0 L1513.3,1392.2 L1514.7,1391.7 L1516.4,1390.8 L1518.2,1391.5 L1520.6,1388.9 L1523.4,1389.6 L1526.4,1389.3 L1527.9,1388.4 L1529.4,1389.1 L1532.4,1388.9 L1535.2,1388.4 L1537.7,1389.1 L1539.4,1389.1 L1541.1,1388.5 L1542.6,1385.4 L1544.0,1385.1 L1545.3,1386.0 L1546.6,1382.5 L1548.0,1381.9 L1549.4,1381.2 L1550.8,1383.3 L1552.2,1381.5 L1555.0,1380.4 L1557.8,1378.8 L1559.4,1381.0 L1561.0,1381.2 L1562.6,1380.4 L1564.2,1381.2 L1566.1,1380.5 L1567.9,1380.1 L1569.8,1380.1 L1571.6,1380.8 L1573.1,1380.7 L1574.7,1381.7 L1576.6,1381.1 L1574.8,1380.4 L1573.0,1382.4 L1575.0,1382.6 L1576.6,1382.9 L1578.3,1381.9 L1580.2,1382.6 L1582.2,1383.3 L1584.1,1384.3 L1586.0,1383.2 L1588.9,1384.1 L1590.5,1384.3 L1592.0,1385.3 L1593.6,1383.9 L1595.2,1383.0 L1596.8,1384.2 L1598.4,1385.7 L1600.0,1383.6 L1601.6,1384.9 L1603.1,1383.4 L1604.7,1383.8 L1606.2,1384.7 L1607.8,1383.0 L1609.4,1384.0 L1610.9,1384.2 L1612.5,1383.5 L1614.0,1384.4 L1615.6,1384.5 L1617.1,1382.6 L1618.7,1383.8 L1620.3,1383.6 L1621.8,1382.9 L1623.4,1382.6 L1624.9,1382.3 L1626.5,1382.5 L1628.1,1382.1 L1629.6,1380.6 L1631.2,1381.4 L1632.7,1381.3 L1634.3,1380.2 L1635.8,1381.2 L1637.4,1379.2 L1639.0,1379.6 L1640.5,1379.3 L1642.1,1379.1 L1643.6,1377.5 L1645.2,1378.6 L1646.8,1376.5 L1648.3,1377.4 L1649.9,1376.7 L1651.5,1376.9 L1653.1,1376.9 L1654.7,1376.8 L1656.3,1374.0 L1657.8,1375.5 L1659.4,1373.6 L1660.9,1373.2 L1662.4,1371.2 L1663.9,1373.2 L1666.7,1370.2 L1669.3,1369.3 L1671.8,1368.4 L1674.3,1367.1 L1676.9,1366.3 L1679.5,1365.2 L1682.1,1364.8 L1684.7,1363.3 L1687.3,1363.4 L1689.9,1363.0 L1692.5,1362.1 L1695.1,1359.5 L1697.7,1359.6 L1700.3,1359.1 L1702.9,1358.5 L1704.5,1357.3 L1706.1,1356.4 L1707.7,1358.0 L1709.4,1357.5 L1711.0,1356.5 L1712.6,1357.3 L1714.2,1355.4 L1715.8,1357.3 L1717.5,1357.5 L1719.1,1357.5 L1720.7,1354.7 L1722.3,1356.2 L1724.0,1356.1 L1725.6,1353.9 L1727.2,1354.7 L1728.8,1353.0 L1731.4,1351.8 L1732.7,1350.4 L1734.0,1350.3 L1735.3,1351.1 L1736.6,1349.4 L1737.9,1349.2 L1739.2,1348.9 L1741.8,1345.1 L1744.4,1346.1 L1747.0,1345.5 L1749.6,1344.1 L1752.2,1342.5 L1754.8,1341.2 L1757.4,1341.0 L1760.0,1339.8 L1762.6,1338.3 L1765.2,1338.5 L1767.8,1337.4 L1770.4,1335.4 L1773.0,1334.3 L1775.6,1334.5 L1778.2,1334.4 L1780.8,1333.6 L1782.4,1333.2 L1784.0,1333.6 L1785.6,1332.9 L1787.3,1331.7 L1788.9,1332.3 L1790.5,1331.8 L1792.1,1330.4 L1793.8,1329.5 L1796.4,1329.3 L1799.0,1329.3 L1801.6,1328.4 L1804.2,1325.9 L1806.8,1325.4 L1809.4,1322.8 L1811.9,1323.1 L1814.5,1321.2 L1817.1,1320.9 L1819.7,1319.9 L1822.4,1316.4 L1825.1,1318.1 L1827.7,1314.8 L1830.3,1316.1 L1832.7,1315.1 L1834.1,1312.1 L1835.6,1311.5 L1836.9,1310.3 L1838.2,1311.8 L1839.5,1310.5 L1840.8,1310.3 L1843.1,1308.1 L1845.3,1305.0 L1847.3,1304.4 L1849.2,1301.2 L1850.9,1298.8 L1851.6,1297.7 L1852.4,1297.2 L1853.0,1294.4 L1853.7,1293.5 L1854.3,1292.0 L1854.9,1291.1 L1856.1,1287.6 L1857.4,1285.6 L1858.6,1284.3 L1860.0,1283.2 L1861.3,1283.2 L1863.3,1282.0 L1865.5,1283.9 L1867.8,1285.0 L1870.2,1287.4 L1872.8,1289.8 L1875.6,1289.3 L1877.1,1288.9 L1878.6,1289.3 L1880.1,1288.0 L1881.7,1285.6 L1883.2,1284.1 L1884.7,1283.9 L1885.7,1281.8 L1886.7,1281.8 L1887.7,1278.9 L1888.7,1278.5 L1889.6,1278.1 L1890.5,1275.3 L1891.5,1273.6 L1892.5,1274.1 L1893.4,1271.2 L1894.4,1272.1 L1895.3,1270.1 L1896.2,1269.7 L1898.1,1266.4 L1900.3,1264.3 L1902.7,1262.0 L1905.3,1260.1 L1908.0,1261.7 L1910.6,1258.2 L1911.9,1257.0 L1913.2,1258.8 L1914.5,1256.7 L1915.8,1255.9 L1918.4,1255.5 L1921.0,1254.6 L1923.6,1254.2 L1924.9,1255.4 L1926.2,1257.5 L1927.5,1258.8 L1928.8,1258.7 L1930.1,1259.9 L1931.4,1261.7 L1932.7,1261.2 L1934.0,1264.3 L1935.3,1264.7 L1936.6,1264.0 L1937.9,1266.0 L1939.2,1266.9 L1940.5,1266.2 L1941.8,1268.0 L1943.1,1269.9 L1944.4,1269.7 L1945.7,1271.4 L1947.0,1270.8 L1948.3,1273.9 L1949.6,1273.7 L1952.2,1274.9 L1954.8,1274.4 L1957.4,1276.5 L1960.0,1276.3 L1962.3,1278.4 L1965.1,1278.4 L1967.6,1279.2 L1970.1,1279.3 L1972.7,1278.0 L1975.3,1277.1 L1976.6,1276.9 L1977.9,1274.9 L1979.9,1274.5 L1982.0,1273.7 L1983.9,1271.0 L1985.7,1269.5 L1986.6,1265.4 L1987.5,1265.5 L1988.3,1262.6 L1989.1,1263.0 L1990.0,1260.4 L1990.9,1259.8 L1993.1,1258.5 L1995.6,1255.9 L1997.2,1255.6 L1998.7,1257.4 L2001.6,1257.0 L2003.2,1255.7 L2004.9,1254.3 L2006.6,1254.1 L2008.3,1256.3 L2010.0,1255.9 L2011.7,1254.8 L2013.3,1255.8 L2015.0,1256.2 L2016.7,1254.0 L2018.3,1256.3 L2020.0,1257.1 L2021.6,1256.8 L2023.1,1256.6 L2024.7,1255.0 L2026.1,1254.7 L2027.5,1252.5 L2028.9,1253.4 L2030.2,1251.9 L2031.5,1249.9 L2032.7,1247.7 L2035.1,1246.4 L2037.9,1246.4 L2040.4,1247.9 L2042.9,1246.0 L2044.2,1246.3 L2045.5,1243.4 L2046.8,1242.5 L2048.1,1241.3 L2049.4,1240.2 L2050.6,1240.5 L2052.6,1237.3 L2054.5,1235.1 L2056.5,1234.2 L2058.4,1231.7 L2059.7,1231.9 L2060.9,1230.3 L2062.2,1229.9 L2063.4,1227.8 L2064.8,1227.0 L2066.2,1226.5 L2067.9,1227.6 L2069.5,1227.0 L2071.3,1225.7 L2073.1,1225.2 L2074.8,1224.0 L2076.6,1226.4 L2079.2,1226.2 L2081.8,1226.4 L2084.4,1226.9 L2087.0,1229.1 L2088.3,1230.7 L2089.6,1230.2 L2090.9,1231.1 L2092.2,1232.8 L2093.5,1233.8 L2094.8,1233.4 L2096.1,1234.6 L2097.4,1236.6 L2099.5,1239.4 L2101.7,1240.2 L2103.8,1241.0 L2105.9,1243.5 L2107.8,1245.2 L2108.9,1248.0 L2109.9,1247.6 L2111.9,1252.1 L2113.7,1252.3 L2115.6,1254.2 L2116.6,1254.9 L2117.5,1257.5 L2118.5,1258.8 L2119.5,1260.8 L2120.5,1261.6 L2121.4,1262.4 L2123.4,1262.9 L2124.7,1266.6 L2126.0,1265.6 L2127.3,1266.4 L2128.6,1267.0 L2131.2,1269.7 L2133.7,1271.5 L2136.2,1271.9 L2139.0,1272.6 L2140.6,1272.0 L2142.3,1273.8 L2144.2,1273.9 L2146.0,1272.0 L2147.7,1272.5 L2149.4,1274.1 L2150.8,1274.6 L2152.2,1273.5 L2153.5,1276.9 L2154.7,1277.0 L2155.9,1278.1 L2157.1,1278.0 L2158.9,1281.9 L2160.6,1282.5 L2162.2,1285.5 L2163.6,1289.1 L2164.8,1291.4 L2165.2,1290.8 L2165.7,1292.2 L2166.1,1293.9 L2166.5,1295.1 L2167.0,1299.0 L2167.5,1299.5 L2168.5,1301.9 L2169.5,1304.3 L2170.6,1307.4 L2171.7,1309.9 L2172.7,1313.0 L2173.6,1313.5 L2174.5,1316.2 L2176.2,1318.4 L2177.1,1319.8 L2177.9,1320.9 L2179.0,1321.5 L2180.0,1325.1 L2180.5,1327.8 L2181.0,1327.8 L2182.1,1331.2 L2183.1,1332.3 L2184.3,1335.6 L2185.4,1335.6 L2186.9,1336.8 L2188.3,1339.3 L2190.6,1338.6 L2192.0,1339.2 L2193.3,1341.3 L2194.8,1342.1 L2196.2,1342.0 L2197.4,1343.7 L2198.7,1345.6 L2200.1,1347.2 L2201.6,1348.6 L2202.9,1349.5 L2204.2,1348.6 L2206.5,1350.9 L2207.8,1350.2 L2209.1,1348.0 L2210.4,1349.3 L2211.7,1346.7 L2214.1,1349.2 L2215.4,1349.9 L2216.8,1349.6 L2218.1,1351.0 L2219.5,1352.4 L2221.4,1353.5 L2223.4,1355.1 L2225.3,1358.4 L2227.3,1359.6 L2228.6,1360.5 L2230.0,1362.9 L2232.7,1364.1 L2235.1,1364.0 L2236.6,1363.2 L2238.1,1365.8 L2240.3,1364.6"/>
</g>
<rect class="ax" x="290.0" y="33.5" width="1948.0" height="1450.9" stroke-width="5.4"/>
<line class="ax" x1="290.0" x2="290.0" y1="1484.4" y2="1500.4" stroke-width="5.4"/>
<line class="ax" x1="467.1" x2="467.1" y1="1484.4" y2="1514.4" stroke-width="5.4"/>
<line class="ax" x1="644.2" x2="644.2" y1="1484.4" y2="1500.4" stroke-width="5.4"/>
<line class="ax" x1="821.3" x2="821.3" y1="1484.4" y2="1514.4" stroke-width="5.4"/>
<line class="ax" x1="998.4" x2="998.4" y1="1484.4" y2="1500.4" stroke-width="5.4"/>
<line class="ax" x1="1175.5" x2="1175.5" y1="1484.4" y2="1514.4" stroke-width="5.4"/>
<line class="ax" x1="1352.5" x2="1352.5" y1="1484.4" y2="1500.4" stroke-width="5.4"/>
<line class="ax" x1="1529.6" x2="1529.6" y1="1484.4" y2="1514.4" stroke-width="5.4"/>
<line class="ax" x1="1706.7" x2="1706.7" y1="1484.4" y2="1500.4" stroke-width="5.4"/>
<line class="ax" x1="1883.8" x2="1883.8" y1="1484.4" y2="1514.4" stroke-width="5.4"/>
<line class="ax" x1="2060.9" x2="2060.9" y1="1484.4" y2="1500.4" stroke-width="5.4"/>
<line class="ax" x1="2238.0" x2="2238.0" y1="1484.4" y2="1514.4" stroke-width="5.4"/>
<text transform="translate(466.6,1604) scale(1.04,1)" font-size="96" text-anchor="middle">1000</text>
<text transform="translate(820.8,1604) scale(1.04,1)" font-size="96" text-anchor="middle">1500</text>
<text transform="translate(1175.0,1604) scale(1.04,1)" font-size="96" text-anchor="middle">2000</text>
<text transform="translate(1529.1,1604) scale(1.04,1)" font-size="96" text-anchor="middle">2500</text>
<text transform="translate(1883.3,1604) scale(1.04,1)" font-size="96" text-anchor="middle">3000</text>
<text transform="translate(2237.5,1604) scale(1.04,1)" font-size="96" text-anchor="middle">3500</text>
<text class="b" transform="translate(182.7,827.5) rotate(-90)" font-size="113.5" text-anchor="middle">Absorbance (a.u.)</text>
<g id="xtitle1">
<text class="b" x="767.7" y="1773" font-size="110.2">Wavenumbers</text>
<text class="b" transform="translate(1483.7,1773) scale(0.957,1)" font-size="110.2">(cm</text>
<text class="b" x="1658" y="1712.5" font-size="66">–1</text>
<text class="b" transform="translate(1724.3,1773) scale(0.957,1)" font-size="110.2">)</text>
</g>
<text class="b" transform="translate(379.3,470) rotate(-90) scale(0.945,1)" font-size="88">C-H<tspan font-size="66" dy="25">bend</tspan></text>
<text class="b" transform="translate(533.2,444.5) rotate(-90) scale(0.945,1)" font-size="88">C-H<tspan font-size="66" dy="25">def</tspan></text>
<text class="b" transform="translate(603.3,252) scale(0.955,1)" font-size="88">C=N</text>
<text class="b" transform="translate(603.3,360) scale(0.955,1)" font-size="88">CN</text>
<text class="b" transform="translate(806,381) rotate(-23.7) scale(0.965,1)" font-size="85">Benzenoid Ring</text>
<text class="b" transform="translate(900,491) rotate(-23.9) scale(0.955,1)" font-size="85">Quinoid Ring</text>
<text class="b" transform="translate(965.5,644.4) rotate(-43) scale(0.977,1)" font-size="83">C=O</text>
<text class="b" transform="translate(1562,310.3)" font-size="99">(a)</text>
<text class="b" transform="translate(1756.7,313.5) scale(0.975,1)" font-size="82">C-H</text>
<text class="b" transform="translate(1972.3,411) scale(0.975,1)" font-size="82">-NH</text>
<text class="b" transform="translate(739.4,904.5) scale(0.975,1)" font-size="82">C=N</text>
<text class="b" transform="translate(897.1,985.5)" font-size="82">C=C</text>
<text class="b" transform="translate(621.1,1012)" font-size="82">C-O</text>
<text class="b" transform="translate(406.9,1094)" font-size="82">C-N-C</text>
<text class="b" transform="translate(292.8,1169.5) scale(0.975,1)" font-size="82">C-H</text>
<text class="b" transform="translate(1951.2,1138) scale(0.975,1)" font-size="82">-NH</text>
<text class="b" transform="translate(2063,1219) scale(0.975,1)" font-size="82">-OH</text>
<text class="b" transform="translate(1815.1,1240.5) scale(0.975,1)" font-size="82">C-H</text>
<text class="b" transform="translate(1584.3,1337)" font-size="98">(b)</text>
</g>
<g id="uvvis">
<clipPath id="c2"><rect x="277.0" y="1878.3" width="2030.6999999999998" height="1512.3"/></clipPath>
<g clip-path="url(#c2)">
<path class="red" stroke-width="11" d="M277.5,2197.9 L277.8,2200.7 L278.0,2201.8 L278.1,2204.9 L278.3,2207.8 L278.5,2210.3 L278.8,2212.5 L279.0,2214.2 L279.3,2218.3 L279.5,2220.2 L279.8,2223.7 L280.1,2227.0 L280.4,2229.3 L280.7,2231.0 L281.1,2233.6 L281.4,2237.0 L282.0,2238.6 L282.5,2242.2 L283.1,2244.5 L283.7,2246.8 L284.3,2250.1 L285.0,2251.7 L285.6,2254.3 L286.3,2257.2 L287.0,2259.2 L287.8,2261.7 L288.5,2265.1 L289.2,2267.9 L289.9,2270.4 L290.5,2271.4 L291.2,2274.2 L291.9,2276.3 L292.6,2279.0 L293.3,2281.1 L294.0,2284.1 L294.7,2285.4 L295.4,2287.1 L296.1,2290.4 L296.8,2291.7 L297.6,2294.7 L298.3,2296.6 L299.0,2299.4 L299.8,2301.2 L300.6,2303.7 L301.4,2305.4 L302.2,2308.2 L303.0,2309.9 L303.8,2313.0 L304.6,2314.8 L305.5,2316.4 L306.3,2318.8 L307.1,2321.3 L307.9,2324.1 L308.7,2325.5 L309.5,2328.6 L310.3,2330.8 L311.1,2332.1 L311.9,2335.3 L312.8,2336.7 L313.6,2339.0 L314.4,2342.0 L315.2,2343.7 L316.0,2347.0 L316.8,2348.7 L317.6,2350.7 L318.4,2353.7 L319.3,2354.8 L320.1,2358.2 L320.9,2359.4 L321.7,2361.8 L322.5,2365.3 L323.3,2367.2 L324.1,2368.7 L324.9,2370.8 L325.7,2374.5 L326.6,2376.2 L327.4,2378.8 L328.2,2379.9 L329.0,2383.0 L329.8,2384.9 L330.6,2387.0 L331.4,2389.5 L332.2,2392.3 L333.1,2394.2 L333.9,2396.5 L334.7,2398.4 L335.5,2401.8 L336.3,2403.7 L337.1,2406.1 L337.9,2407.7 L338.9,2410.8 L339.9,2412.7 L340.8,2415.2 L341.8,2417.5 L342.8,2420.1 L343.8,2421.8 L344.7,2423.6 L345.7,2425.8 L346.7,2428.4 L347.7,2430.4 L348.6,2434.1 L349.6,2435.8 L350.6,2438.7 L351.6,2439.8 L352.5,2442.9 L353.5,2446.0 L354.5,2447.9 L355.5,2449.9 L356.4,2452.2 L357.4,2453.9 L358.4,2456.2 L359.4,2458.4 L360.3,2461.0 L361.3,2463.2 L362.3,2466.1 L363.2,2467.1 L364.2,2469.3 L365.2,2471.5 L366.2,2473.4 L367.1,2475.6 L368.3,2478.1 L369.5,2481.0 L370.7,2482.7 L371.9,2486.5 L373.1,2488.0 L374.3,2491.3 L375.6,2493.3 L376.9,2495.7 L378.0,2497.4 L379.1,2500.1 L380.3,2500.7 L381.4,2503.6 L382.6,2505.0 L383.8,2507.6 L385.0,2509.6 L386.2,2510.6 L387.4,2512.6 L388.6,2514.2 L390.0,2516.8 L391.5,2518.8 L393.0,2521.6 L394.4,2524.7 L395.9,2525.9 L397.3,2528.0 L398.8,2530.3 L400.3,2532.1 L401.7,2534.9 L403.2,2536.9 L404.6,2538.1 L406.1,2540.2 L407.6,2542.8 L409.0,2545.2 L410.5,2546.5 L411.9,2547.9 L413.9,2550.9 L415.8,2551.5 L417.8,2553.5 L419.7,2556.6 L421.7,2557.8 L423.6,2559.0 L425.6,2561.6 L427.6,2564.1 L429.6,2565.0 L431.6,2566.4 L433.4,2567.4 L435.3,2568.8 L437.8,2571.9 L440.3,2573.1 L442.7,2574.9 L445.1,2574.6 L447.6,2574.7 L450.2,2574.2 L452.5,2574.0 L454.8,2572.7 L456.8,2571.7 L458.7,2570.6 L460.6,2569.2 L461.9,2570.7 L463.2,2572.6 L464.5,2576.1 L466.7,2573.8 L468.9,2573.4 L470.7,2571.9 L472.5,2570.8 L474.3,2568.8 L476.2,2567.7 L478.0,2566.0 L480.0,2565.0 L482.0,2563.9 L484.0,2561.7 L486.0,2560.3 L487.9,2557.4 L489.9,2555.3 L491.8,2554.2 L493.8,2552.1 L495.7,2550.2 L497.7,2547.9 L499.2,2546.6 L500.7,2545.1 L502.2,2543.6 L503.8,2540.9 L505.2,2539.4 L506.7,2538.3 L508.0,2535.6 L509.4,2533.8 L510.8,2532.1 L512.2,2529.6 L513.4,2528.8 L514.5,2526.9 L515.8,2524.3 L517.1,2522.1 L518.8,2520.5 L520.4,2519.1 L522.1,2517.4 L523.9,2516.5 L525.4,2514.9 L526.9,2512.6 L527.9,2509.9 L528.9,2508.6 L529.7,2504.9 L530.5,2502.5 L531.6,2499.8 L532.7,2497.2 L534.0,2494.7 L535.2,2493.1 L536.7,2490.8 L538.2,2489.4 L539.8,2486.9 L541.4,2485.2 L542.9,2482.5 L544.4,2480.3 L545.6,2478.0 L546.8,2475.7 L547.9,2474.2 L549.1,2471.7 L550.3,2470.0 L551.4,2467.4 L552.6,2465.2 L553.8,2462.3 L554.9,2461.1 L556.1,2458.3 L557.3,2455.8 L558.4,2453.7 L559.6,2451.8 L560.8,2449.9 L561.9,2448.6 L563.1,2446.0 L564.3,2443.8 L565.5,2443.0 L566.6,2440.9 L567.8,2438.2 L569.3,2436.2 L570.7,2434.2 L572.2,2432.6 L573.6,2431.5 L575.1,2429.8 L576.6,2427.4 L578.0,2424.8 L579.5,2423.3 L580.9,2421.2 L582.4,2419.2 L583.9,2416.7 L585.3,2415.6 L586.8,2414.0 L588.2,2411.9 L589.7,2409.0 L591.2,2407.8 L592.6,2405.5 L594.0,2404.6 L595.4,2402.5 L596.8,2401.7 L598.2,2399.8 L599.7,2397.0 L601.3,2395.6 L602.9,2394.8 L604.7,2392.2 L606.5,2390.2 L608.4,2388.2 L610.4,2386.7 L612.4,2384.9 L614.5,2382.3 L616.4,2381.2 L618.4,2378.7 L620.4,2376.3 L622.3,2375.8 L624.3,2373.7 L626.2,2371.6 L628.2,2371.7 L630.1,2368.8 L632.1,2368.4 L634.0,2366.9 L635.9,2366.2 L637.8,2364.2 L639.7,2362.7 L641.6,2361.6 L643.5,2360.3 L645.4,2359.7 L647.5,2358.1 L649.6,2357.5 L651.9,2355.4 L654.2,2354.2 L656.7,2352.7 L659.1,2352.4 L661.6,2350.8 L664.1,2349.4 L666.6,2347.7 L669.1,2346.1 L671.5,2344.4 L674.0,2344.3 L676.4,2342.5 L678.8,2340.6 L681.3,2339.6 L683.7,2338.4 L686.1,2338.3 L688.6,2337.5 L691.0,2335.4 L693.4,2335.4 L695.9,2333.8 L698.3,2333.5 L700.7,2333.0 L703.2,2331.8 L705.6,2331.2 L708.1,2329.7 L710.5,2328.2 L712.9,2328.0 L715.4,2327.2 L717.8,2325.6 L720.2,2325.0 L722.7,2324.0 L725.1,2322.8 L727.5,2322.6 L730.0,2322.2 L732.4,2321.9 L734.8,2322.0 L737.3,2321.2 L739.7,2322.0 L742.1,2321.5 L744.6,2321.4 L747.0,2320.8 L749.4,2320.5 L751.9,2319.9 L754.3,2320.0 L756.8,2318.9 L759.2,2319.0 L761.6,2318.8 L764.1,2318.4 L766.5,2317.8 L768.9,2317.5 L771.4,2317.5 L773.8,2318.1 L776.2,2318.6 L778.7,2319.1 L781.1,2319.2 L783.5,2318.8 L786.0,2320.0 L788.4,2319.2 L790.8,2320.1 L793.3,2319.4 L795.7,2320.7 L798.1,2320.9 L800.6,2321.7 L803.0,2322.2 L805.5,2322.4 L807.9,2323.4 L810.3,2324.0 L812.8,2324.7 L815.2,2324.9 L817.6,2326.5 L820.1,2328.2 L822.5,2328.3 L824.9,2330.6 L826.9,2331.0 L828.9,2331.8 L830.9,2332.3 L832.9,2334.1 L834.9,2334.9 L836.9,2336.9 L838.9,2338.5 L840.8,2339.8 L842.6,2340.5 L844.4,2341.4 L846.4,2342.4 L848.4,2344.8 L850.2,2346.1 L851.9,2347.8 L853.7,2348.8 L855.5,2351.2 L857.5,2351.8 L859.5,2353.6 L861.3,2355.0 L863.1,2357.0 L865.0,2358.9 L867.0,2359.3 L869.0,2361.6 L871.0,2363.4 L873.0,2364.1 L875.0,2365.5 L877.0,2367.9 L879.0,2370.0 L880.9,2371.8 L882.9,2373.2 L884.8,2374.5 L886.8,2376.2 L888.7,2378.2 L890.6,2380.6 L892.6,2381.4 L894.5,2383.1 L896.5,2385.4 L898.4,2387.8 L900.4,2388.3 L902.3,2389.8 L904.3,2391.7 L906.2,2394.2 L908.2,2396.1 L910.1,2397.2 L912.1,2398.9 L914.0,2401.3 L916.0,2403.1 L917.9,2404.8 L919.9,2406.6 L921.8,2407.1 L923.8,2409.4 L925.7,2411.6 L927.7,2413.3 L929.6,2413.9 L931.6,2416.3 L933.5,2417.5 L935.5,2419.4 L937.4,2419.7 L939.4,2421.8 L941.3,2423.5 L943.2,2424.2 L945.2,2424.9 L947.1,2426.4 L949.1,2427.6 L951.0,2428.7 L953.0,2430.1 L954.9,2432.0 L956.9,2432.4 L959.3,2434.8 L961.8,2436.2 L964.2,2437.7 L966.6,2439.0 L969.1,2440.2 L971.5,2441.8 L973.9,2443.0 L976.4,2443.7 L978.8,2445.3 L981.2,2445.1 L983.7,2446.1 L986.1,2447.0 L988.5,2448.2 L991.0,2449.4 L993.4,2450.4 L995.8,2451.6 L998.3,2452.5 L1000.7,2452.3 L1003.1,2453.5 L1005.6,2454.5 L1008.0,2454.9 L1010.5,2455.2 L1012.9,2456.6 L1015.3,2456.9 L1017.8,2458.1 L1020.2,2458.4 L1022.6,2459.7 L1025.1,2460.3 L1027.5,2459.5 L1029.9,2461.1 L1032.4,2461.6 L1034.8,2461.5 L1037.2,2461.7 L1039.7,2462.8 L1042.1,2463.0 L1044.5,2464.1 L1047.0,2464.9 L1049.4,2464.5 L1051.9,2464.9 L1054.3,2465.7 L1056.7,2466.6 L1059.2,2467.3 L1061.6,2467.6 L1064.0,2467.7 L1066.5,2468.5 L1068.9,2469.9 L1071.3,2470.1 L1073.8,2470.1 L1076.2,2471.4 L1078.6,2471.8 L1081.1,2473.3 L1083.5,2473.1 L1085.9,2474.3 L1088.4,2474.8 L1090.8,2476.4 L1093.2,2478.2 L1095.7,2478.6 L1098.1,2479.4 L1100.6,2481.5 L1103.0,2481.4 L1105.4,2483.1 L1107.9,2485.2 L1110.3,2485.3 L1112.7,2488.0 L1114.7,2488.5 L1116.7,2489.2 L1118.7,2490.8 L1120.7,2492.5 L1122.7,2493.7 L1124.7,2495.2 L1126.6,2495.9 L1128.6,2497.5 L1130.4,2500.1 L1132.2,2500.7 L1134.3,2502.5 L1136.4,2503.6 L1138.3,2505.8 L1140.2,2508.6 L1142.1,2510.1 L1144.0,2511.7 L1145.9,2512.9 L1147.8,2515.4 L1149.4,2517.7 L1150.9,2518.8 L1152.5,2520.8 L1154.0,2523.0 L1155.6,2524.4 L1157.1,2526.2 L1158.7,2527.0 L1160.3,2528.8 L1161.8,2531.8 L1163.4,2533.0 L1164.9,2535.5 L1166.5,2537.1 L1168.1,2539.0 L1169.6,2539.9 L1171.2,2542.7 L1172.7,2544.0 L1174.3,2546.0 L1175.8,2546.6 L1177.4,2549.3 L1179.0,2550.5 L1180.5,2553.2 L1182.1,2555.0 L1183.6,2555.6 L1185.2,2557.7 L1186.8,2559.3 L1188.3,2561.4 L1189.9,2562.8 L1191.4,2565.2 L1193.0,2566.0 L1194.5,2567.7 L1196.4,2569.9 L1198.4,2571.2 L1200.2,2573.3 L1202.1,2575.8 L1204.0,2577.4 L1206.0,2577.9 L1208.0,2579.3 L1210.1,2582.3 L1212.0,2584.0 L1213.8,2584.9 L1215.7,2585.7 L1217.6,2587.4 L1219.6,2590.1 L1221.6,2591.7 L1223.6,2591.7 L1225.7,2593.4 L1227.6,2595.2 L1229.6,2596.3 L1232.0,2598.5 L1234.5,2599.4 L1236.9,2601.4 L1239.4,2601.8 L1241.8,2603.6 L1244.2,2605.6 L1246.7,2606.3 L1249.1,2606.5 L1251.5,2607.5 L1254.0,2609.4 L1256.4,2609.9 L1258.8,2610.8 L1261.3,2611.7 L1263.7,2612.7 L1266.1,2614.1 L1268.6,2613.7 L1271.0,2615.0 L1273.4,2615.3 L1275.9,2616.5 L1278.3,2617.5 L1280.7,2617.3 L1283.2,2618.5 L1285.6,2619.4 L1288.1,2618.8 L1290.5,2620.5 L1292.9,2620.3 L1295.4,2620.8 L1297.8,2621.2 L1300.2,2621.8 L1302.7,2620.8 L1305.1,2621.7 L1307.5,2621.2 L1310.0,2621.9 L1312.4,2622.0 L1314.8,2621.6 L1317.3,2622.2 L1319.7,2622.5 L1322.1,2622.9 L1324.6,2623.4 L1327.0,2622.5 L1329.4,2622.8 L1331.9,2623.0 L1334.3,2623.3 L1336.8,2623.3 L1339.2,2623.2 L1341.6,2622.0 L1344.1,2621.6 L1346.5,2622.6 L1348.9,2621.0 L1351.4,2621.3 L1353.8,2621.4 L1356.2,2620.7 L1358.7,2620.1 L1361.1,2620.5 L1363.5,2619.0 L1366.0,2618.9 L1368.4,2618.8 L1370.8,2617.1 L1373.3,2616.9 L1375.7,2616.5 L1378.1,2615.9 L1380.6,2614.7 L1383.0,2614.4 L1385.5,2613.1 L1387.9,2612.4 L1390.3,2612.1 L1392.8,2611.1 L1395.2,2611.7 L1397.6,2609.8 L1400.1,2609.1 L1402.5,2609.1 L1404.9,2608.3 L1407.2,2606.8 L1409.5,2607.1 L1411.6,2606.1 L1413.8,2605.0 L1416.1,2604.6 L1418.5,2603.2 L1420.5,2602.5 L1422.5,2602.7 L1424.4,2601.2 L1426.5,2601.0 L1428.6,2599.0 L1431.1,2597.8 L1433.5,2596.6 L1436.1,2596.5 L1438.7,2595.0 L1441.4,2592.9 L1444.1,2591.7 L1446.7,2591.7 L1449.4,2590.0 L1451.8,2589.5 L1454.2,2587.0 L1456.3,2586.9 L1458.4,2585.1 L1460.4,2585.1 L1462.4,2584.0 L1464.3,2583.0 L1466.7,2581.2 L1469.1,2581.2 L1471.2,2578.8 L1473.4,2577.6 L1475.7,2577.4 L1477.9,2575.3 L1480.4,2574.1 L1482.8,2573.5 L1485.2,2572.6 L1487.7,2571.7 L1490.1,2570.2 L1492.5,2568.0 L1495.0,2567.7 L1497.4,2566.8 L1499.8,2564.4 L1502.3,2564.2 L1504.7,2562.2 L1507.1,2561.0 L1509.6,2559.3 L1512.0,2559.3 L1514.4,2557.7 L1516.9,2557.1 L1519.3,2555.2 L1521.8,2553.5 L1524.2,2552.4 L1526.6,2551.2 L1529.1,2551.1 L1531.5,2548.7 L1533.9,2547.3 L1536.4,2546.5 L1538.8,2544.9 L1541.2,2544.2 L1543.7,2543.3 L1546.1,2542.1 L1548.5,2540.1 L1551.0,2538.9 L1553.4,2538.2 L1555.8,2537.3 L1558.3,2535.7 L1560.7,2534.7 L1563.1,2534.0 L1565.6,2531.6 L1568.0,2530.6 L1570.5,2529.7 L1572.9,2528.5 L1575.3,2527.9 L1577.8,2526.1 L1580.2,2525.1 L1582.6,2523.5 L1585.1,2522.9 L1587.5,2521.7 L1589.9,2519.6 L1592.4,2518.1 L1594.8,2517.1 L1597.2,2516.1 L1599.7,2515.7 L1602.1,2513.5 L1604.5,2512.8 L1607.0,2511.6 L1609.4,2510.9 L1611.9,2508.4 L1614.3,2508.2 L1616.7,2506.4 L1619.2,2504.9 L1621.6,2504.6 L1624.0,2503.8 L1626.5,2502.3 L1628.9,2500.3 L1631.3,2500.7 L1633.8,2498.6 L1636.2,2498.0 L1638.6,2497.0 L1641.1,2495.2 L1643.5,2494.4 L1645.9,2493.2 L1648.4,2491.7 L1650.8,2490.6 L1653.2,2490.6 L1655.7,2489.0 L1658.1,2488.7 L1660.6,2486.3 L1663.0,2485.6 L1665.4,2484.4 L1667.9,2484.5 L1670.3,2483.2 L1672.7,2482.3 L1675.2,2480.7 L1677.6,2479.0 L1680.0,2478.4 L1682.5,2477.1 L1684.9,2475.7 L1687.3,2475.6 L1689.8,2474.2 L1692.2,2472.9 L1694.6,2472.6 L1697.1,2472.3 L1699.5,2471.4 L1701.9,2469.7 L1704.4,2468.2 L1706.8,2468.3 L1709.3,2466.4 L1711.7,2466.2 L1714.1,2464.5 L1716.6,2465.1 L1719.0,2463.5 L1721.4,2462.4 L1723.9,2461.3 L1726.3,2460.9 L1728.7,2460.7 L1731.2,2459.0 L1733.6,2457.8 L1736.0,2457.4 L1738.5,2457.2 L1740.9,2455.5 L1743.3,2455.1 L1745.8,2454.8 L1748.2,2453.0 L1750.6,2453.0 L1753.1,2451.7 L1755.5,2450.3 L1758.0,2449.3 L1760.4,2449.9 L1762.8,2448.4 L1765.3,2447.6 L1767.7,2447.6 L1770.1,2446.4 L1772.6,2445.6 L1775.0,2444.6 L1777.4,2444.8 L1779.9,2443.4 L1782.3,2443.2 L1784.7,2443.1 L1787.2,2442.3 L1789.6,2441.0 L1792.0,2440.5 L1794.5,2440.7 L1796.9,2440.2 L1799.4,2438.6 L1801.8,2439.4 L1804.2,2437.5 L1806.7,2436.9 L1809.1,2436.2 L1811.5,2436.2 L1814.0,2435.9 L1816.4,2435.7 L1818.8,2434.0 L1821.3,2434.2 L1823.7,2432.7 L1826.1,2432.9 L1828.6,2431.8 L1831.0,2431.5 L1833.4,2430.4 L1835.9,2431.0 L1838.3,2429.6 L1840.7,2430.1 L1843.2,2429.0 L1845.6,2428.9 L1848.1,2428.5 L1850.5,2427.9 L1852.9,2428.1 L1855.4,2427.8 L1857.8,2426.4 L1860.2,2426.1 L1862.7,2426.6 L1865.1,2425.0 L1867.5,2425.1 L1870.0,2424.7 L1872.4,2425.2 L1874.8,2423.4 L1877.3,2423.8 L1879.7,2423.6 L1882.1,2423.1 L1884.6,2421.6 L1887.0,2422.8 L1889.4,2421.5 L1891.9,2422.1 L1894.3,2421.5 L1896.8,2420.9 L1899.2,2421.4 L1901.6,2420.9 L1904.1,2420.1 L1906.5,2420.5 L1908.9,2419.9 L1911.4,2420.0 L1913.8,2419.6 L1916.2,2419.6 L1918.7,2418.3 L1921.1,2418.6 L1923.5,2417.6 L1926.0,2418.6 L1928.4,2418.4 L1930.8,2418.3 L1933.3,2416.8 L1935.7,2417.4 L1938.1,2417.1 L1940.6,2416.3 L1943.0,2416.3 L1945.5,2417.4 L1947.9,2417.1 L1950.3,2415.9 L1952.8,2416.8 L1955.2,2416.4 L1957.6,2415.9 L1960.1,2416.2 L1962.5,2415.5 L1964.9,2415.5 L1967.5,2415.0 L1970.0,2416.0 L1972.6,2415.8 L1975.3,2416.0 L1977.7,2415.6 L1980.2,2415.4 L1982.3,2415.2 L1984.4,2415.8 L1986.5,2415.1 L1988.6,2415.4 L1991.5,2415.5 L1994.4,2414.8 L1996.5,2415.2 L1998.5,2414.1 L2001.0,2414.4 L2003.6,2415.2 L2006.4,2414.1 L2009.2,2413.9 L2012.2,2413.7 L2015.2,2414.9 L2018.2,2413.8 L2021.2,2414.3 L2024.0,2414.2 L2026.9,2414.8 L2029.6,2414.2 L2032.3,2414.3 L2035.0,2413.5 L2037.7,2414.7 L2040.4,2414.6 L2043.1,2414.4 L2045.8,2414.7 L2048.5,2414.4 L2051.2,2414.6 L2053.9,2414.8 L2056.6,2414.4 L2059.3,2413.5 L2062.0,2415.0 L2064.7,2415.2 L2067.5,2414.0 L2070.2,2413.8 L2072.9,2414.4 L2075.6,2414.1 L2078.3,2414.6 L2081.0,2414.2 L2083.7,2414.5 L2086.4,2414.3 L2089.1,2415.0 L2091.8,2414.9 L2094.5,2415.7 L2097.2,2415.3 L2099.9,2415.0 L2102.6,2416.4 L2105.3,2416.4 L2108.0,2416.2 L2110.7,2415.5 L2113.5,2415.9 L2116.2,2416.1 L2118.9,2416.2 L2121.6,2415.7 L2124.3,2416.5 L2126.6,2417.1 L2128.9,2417.1 L2131.2,2417.4 L2133.5,2417.3 L2135.9,2417.5 L2138.2,2417.8 L2140.5,2418.0 L2142.8,2417.9 L2145.1,2417.4 L2147.5,2417.9 L2149.8,2418.0 L2152.1,2418.5 L2154.4,2418.4 L2156.7,2418.1 L2159.1,2417.8 L2161.4,2418.2 L2163.7,2418.3 L2166.0,2419.1 L2168.3,2419.5 L2170.7,2418.7 L2173.0,2419.5 L2175.3,2420.2 L2177.6,2419.6 L2179.9,2419.4 L2182.3,2420.4 L2184.6,2420.2 L2186.9,2420.0 L2189.2,2420.4 L2191.5,2420.2 L2193.8,2420.6 L2196.2,2421.2 L2198.5,2420.9 L2200.8,2420.9 L2203.1,2422.0 L2205.4,2422.8 L2207.8,2422.8 L2210.1,2422.2 L2212.4,2423.3 L2214.7,2422.2 L2217.0,2422.5 L2219.4,2422.4 L2221.7,2422.7 L2224.0,2423.7 L2226.3,2424.1 L2228.6,2423.8 L2231.0,2424.5 L2233.3,2424.1 L2235.6,2425.0 L2237.9,2424.7 L2240.2,2424.8 L2242.5,2424.3 L2244.9,2424.9 L2247.2,2425.1 L2249.5,2425.8 L2251.8,2425.1 L2254.1,2425.3 L2256.5,2426.3 L2258.9,2425.3 L2261.3,2426.2 L2263.8,2425.9 L2266.3,2426.8 L2268.7,2426.8 L2271.2,2426.2 L2273.6,2427.4 L2275.9,2427.0 L2278.3,2427.1 L2280.5,2428.1 L2282.7,2428.1 L2284.6,2427.5 L2286.6,2428.2 L2288.7,2427.5 L2290.8,2428.2 L2292.9,2427.7 L2295.6,2428.8 L2298.4,2429.4 L2300.6,2429.1 L2302.9,2428.3 L2306.1,2429.2"/>
<path class="blk" stroke-width="11" d="M277.5,3069.5 L278.9,3073.1 L280.9,3078.2 L283.4,3083.1 L286.2,3087.4 L289.4,3091.4 L293.1,3094.8 L297.3,3097.2 L301.9,3098.9 L306.8,3100.6 L311.7,3102.7 L316.9,3104.8 L322.3,3106.5 L326.7,3107.4 L331.3,3108.1 L335.9,3108.5 L339.9,3108.4 L346.2,3107.3 L351.6,3104.5 L354.9,3101.5 L358.1,3097.6 L361.3,3092.9 L363.7,3088.5 L366.2,3083.6 L368.6,3078.4 L371.0,3073.4 L373.5,3068.6 L375.9,3064.0 L378.3,3059.2 L380.8,3053.9 L382.7,3049.2 L384.7,3044.2 L386.6,3039.0 L388.6,3033.7 L390.5,3028.6 L392.5,3023.5 L394.4,3018.4 L396.4,3013.4 L398.3,3008.3 L400.3,3003.2 L402.2,2998.2 L404.2,2993.1 L406.1,2988.1 L408.1,2983.0 L410.0,2977.9 L411.9,2972.8 L413.9,2967.7 L415.8,2962.6 L417.8,2957.5 L419.7,2952.6 L421.7,2947.7 L423.6,2942.8 L425.6,2938.1 L427.5,2933.5 L429.5,2929.2 L431.9,2924.3 L434.4,2919.8 L436.8,2915.7 L439.2,2911.7 L442.5,2906.6 L445.9,2902.0 L449.0,2898.1 L453.0,2893.8 L456.8,2891.0 L460.6,2889.5 L464.5,2889.1 L468.4,2889.7 L472.3,2891.4 L476.1,2894.2 L480.1,2898.1 L483.2,2901.2 L486.6,2904.9 L489.9,2909.7 L491.8,2913.3 L493.8,2917.4 L495.7,2921.8 L497.7,2926.5 L499.6,2931.2 L501.6,2936.0 L503.5,2940.9 L505.5,2946.0 L507.4,2951.2 L509.4,2956.5 L511.0,2960.9 L512.6,2965.3 L514.2,2969.8 L515.8,2974.3 L517.5,2979.0 L519.1,2983.8 L520.5,2988.0 L521.9,2992.3 L523.3,2996.7 L524.7,3001.2 L526.0,3005.8 L527.4,3010.3 L528.8,3014.9 L530.2,3019.6 L531.6,3024.4 L533.0,3029.2 L534.4,3034.0 L535.8,3038.8 L537.2,3043.5 L538.6,3048.1 L540.2,3053.1 L541.8,3058.0 L543.4,3062.8 L545.1,3067.5 L546.7,3072.3 L548.3,3077.3 L549.7,3081.7 L551.1,3086.2 L552.5,3090.8 L553.9,3095.4 L555.3,3099.9 L556.7,3104.3 L558.1,3108.4 L560.0,3113.9 L561.9,3119.0 L563.8,3123.9 L565.7,3128.8 L567.8,3133.8 L569.6,3138.0 L571.5,3142.4 L573.5,3146.7 L575.5,3150.9 L577.5,3155.1 L579.5,3159.1 L581.8,3163.7 L584.2,3168.2 L586.5,3172.6 L588.8,3176.7 L591.2,3180.5 L594.1,3184.9 L597.0,3188.9 L599.9,3192.6 L602.9,3196.1 L606.8,3200.4 L610.6,3204.3 L614.5,3207.8 L618.4,3210.8 L622.3,3213.4 L626.2,3215.6 L632.1,3217.9 L637.9,3219.5 L643.3,3220.6 L649.6,3221.4 L653.9,3221.9 L658.9,3222.5 L664.0,3223.0 L669.1,3223.4 L674.4,3223.7 L680.0,3223.9 L685.1,3224.0 L688.6,3224.2 L800.0,3223.6 L1026.0,3224.5 L1319.0,3226.5 L1509.0,3228.0 L1732.0,3229.5 L1888.0,3231.0 L2119.0,3233.5 L2259.0,3235.5 L2306.0,3237.0"/>
</g>
<rect class="ax" x="277.0" y="1878.3" width="2027.6999999999998" height="1512.3" stroke-width="5.8"/>
<line class="ax" x1="380.0" x2="380.0" y1="3390.6" y2="3406.6" stroke-width="5.8"/>
<line class="ax" x1="555.0" x2="555.0" y1="3390.6" y2="3420.6" stroke-width="5.8"/>
<line class="ax" x1="730.0" x2="730.0" y1="3390.6" y2="3406.6" stroke-width="5.8"/>
<line class="ax" x1="904.9" x2="904.9" y1="3390.6" y2="3420.6" stroke-width="5.8"/>
<line class="ax" x1="1079.9" x2="1079.9" y1="3390.6" y2="3406.6" stroke-width="5.8"/>
<line class="ax" x1="1254.9" x2="1254.9" y1="3390.6" y2="3420.6" stroke-width="5.8"/>
<line class="ax" x1="1429.8" x2="1429.8" y1="3390.6" y2="3406.6" stroke-width="5.8"/>
<line class="ax" x1="1604.8" x2="1604.8" y1="3390.6" y2="3420.6" stroke-width="5.8"/>
<line class="ax" x1="1779.8" x2="1779.8" y1="3390.6" y2="3406.6" stroke-width="5.8"/>
<line class="ax" x1="1954.8" x2="1954.8" y1="3390.6" y2="3420.6" stroke-width="5.8"/>
<line class="ax" x1="2129.7" x2="2129.7" y1="3390.6" y2="3406.6" stroke-width="5.8"/>
<line class="ax" x1="2304.7" x2="2304.7" y1="3390.6" y2="3420.6" stroke-width="5.8"/>
<text x="555.0" y="3515.5" font-size="104" text-anchor="middle">300</text>
<text x="904.9" y="3515.5" font-size="104" text-anchor="middle">400</text>
<text x="1254.9" y="3515.5" font-size="104" text-anchor="middle">500</text>
<text x="1604.8" y="3515.5" font-size="104" text-anchor="middle">600</text>
<text x="1954.8" y="3515.5" font-size="104" text-anchor="middle">700</text>
<text x="2304.7" y="3515.5" font-size="104" text-anchor="middle">800</text>
<text class="b" transform="translate(131.6,2706) rotate(-90)" font-size="118.3" text-anchor="middle">Absorbance (a.u.)</text>
<text class="b" x="863.8" y="3699.5" font-size="114.8">Wavelength (nm)</text>
<text class="b" transform="translate(285.5,2188.5) scale(1,1)" font-size="103.5">(a)</text>
<text class="b" transform="translate(293.5,2837.5) scale(1,1)" font-size="102.5">(b)</text>
<text class="" transform="translate(613.6,2269) scale(1.02,1)" font-size="94.5">361 nm</text>
<text class="" transform="translate(1019.3,2420.5) scale(1.02,1)" font-size="94.5">453 nm</text>
<text class="" transform="translate(1708.1,2361) scale(1.02,1)" font-size="94.5">700 nm</text>
<text class="" transform="translate(482.2,2847) scale(1.02,1)" font-size="94.5">274 nm</text>
</g>
</svg>
</body>
</html>
